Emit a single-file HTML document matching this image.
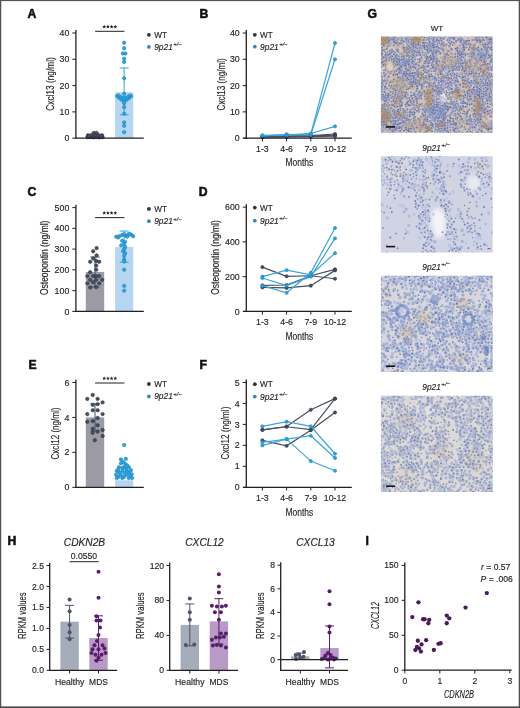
<!DOCTYPE html><html><head><meta charset="utf-8"><style>html,body{margin:0;padding:0;background:#fff;}svg{display:block;will-change:transform;} text{stroke:#231f20;stroke-width:0.15px;}</style></head><body><svg width="520" height="708" viewBox="0 0 520 708" font-family='"Liberation Sans", sans-serif' fill="#231f20">
<rect x="0" y="0" width="520" height="708" fill="#ffffff"/>
<text x="27.6" y="17.5" font-size="12.2" font-weight="bold" fill="#111" style="stroke:#111;stroke-width:0.55px">A</text>
<text x="199.6" y="17.6" font-size="12.2" font-weight="bold" fill="#111" style="stroke:#111;stroke-width:0.55px">B</text>
<text x="367.6" y="17.5" font-size="12.2" font-weight="bold" fill="#111" style="stroke:#111;stroke-width:0.55px">G</text>
<text x="27.6" y="195.9" font-size="12.2" font-weight="bold" fill="#111" style="stroke:#111;stroke-width:0.55px">C</text>
<text x="198.8" y="195.8" font-size="12.2" font-weight="bold" fill="#111" style="stroke:#111;stroke-width:0.55px">D</text>
<text x="28.6" y="368.8" font-size="12.2" font-weight="bold" fill="#111" style="stroke:#111;stroke-width:0.55px">E</text>
<text x="199.6" y="368.8" font-size="12.2" font-weight="bold" fill="#111" style="stroke:#111;stroke-width:0.55px">F</text>
<text x="7.4" y="545.4" font-size="12.2" font-weight="bold" fill="#111" style="stroke:#111;stroke-width:0.55px">H</text>
<text x="365.4" y="545.3" font-size="12.2" font-weight="bold" fill="#111" style="stroke:#111;stroke-width:0.55px">I</text>
<rect x="85.8" y="135.57" width="18.400000000000006" height="2.6299999999999955" fill="#9b9ba6"/>
<rect x="115.1" y="92.17499999999998" width="18.099999999999994" height="46.025000000000006" fill="#b6d5f0"/>
<line x1="124.15" y1="67.979" x2="124.15" y2="114.79299999999999" stroke="#2ca4e0" stroke-width="1.0"/>
<line x1="119.65" y1="67.979" x2="128.65" y2="67.979" stroke="#2ca4e0" stroke-width="1.0"/>
<line x1="119.65" y1="114.79299999999999" x2="128.65" y2="114.79299999999999" stroke="#2ca4e0" stroke-width="1.0"/>
<circle cx="87.50" cy="137.15" r="1.70" fill="#465060" stroke="#2a303c" stroke-width="0.6"/>
<circle cx="90.50" cy="137.15" r="1.70" fill="#465060" stroke="#2a303c" stroke-width="0.6"/>
<circle cx="93.50" cy="137.41" r="1.70" fill="#465060" stroke="#2a303c" stroke-width="0.6"/>
<circle cx="96.50" cy="137.15" r="1.70" fill="#465060" stroke="#2a303c" stroke-width="0.6"/>
<circle cx="99.50" cy="137.41" r="1.70" fill="#465060" stroke="#2a303c" stroke-width="0.6"/>
<circle cx="102.50" cy="137.15" r="1.70" fill="#465060" stroke="#2a303c" stroke-width="0.6"/>
<circle cx="88.00" cy="135.31" r="1.70" fill="#465060" stroke="#2a303c" stroke-width="0.6"/>
<circle cx="91.50" cy="135.04" r="1.70" fill="#465060" stroke="#2a303c" stroke-width="0.6"/>
<circle cx="95.00" cy="135.31" r="1.70" fill="#465060" stroke="#2a303c" stroke-width="0.6"/>
<circle cx="98.50" cy="135.04" r="1.70" fill="#465060" stroke="#2a303c" stroke-width="0.6"/>
<circle cx="102.00" cy="135.31" r="1.70" fill="#465060" stroke="#2a303c" stroke-width="0.6"/>
<circle cx="93.80" cy="132.94" r="1.70" fill="#465060" stroke="#2a303c" stroke-width="0.6"/>
<circle cx="96.50" cy="132.94" r="1.70" fill="#465060" stroke="#2a303c" stroke-width="0.6"/>
<circle cx="89.00" cy="136.10" r="1.70" fill="#465060" stroke="#2a303c" stroke-width="0.6"/>
<circle cx="101.00" cy="136.10" r="1.70" fill="#465060" stroke="#2a303c" stroke-width="0.6"/>
<circle cx="124.15" cy="42.73" r="1.70" fill="#2ca4e0" stroke="#1b86bf" stroke-width="0.6"/>
<circle cx="124.15" cy="48.25" r="1.70" fill="#2ca4e0" stroke="#1b86bf" stroke-width="0.6"/>
<circle cx="122.85" cy="53.51" r="1.70" fill="#2ca4e0" stroke="#1b86bf" stroke-width="0.6"/>
<circle cx="125.45" cy="53.51" r="1.70" fill="#2ca4e0" stroke="#1b86bf" stroke-width="0.6"/>
<circle cx="124.15" cy="58.77" r="1.70" fill="#2ca4e0" stroke="#1b86bf" stroke-width="0.6"/>
<circle cx="124.15" cy="61.93" r="1.70" fill="#2ca4e0" stroke="#1b86bf" stroke-width="0.6"/>
<circle cx="124.15" cy="78.24" r="1.70" fill="#2ca4e0" stroke="#1b86bf" stroke-width="0.6"/>
<circle cx="124.15" cy="93.75" r="1.70" fill="#2ca4e0" stroke="#1b86bf" stroke-width="0.6"/>
<circle cx="117.15" cy="96.12" r="1.70" fill="#2ca4e0" stroke="#1b86bf" stroke-width="0.6"/>
<circle cx="131.15" cy="96.12" r="1.70" fill="#2ca4e0" stroke="#1b86bf" stroke-width="0.6"/>
<circle cx="118.65" cy="95.59" r="1.70" fill="#2ca4e0" stroke="#1b86bf" stroke-width="0.6"/>
<circle cx="129.65" cy="95.59" r="1.70" fill="#2ca4e0" stroke="#1b86bf" stroke-width="0.6"/>
<circle cx="119.45" cy="98.22" r="1.70" fill="#2ca4e0" stroke="#1b86bf" stroke-width="0.6"/>
<circle cx="128.85" cy="98.22" r="1.70" fill="#2ca4e0" stroke="#1b86bf" stroke-width="0.6"/>
<circle cx="120.95" cy="97.17" r="1.70" fill="#2ca4e0" stroke="#1b86bf" stroke-width="0.6"/>
<circle cx="127.35" cy="97.17" r="1.70" fill="#2ca4e0" stroke="#1b86bf" stroke-width="0.6"/>
<circle cx="121.85" cy="99.80" r="1.70" fill="#2ca4e0" stroke="#1b86bf" stroke-width="0.6"/>
<circle cx="126.45" cy="99.80" r="1.70" fill="#2ca4e0" stroke="#1b86bf" stroke-width="0.6"/>
<circle cx="123.15" cy="98.22" r="1.70" fill="#2ca4e0" stroke="#1b86bf" stroke-width="0.6"/>
<circle cx="125.15" cy="98.22" r="1.70" fill="#2ca4e0" stroke="#1b86bf" stroke-width="0.6"/>
<circle cx="124.15" cy="101.12" r="1.70" fill="#2ca4e0" stroke="#1b86bf" stroke-width="0.6"/>
<circle cx="124.15" cy="103.22" r="1.70" fill="#2ca4e0" stroke="#1b86bf" stroke-width="0.6"/>
<circle cx="124.15" cy="107.17" r="1.70" fill="#2ca4e0" stroke="#1b86bf" stroke-width="0.6"/>
<circle cx="124.15" cy="113.74" r="1.70" fill="#2ca4e0" stroke="#1b86bf" stroke-width="0.6"/>
<circle cx="124.15" cy="122.42" r="1.70" fill="#2ca4e0" stroke="#1b86bf" stroke-width="0.6"/>
<circle cx="124.15" cy="125.84" r="1.70" fill="#2ca4e0" stroke="#1b86bf" stroke-width="0.6"/>
<circle cx="124.15" cy="132.15" r="1.70" fill="#2ca4e0" stroke="#1b86bf" stroke-width="0.6"/>
<line x1="75.9" y1="30.1" x2="75.9" y2="138.79999999999998" stroke="#231f20" stroke-width="1.3"/>
<line x1="75.30000000000001" y1="138.2" x2="143.8" y2="138.2" stroke="#231f20" stroke-width="1.3"/>
<line x1="72.30000000000001" y1="138.2" x2="75.9" y2="138.2" stroke="#231f20" stroke-width="1.0"/>
<text x="69.30000000000001" y="141.29999999999998" font-size="8.8" text-anchor="end">0</text>
<line x1="72.30000000000001" y1="111.89999999999999" x2="75.9" y2="111.89999999999999" stroke="#231f20" stroke-width="1.0"/>
<text x="69.30000000000001" y="114.99999999999999" font-size="8.8" text-anchor="end">10</text>
<line x1="72.30000000000001" y1="85.6" x2="75.9" y2="85.6" stroke="#231f20" stroke-width="1.0"/>
<text x="69.30000000000001" y="88.69999999999999" font-size="8.8" text-anchor="end">20</text>
<line x1="72.30000000000001" y1="59.3" x2="75.9" y2="59.3" stroke="#231f20" stroke-width="1.0"/>
<text x="69.30000000000001" y="62.4" font-size="8.8" text-anchor="end">30</text>
<line x1="72.30000000000001" y1="33.0" x2="75.9" y2="33.0" stroke="#231f20" stroke-width="1.0"/>
<text x="69.30000000000001" y="36.1" font-size="8.8" text-anchor="end">40</text>
<text x="54.4" y="84.0" font-size="10.2" text-anchor="middle" transform="rotate(-90 54.4 84.0)" textLength="53.5" lengthAdjust="spacingAndGlyphs">Cxcl13 (ng/ml)</text>
<line x1="95.1" y1="31.3" x2="124.4" y2="31.3" stroke="#231f20" stroke-width="1.0"/>
<polygon points="104.20,24.80 104.76,25.93 106.01,26.11 105.10,26.99 105.32,28.24 104.20,27.65 103.08,28.24 103.30,26.99 102.39,26.11 103.64,25.93" fill="#231f20"/>
<polygon points="107.90,24.80 108.46,25.93 109.71,26.11 108.80,26.99 109.02,28.24 107.90,27.65 106.78,28.24 107.00,26.99 106.09,26.11 107.34,25.93" fill="#231f20"/>
<polygon points="111.60,24.80 112.16,25.93 113.41,26.11 112.50,26.99 112.72,28.24 111.60,27.65 110.48,28.24 110.70,26.99 109.79,26.11 111.04,25.93" fill="#231f20"/>
<polygon points="115.30,24.80 115.86,25.93 117.11,26.11 116.20,26.99 116.42,28.24 115.30,27.65 114.18,28.24 114.40,26.99 113.49,26.11 114.74,25.93" fill="#231f20"/>
<circle cx="148.90" cy="34.80" r="1.9" fill="#2e3445"/>
<text x="154.20000000000002" y="37.699999999999996" font-size="8.2" text-anchor="start">WT</text>
<circle cx="148.90" cy="46.90" r="1.9" fill="#2e8db8"/>
<text x="154.20000000000002" y="49.8" font-size="8.4" font-style="italic" fill="#231f20">9p21<tspan font-size="6.0" dy="-3.6" dx="0.4">+/−</tspan></text>
<polyline points="262.4,136.88 286.6,136.62 310.8,136.10 335.0,135.04" fill="none" stroke="#465060" stroke-width="1.2"/>
<circle cx="262.40" cy="136.88" r="1.60" fill="#465060" stroke="#2a303c" stroke-width="0.6"/>
<circle cx="286.60" cy="136.62" r="1.60" fill="#465060" stroke="#2a303c" stroke-width="0.6"/>
<circle cx="310.80" cy="136.10" r="1.60" fill="#465060" stroke="#2a303c" stroke-width="0.6"/>
<circle cx="335.00" cy="135.04" r="1.60" fill="#465060" stroke="#2a303c" stroke-width="0.6"/>
<polyline points="262.4,136.36 286.6,135.83 310.8,135.57 335.0,133.99" fill="none" stroke="#465060" stroke-width="1.2"/>
<circle cx="262.40" cy="136.36" r="1.60" fill="#465060" stroke="#2a303c" stroke-width="0.6"/>
<circle cx="286.60" cy="135.83" r="1.60" fill="#465060" stroke="#2a303c" stroke-width="0.6"/>
<circle cx="310.80" cy="135.57" r="1.60" fill="#465060" stroke="#2a303c" stroke-width="0.6"/>
<circle cx="335.00" cy="133.99" r="1.60" fill="#465060" stroke="#2a303c" stroke-width="0.6"/>
<polyline points="262.4,137.15 286.6,136.88 310.8,136.62 335.0,136.10" fill="none" stroke="#465060" stroke-width="1.2"/>
<circle cx="262.40" cy="137.15" r="1.60" fill="#465060" stroke="#2a303c" stroke-width="0.6"/>
<circle cx="286.60" cy="136.88" r="1.60" fill="#465060" stroke="#2a303c" stroke-width="0.6"/>
<circle cx="310.80" cy="136.62" r="1.60" fill="#465060" stroke="#2a303c" stroke-width="0.6"/>
<circle cx="335.00" cy="136.10" r="1.60" fill="#465060" stroke="#2a303c" stroke-width="0.6"/>
<polyline points="262.4,135.57 286.6,134.78 310.8,134.25 335.0,42.99" fill="none" stroke="#3aa6dc" stroke-width="1.2"/>
<circle cx="262.40" cy="135.57" r="1.60" fill="#2ca4e0" stroke="#1b86bf" stroke-width="0.6"/>
<circle cx="286.60" cy="134.78" r="1.60" fill="#2ca4e0" stroke="#1b86bf" stroke-width="0.6"/>
<circle cx="310.80" cy="134.25" r="1.60" fill="#2ca4e0" stroke="#1b86bf" stroke-width="0.6"/>
<circle cx="335.00" cy="42.99" r="1.60" fill="#2ca4e0" stroke="#1b86bf" stroke-width="0.6"/>
<polyline points="262.4,136.10 286.6,134.25 310.8,134.78 335.0,59.30" fill="none" stroke="#3aa6dc" stroke-width="1.2"/>
<circle cx="262.40" cy="136.10" r="1.60" fill="#2ca4e0" stroke="#1b86bf" stroke-width="0.6"/>
<circle cx="286.60" cy="134.25" r="1.60" fill="#2ca4e0" stroke="#1b86bf" stroke-width="0.6"/>
<circle cx="310.80" cy="134.78" r="1.60" fill="#2ca4e0" stroke="#1b86bf" stroke-width="0.6"/>
<circle cx="335.00" cy="59.30" r="1.60" fill="#2ca4e0" stroke="#1b86bf" stroke-width="0.6"/>
<polyline points="262.4,135.31 286.6,135.04 310.8,133.47 335.0,126.36" fill="none" stroke="#3aa6dc" stroke-width="1.2"/>
<circle cx="262.40" cy="135.31" r="1.60" fill="#2ca4e0" stroke="#1b86bf" stroke-width="0.6"/>
<circle cx="286.60" cy="135.04" r="1.60" fill="#2ca4e0" stroke="#1b86bf" stroke-width="0.6"/>
<circle cx="310.80" cy="133.47" r="1.60" fill="#2ca4e0" stroke="#1b86bf" stroke-width="0.6"/>
<circle cx="335.00" cy="126.36" r="1.60" fill="#2ca4e0" stroke="#1b86bf" stroke-width="0.6"/>
<line x1="246.3" y1="30.1" x2="246.3" y2="138.79999999999998" stroke="#231f20" stroke-width="1.3"/>
<line x1="243.5" y1="138.2" x2="351.8" y2="138.2" stroke="#231f20" stroke-width="1.3"/>
<line x1="242.70000000000002" y1="138.2" x2="246.3" y2="138.2" stroke="#231f20" stroke-width="1.0"/>
<text x="239.70000000000002" y="141.29999999999998" font-size="8.8" text-anchor="end">0</text>
<line x1="242.70000000000002" y1="111.89999999999999" x2="246.3" y2="111.89999999999999" stroke="#231f20" stroke-width="1.0"/>
<text x="239.70000000000002" y="114.99999999999999" font-size="8.8" text-anchor="end">10</text>
<line x1="242.70000000000002" y1="85.6" x2="246.3" y2="85.6" stroke="#231f20" stroke-width="1.0"/>
<text x="239.70000000000002" y="88.69999999999999" font-size="8.8" text-anchor="end">20</text>
<line x1="242.70000000000002" y1="59.3" x2="246.3" y2="59.3" stroke="#231f20" stroke-width="1.0"/>
<text x="239.70000000000002" y="62.4" font-size="8.8" text-anchor="end">30</text>
<line x1="242.70000000000002" y1="33.0" x2="246.3" y2="33.0" stroke="#231f20" stroke-width="1.0"/>
<text x="239.70000000000002" y="36.1" font-size="8.8" text-anchor="end">40</text>
<line x1="262.4" y1="138.2" x2="262.4" y2="141.39999999999998" stroke="#231f20" stroke-width="1.0"/>
<text x="262.4" y="151.7" font-size="8.8" text-anchor="middle">1-3</text>
<line x1="286.6" y1="138.2" x2="286.6" y2="141.39999999999998" stroke="#231f20" stroke-width="1.0"/>
<text x="286.6" y="151.7" font-size="8.8" text-anchor="middle">4-6</text>
<line x1="310.8" y1="138.2" x2="310.8" y2="141.39999999999998" stroke="#231f20" stroke-width="1.0"/>
<text x="310.8" y="151.7" font-size="8.8" text-anchor="middle">7-9</text>
<line x1="335.0" y1="138.2" x2="335.0" y2="141.39999999999998" stroke="#231f20" stroke-width="1.0"/>
<text x="335.0" y="151.7" font-size="8.8" text-anchor="middle">10-12</text>
<text x="299.3" y="166.39999999999998" font-size="10.4" text-anchor="middle" textLength="27.8" lengthAdjust="spacingAndGlyphs">Months</text>
<text x="224.7" y="84.3" font-size="10.2" text-anchor="middle" transform="rotate(-90 224.7 84.3)" textLength="52.2" lengthAdjust="spacingAndGlyphs">Cxcl13 (ng/ml)</text>
<circle cx="254.80" cy="34.80" r="1.9" fill="#2e3445"/>
<text x="260.1" y="37.699999999999996" font-size="8.2" text-anchor="start">WT</text>
<circle cx="254.80" cy="46.70" r="1.9" fill="#2e8db8"/>
<text x="260.1" y="49.599999999999994" font-size="8.4" font-style="italic" fill="#231f20">9p21<tspan font-size="6.0" dy="-3.6" dx="0.4">+/−</tspan></text>
<rect x="85.8" y="271.95599999999996" width="18.400000000000006" height="39.44400000000002" fill="#9b9ba6"/>
<rect x="115.1" y="247.04399999999998" width="18.099999999999994" height="64.356" fill="#b6d5f0"/>
<line x1="95.0" y1="257.00879999999995" x2="95.0" y2="286.90319999999997" stroke="#465060" stroke-width="1.0"/>
<line x1="90.5" y1="257.00879999999995" x2="99.5" y2="257.00879999999995" stroke="#465060" stroke-width="1.0"/>
<line x1="90.5" y1="286.90319999999997" x2="99.5" y2="286.90319999999997" stroke="#465060" stroke-width="1.0"/>
<line x1="124.15" y1="231.05879999999996" x2="124.15" y2="262.1988" stroke="#2ca4e0" stroke-width="1.0"/>
<line x1="119.65" y1="231.05879999999996" x2="128.65" y2="231.05879999999996" stroke="#2ca4e0" stroke-width="1.0"/>
<line x1="119.65" y1="262.1988" x2="128.65" y2="262.1988" stroke="#2ca4e0" stroke-width="1.0"/>
<circle cx="96.60" cy="248.08" r="1.70" fill="#465060" stroke="#2a303c" stroke-width="0.6"/>
<circle cx="93.20" cy="251.20" r="1.70" fill="#465060" stroke="#2a303c" stroke-width="0.6"/>
<circle cx="96.60" cy="255.35" r="1.70" fill="#465060" stroke="#2a303c" stroke-width="0.6"/>
<circle cx="93.20" cy="258.46" r="1.70" fill="#465060" stroke="#2a303c" stroke-width="0.6"/>
<circle cx="90.20" cy="261.78" r="1.70" fill="#465060" stroke="#2a303c" stroke-width="0.6"/>
<circle cx="96.20" cy="260.95" r="1.70" fill="#465060" stroke="#2a303c" stroke-width="0.6"/>
<circle cx="99.20" cy="261.78" r="1.70" fill="#465060" stroke="#2a303c" stroke-width="0.6"/>
<circle cx="96.20" cy="265.52" r="1.70" fill="#465060" stroke="#2a303c" stroke-width="0.6"/>
<circle cx="96.20" cy="269.67" r="1.70" fill="#465060" stroke="#2a303c" stroke-width="0.6"/>
<circle cx="90.20" cy="272.16" r="1.70" fill="#465060" stroke="#2a303c" stroke-width="0.6"/>
<circle cx="87.40" cy="276.11" r="1.70" fill="#465060" stroke="#2a303c" stroke-width="0.6"/>
<circle cx="93.20" cy="276.11" r="1.70" fill="#465060" stroke="#2a303c" stroke-width="0.6"/>
<circle cx="96.20" cy="276.11" r="1.70" fill="#465060" stroke="#2a303c" stroke-width="0.6"/>
<circle cx="99.20" cy="276.11" r="1.70" fill="#465060" stroke="#2a303c" stroke-width="0.6"/>
<circle cx="90.20" cy="279.84" r="1.70" fill="#465060" stroke="#2a303c" stroke-width="0.6"/>
<circle cx="96.20" cy="279.84" r="1.70" fill="#465060" stroke="#2a303c" stroke-width="0.6"/>
<circle cx="102.20" cy="279.84" r="1.70" fill="#465060" stroke="#2a303c" stroke-width="0.6"/>
<circle cx="87.40" cy="283.37" r="1.70" fill="#465060" stroke="#2a303c" stroke-width="0.6"/>
<circle cx="93.20" cy="282.34" r="1.70" fill="#465060" stroke="#2a303c" stroke-width="0.6"/>
<circle cx="99.20" cy="283.37" r="1.70" fill="#465060" stroke="#2a303c" stroke-width="0.6"/>
<circle cx="90.20" cy="287.53" r="1.70" fill="#465060" stroke="#2a303c" stroke-width="0.6"/>
<circle cx="96.20" cy="287.11" r="1.70" fill="#465060" stroke="#2a303c" stroke-width="0.6"/>
<circle cx="116.15" cy="236.66" r="1.70" fill="#2ca4e0" stroke="#1b86bf" stroke-width="0.6"/>
<circle cx="119.15" cy="236.25" r="1.70" fill="#2ca4e0" stroke="#1b86bf" stroke-width="0.6"/>
<circle cx="122.15" cy="235.00" r="1.70" fill="#2ca4e0" stroke="#1b86bf" stroke-width="0.6"/>
<circle cx="125.15" cy="235.42" r="1.70" fill="#2ca4e0" stroke="#1b86bf" stroke-width="0.6"/>
<circle cx="128.15" cy="235.00" r="1.70" fill="#2ca4e0" stroke="#1b86bf" stroke-width="0.6"/>
<circle cx="131.15" cy="234.59" r="1.70" fill="#2ca4e0" stroke="#1b86bf" stroke-width="0.6"/>
<circle cx="133.15" cy="236.25" r="1.70" fill="#2ca4e0" stroke="#1b86bf" stroke-width="0.6"/>
<circle cx="118.15" cy="237.49" r="1.70" fill="#2ca4e0" stroke="#1b86bf" stroke-width="0.6"/>
<circle cx="127.15" cy="236.66" r="1.70" fill="#2ca4e0" stroke="#1b86bf" stroke-width="0.6"/>
<circle cx="124.15" cy="234.17" r="1.70" fill="#2ca4e0" stroke="#1b86bf" stroke-width="0.6"/>
<circle cx="129.15" cy="233.76" r="1.70" fill="#2ca4e0" stroke="#1b86bf" stroke-width="0.6"/>
<circle cx="122.15" cy="240.82" r="1.70" fill="#2ca4e0" stroke="#1b86bf" stroke-width="0.6"/>
<circle cx="125.15" cy="241.85" r="1.70" fill="#2ca4e0" stroke="#1b86bf" stroke-width="0.6"/>
<circle cx="124.15" cy="243.93" r="1.70" fill="#2ca4e0" stroke="#1b86bf" stroke-width="0.6"/>
<circle cx="121.15" cy="245.38" r="1.70" fill="#2ca4e0" stroke="#1b86bf" stroke-width="0.6"/>
<circle cx="125.15" cy="247.04" r="1.70" fill="#2ca4e0" stroke="#1b86bf" stroke-width="0.6"/>
<circle cx="124.15" cy="249.12" r="1.70" fill="#2ca4e0" stroke="#1b86bf" stroke-width="0.6"/>
<circle cx="123.15" cy="251.20" r="1.70" fill="#2ca4e0" stroke="#1b86bf" stroke-width="0.6"/>
<circle cx="125.15" cy="253.27" r="1.70" fill="#2ca4e0" stroke="#1b86bf" stroke-width="0.6"/>
<circle cx="124.15" cy="255.76" r="1.70" fill="#2ca4e0" stroke="#1b86bf" stroke-width="0.6"/>
<circle cx="124.15" cy="259.50" r="1.70" fill="#2ca4e0" stroke="#1b86bf" stroke-width="0.6"/>
<circle cx="124.15" cy="261.58" r="1.70" fill="#2ca4e0" stroke="#1b86bf" stroke-width="0.6"/>
<circle cx="124.15" cy="269.67" r="1.70" fill="#2ca4e0" stroke="#1b86bf" stroke-width="0.6"/>
<circle cx="124.15" cy="285.87" r="1.70" fill="#2ca4e0" stroke="#1b86bf" stroke-width="0.6"/>
<circle cx="124.15" cy="290.64" r="1.70" fill="#2ca4e0" stroke="#1b86bf" stroke-width="0.6"/>
<line x1="75.9" y1="204.69999999999996" x2="75.9" y2="312.0" stroke="#231f20" stroke-width="1.3"/>
<line x1="75.30000000000001" y1="311.4" x2="143.8" y2="311.4" stroke="#231f20" stroke-width="1.3"/>
<line x1="72.30000000000001" y1="311.4" x2="75.9" y2="311.4" stroke="#231f20" stroke-width="1.0"/>
<text x="69.30000000000001" y="314.5" font-size="8.8" text-anchor="end">0</text>
<line x1="72.30000000000001" y1="290.64" x2="75.9" y2="290.64" stroke="#231f20" stroke-width="1.0"/>
<text x="69.30000000000001" y="293.74" font-size="8.8" text-anchor="end">100</text>
<line x1="72.30000000000001" y1="269.88" x2="75.9" y2="269.88" stroke="#231f20" stroke-width="1.0"/>
<text x="69.30000000000001" y="272.98" font-size="8.8" text-anchor="end">200</text>
<line x1="72.30000000000001" y1="249.11999999999998" x2="75.9" y2="249.11999999999998" stroke="#231f20" stroke-width="1.0"/>
<text x="69.30000000000001" y="252.21999999999997" font-size="8.8" text-anchor="end">300</text>
<line x1="72.30000000000001" y1="228.35999999999996" x2="75.9" y2="228.35999999999996" stroke="#231f20" stroke-width="1.0"/>
<text x="69.30000000000001" y="231.45999999999995" font-size="8.8" text-anchor="end">400</text>
<line x1="72.30000000000001" y1="207.59999999999997" x2="75.9" y2="207.59999999999997" stroke="#231f20" stroke-width="1.0"/>
<text x="69.30000000000001" y="210.69999999999996" font-size="8.8" text-anchor="end">500</text>
<text x="48.1" y="257.8" font-size="10.2" text-anchor="middle" transform="rotate(-90 48.1 257.8)" textLength="74.5" lengthAdjust="spacingAndGlyphs">Osteopontin (ng/ml)</text>
<line x1="95.1" y1="217.6" x2="124.4" y2="217.6" stroke="#231f20" stroke-width="1.0"/>
<polygon points="104.20,211.10 104.76,212.23 106.01,212.41 105.10,213.29 105.32,214.54 104.20,213.95 103.08,214.54 103.30,213.29 102.39,212.41 103.64,212.23" fill="#231f20"/>
<polygon points="107.90,211.10 108.46,212.23 109.71,212.41 108.80,213.29 109.02,214.54 107.90,213.95 106.78,214.54 107.00,213.29 106.09,212.41 107.34,212.23" fill="#231f20"/>
<polygon points="111.60,211.10 112.16,212.23 113.41,212.41 112.50,213.29 112.72,214.54 111.60,213.95 110.48,214.54 110.70,213.29 109.79,212.41 111.04,212.23" fill="#231f20"/>
<polygon points="115.30,211.10 115.86,212.23 117.11,212.41 116.20,213.29 116.42,214.54 115.30,213.95 114.18,214.54 114.40,213.29 113.49,212.41 114.74,212.23" fill="#231f20"/>
<circle cx="148.90" cy="208.90" r="1.9" fill="#2e3445"/>
<text x="154.20000000000002" y="211.8" font-size="8.2" text-anchor="start">WT</text>
<circle cx="148.90" cy="221.20" r="1.9" fill="#2e8db8"/>
<text x="154.20000000000002" y="224.10000000000002" font-size="8.4" font-style="italic" fill="#231f20">9p21<tspan font-size="6.0" dy="-3.6" dx="0.4">+/−</tspan></text>
<polyline points="262.4,267.08 286.6,276.29 310.8,275.77 335.0,278.73" fill="none" stroke="#465060" stroke-width="1.2"/>
<circle cx="262.40" cy="267.08" r="1.60" fill="#465060" stroke="#2a303c" stroke-width="0.6"/>
<circle cx="286.60" cy="276.29" r="1.60" fill="#465060" stroke="#2a303c" stroke-width="0.6"/>
<circle cx="310.80" cy="275.77" r="1.60" fill="#465060" stroke="#2a303c" stroke-width="0.6"/>
<circle cx="335.00" cy="278.73" r="1.60" fill="#465060" stroke="#2a303c" stroke-width="0.6"/>
<polyline points="262.4,285.33 286.6,284.98 310.8,275.77 335.0,269.34" fill="none" stroke="#465060" stroke-width="1.2"/>
<circle cx="262.40" cy="285.33" r="1.60" fill="#465060" stroke="#2a303c" stroke-width="0.6"/>
<circle cx="286.60" cy="284.98" r="1.60" fill="#465060" stroke="#2a303c" stroke-width="0.6"/>
<circle cx="310.80" cy="275.77" r="1.60" fill="#465060" stroke="#2a303c" stroke-width="0.6"/>
<circle cx="335.00" cy="269.34" r="1.60" fill="#465060" stroke="#2a303c" stroke-width="0.6"/>
<polyline points="262.4,287.42 286.6,287.94 310.8,285.68 335.0,270.38" fill="none" stroke="#465060" stroke-width="1.2"/>
<circle cx="262.40" cy="287.42" r="1.60" fill="#465060" stroke="#2a303c" stroke-width="0.6"/>
<circle cx="286.60" cy="287.94" r="1.60" fill="#465060" stroke="#2a303c" stroke-width="0.6"/>
<circle cx="310.80" cy="285.68" r="1.60" fill="#465060" stroke="#2a303c" stroke-width="0.6"/>
<circle cx="335.00" cy="270.38" r="1.60" fill="#465060" stroke="#2a303c" stroke-width="0.6"/>
<polyline points="262.4,276.64 286.6,270.21 310.8,274.90 335.0,253.18" fill="none" stroke="#3aa6dc" stroke-width="1.2"/>
<circle cx="262.40" cy="276.64" r="1.60" fill="#2ca4e0" stroke="#1b86bf" stroke-width="0.6"/>
<circle cx="286.60" cy="270.21" r="1.60" fill="#2ca4e0" stroke="#1b86bf" stroke-width="0.6"/>
<circle cx="310.80" cy="274.90" r="1.60" fill="#2ca4e0" stroke="#1b86bf" stroke-width="0.6"/>
<circle cx="335.00" cy="253.18" r="1.60" fill="#2ca4e0" stroke="#1b86bf" stroke-width="0.6"/>
<polyline points="262.4,278.03 286.6,285.68 310.8,276.64 335.0,238.40" fill="none" stroke="#3aa6dc" stroke-width="1.2"/>
<circle cx="262.40" cy="278.03" r="1.60" fill="#2ca4e0" stroke="#1b86bf" stroke-width="0.6"/>
<circle cx="286.60" cy="285.68" r="1.60" fill="#2ca4e0" stroke="#1b86bf" stroke-width="0.6"/>
<circle cx="310.80" cy="276.64" r="1.60" fill="#2ca4e0" stroke="#1b86bf" stroke-width="0.6"/>
<circle cx="335.00" cy="238.40" r="1.60" fill="#2ca4e0" stroke="#1b86bf" stroke-width="0.6"/>
<polyline points="262.4,285.68 286.6,292.80 310.8,272.82 335.0,227.98" fill="none" stroke="#3aa6dc" stroke-width="1.2"/>
<circle cx="262.40" cy="285.68" r="1.60" fill="#2ca4e0" stroke="#1b86bf" stroke-width="0.6"/>
<circle cx="286.60" cy="292.80" r="1.60" fill="#2ca4e0" stroke="#1b86bf" stroke-width="0.6"/>
<circle cx="310.80" cy="272.82" r="1.60" fill="#2ca4e0" stroke="#1b86bf" stroke-width="0.6"/>
<circle cx="335.00" cy="227.98" r="1.60" fill="#2ca4e0" stroke="#1b86bf" stroke-width="0.6"/>
<line x1="246.3" y1="204.21999999999997" x2="246.3" y2="312.0" stroke="#231f20" stroke-width="1.3"/>
<line x1="243.5" y1="311.4" x2="351.8" y2="311.4" stroke="#231f20" stroke-width="1.3"/>
<line x1="242.70000000000002" y1="311.4" x2="246.3" y2="311.4" stroke="#231f20" stroke-width="1.0"/>
<text x="239.70000000000002" y="314.5" font-size="8.8" text-anchor="end">0</text>
<line x1="242.70000000000002" y1="276.64" x2="246.3" y2="276.64" stroke="#231f20" stroke-width="1.0"/>
<text x="239.70000000000002" y="279.74" font-size="8.8" text-anchor="end">200</text>
<line x1="242.70000000000002" y1="241.87999999999997" x2="246.3" y2="241.87999999999997" stroke="#231f20" stroke-width="1.0"/>
<text x="239.70000000000002" y="244.97999999999996" font-size="8.8" text-anchor="end">400</text>
<line x1="242.70000000000002" y1="207.11999999999998" x2="246.3" y2="207.11999999999998" stroke="#231f20" stroke-width="1.0"/>
<text x="239.70000000000002" y="210.21999999999997" font-size="8.8" text-anchor="end">600</text>
<line x1="262.4" y1="311.4" x2="262.4" y2="314.59999999999997" stroke="#231f20" stroke-width="1.0"/>
<text x="262.4" y="324.9" font-size="8.8" text-anchor="middle">1-3</text>
<line x1="286.6" y1="311.4" x2="286.6" y2="314.59999999999997" stroke="#231f20" stroke-width="1.0"/>
<text x="286.6" y="324.9" font-size="8.8" text-anchor="middle">4-6</text>
<line x1="310.8" y1="311.4" x2="310.8" y2="314.59999999999997" stroke="#231f20" stroke-width="1.0"/>
<text x="310.8" y="324.9" font-size="8.8" text-anchor="middle">7-9</text>
<line x1="335.0" y1="311.4" x2="335.0" y2="314.59999999999997" stroke="#231f20" stroke-width="1.0"/>
<text x="335.0" y="324.9" font-size="8.8" text-anchor="middle">10-12</text>
<text x="299.3" y="339.59999999999997" font-size="10.4" text-anchor="middle" textLength="27.8" lengthAdjust="spacingAndGlyphs">Months</text>
<text x="218.5" y="257.5" font-size="10.2" text-anchor="middle" transform="rotate(-90 218.5 257.5)" textLength="74.5" lengthAdjust="spacingAndGlyphs">Osteopontin (ng/ml)</text>
<circle cx="254.80" cy="207.60" r="1.9" fill="#2e3445"/>
<text x="260.1" y="210.5" font-size="8.2" text-anchor="start">WT</text>
<circle cx="254.80" cy="220.70" r="1.9" fill="#2e8db8"/>
<text x="260.1" y="223.6" font-size="8.4" font-style="italic" fill="#231f20">9p21<tspan font-size="6.0" dy="-3.6" dx="0.4">+/−</tspan></text>
<rect x="85.8" y="417.42" width="18.400000000000006" height="69.88" fill="#9b9ba6"/>
<rect x="115.1" y="480.312" width="18.099999999999994" height="6.9879999999999995" fill="#b6d5f0"/>
<line x1="95.0" y1="403.7934" x2="95.0" y2="431.0466" stroke="#465060" stroke-width="1.0"/>
<line x1="90.5" y1="403.7934" x2="99.5" y2="403.7934" stroke="#465060" stroke-width="1.0"/>
<line x1="90.5" y1="431.0466" x2="99.5" y2="431.0466" stroke="#465060" stroke-width="1.0"/>
<circle cx="92.70" cy="394.88" r="1.70" fill="#465060" stroke="#2a303c" stroke-width="0.6"/>
<circle cx="87.30" cy="398.90" r="1.70" fill="#465060" stroke="#2a303c" stroke-width="0.6"/>
<circle cx="97.60" cy="398.90" r="1.70" fill="#465060" stroke="#2a303c" stroke-width="0.6"/>
<circle cx="102.60" cy="402.40" r="1.70" fill="#465060" stroke="#2a303c" stroke-width="0.6"/>
<circle cx="92.70" cy="404.84" r="1.70" fill="#465060" stroke="#2a303c" stroke-width="0.6"/>
<circle cx="97.60" cy="404.14" r="1.70" fill="#465060" stroke="#2a303c" stroke-width="0.6"/>
<circle cx="92.70" cy="410.26" r="1.70" fill="#465060" stroke="#2a303c" stroke-width="0.6"/>
<circle cx="97.60" cy="410.26" r="1.70" fill="#465060" stroke="#2a303c" stroke-width="0.6"/>
<circle cx="87.30" cy="414.10" r="1.70" fill="#465060" stroke="#2a303c" stroke-width="0.6"/>
<circle cx="102.60" cy="414.10" r="1.70" fill="#465060" stroke="#2a303c" stroke-width="0.6"/>
<circle cx="97.60" cy="417.94" r="1.70" fill="#465060" stroke="#2a303c" stroke-width="0.6"/>
<circle cx="87.30" cy="421.79" r="1.70" fill="#465060" stroke="#2a303c" stroke-width="0.6"/>
<circle cx="92.70" cy="421.09" r="1.70" fill="#465060" stroke="#2a303c" stroke-width="0.6"/>
<circle cx="97.60" cy="425.28" r="1.70" fill="#465060" stroke="#2a303c" stroke-width="0.6"/>
<circle cx="92.70" cy="428.78" r="1.70" fill="#465060" stroke="#2a303c" stroke-width="0.6"/>
<circle cx="102.60" cy="430.00" r="1.70" fill="#465060" stroke="#2a303c" stroke-width="0.6"/>
<circle cx="92.70" cy="432.79" r="1.70" fill="#465060" stroke="#2a303c" stroke-width="0.6"/>
<circle cx="97.60" cy="431.57" r="1.70" fill="#465060" stroke="#2a303c" stroke-width="0.6"/>
<circle cx="102.60" cy="435.94" r="1.70" fill="#465060" stroke="#2a303c" stroke-width="0.6"/>
<circle cx="94.80" cy="440.13" r="1.70" fill="#465060" stroke="#2a303c" stroke-width="0.6"/>
<circle cx="124.15" cy="445.02" r="1.70" fill="#2ca4e0" stroke="#1b86bf" stroke-width="0.6"/>
<circle cx="120.95" cy="459.52" r="1.70" fill="#2ca4e0" stroke="#1b86bf" stroke-width="0.6"/>
<circle cx="125.85" cy="458.82" r="1.70" fill="#2ca4e0" stroke="#1b86bf" stroke-width="0.6"/>
<circle cx="120.95" cy="463.37" r="1.70" fill="#2ca4e0" stroke="#1b86bf" stroke-width="0.6"/>
<circle cx="125.35" cy="464.06" r="1.70" fill="#2ca4e0" stroke="#1b86bf" stroke-width="0.6"/>
<circle cx="118.85" cy="467.21" r="1.70" fill="#2ca4e0" stroke="#1b86bf" stroke-width="0.6"/>
<circle cx="123.85" cy="467.21" r="1.70" fill="#2ca4e0" stroke="#1b86bf" stroke-width="0.6"/>
<circle cx="128.75" cy="467.21" r="1.70" fill="#2ca4e0" stroke="#1b86bf" stroke-width="0.6"/>
<circle cx="116.75" cy="470.88" r="1.70" fill="#2ca4e0" stroke="#1b86bf" stroke-width="0.6"/>
<circle cx="122.35" cy="470.88" r="1.70" fill="#2ca4e0" stroke="#1b86bf" stroke-width="0.6"/>
<circle cx="126.85" cy="470.88" r="1.70" fill="#2ca4e0" stroke="#1b86bf" stroke-width="0.6"/>
<circle cx="130.95" cy="470.18" r="1.70" fill="#2ca4e0" stroke="#1b86bf" stroke-width="0.6"/>
<circle cx="116.05" cy="474.72" r="1.70" fill="#2ca4e0" stroke="#1b86bf" stroke-width="0.6"/>
<circle cx="120.95" cy="474.72" r="1.70" fill="#2ca4e0" stroke="#1b86bf" stroke-width="0.6"/>
<circle cx="126.65" cy="474.72" r="1.70" fill="#2ca4e0" stroke="#1b86bf" stroke-width="0.6"/>
<circle cx="131.65" cy="474.37" r="1.70" fill="#2ca4e0" stroke="#1b86bf" stroke-width="0.6"/>
<circle cx="116.75" cy="478.04" r="1.70" fill="#2ca4e0" stroke="#1b86bf" stroke-width="0.6"/>
<circle cx="122.35" cy="478.04" r="1.70" fill="#2ca4e0" stroke="#1b86bf" stroke-width="0.6"/>
<circle cx="128.75" cy="478.04" r="1.70" fill="#2ca4e0" stroke="#1b86bf" stroke-width="0.6"/>
<circle cx="132.15" cy="478.04" r="1.70" fill="#2ca4e0" stroke="#1b86bf" stroke-width="0.6"/>
<circle cx="119.15" cy="472.45" r="1.70" fill="#2ca4e0" stroke="#1b86bf" stroke-width="0.6"/>
<circle cx="124.65" cy="472.97" r="1.70" fill="#2ca4e0" stroke="#1b86bf" stroke-width="0.6"/>
<circle cx="129.15" cy="472.45" r="1.70" fill="#2ca4e0" stroke="#1b86bf" stroke-width="0.6"/>
<circle cx="118.65" cy="476.82" r="1.70" fill="#2ca4e0" stroke="#1b86bf" stroke-width="0.6"/>
<circle cx="124.15" cy="476.82" r="1.70" fill="#2ca4e0" stroke="#1b86bf" stroke-width="0.6"/>
<circle cx="126.15" cy="468.96" r="1.70" fill="#2ca4e0" stroke="#1b86bf" stroke-width="0.6"/>
<circle cx="122.15" cy="468.08" r="1.70" fill="#2ca4e0" stroke="#1b86bf" stroke-width="0.6"/>
<circle cx="118.15" cy="469.83" r="1.70" fill="#2ca4e0" stroke="#1b86bf" stroke-width="0.6"/>
<circle cx="130.15" cy="475.94" r="1.70" fill="#2ca4e0" stroke="#1b86bf" stroke-width="0.6"/>
<circle cx="123.15" cy="461.97" r="1.70" fill="#2ca4e0" stroke="#1b86bf" stroke-width="0.6"/>
<circle cx="127.15" cy="465.46" r="1.70" fill="#2ca4e0" stroke="#1b86bf" stroke-width="0.6"/>
<line x1="75.9" y1="379.58000000000004" x2="75.9" y2="487.90000000000003" stroke="#231f20" stroke-width="1.3"/>
<line x1="75.30000000000001" y1="487.3" x2="143.8" y2="487.3" stroke="#231f20" stroke-width="1.3"/>
<line x1="72.30000000000001" y1="487.3" x2="75.9" y2="487.3" stroke="#231f20" stroke-width="1.0"/>
<text x="69.30000000000001" y="490.40000000000003" font-size="8.8" text-anchor="end">0</text>
<line x1="72.30000000000001" y1="452.36" x2="75.9" y2="452.36" stroke="#231f20" stroke-width="1.0"/>
<text x="69.30000000000001" y="455.46000000000004" font-size="8.8" text-anchor="end">2</text>
<line x1="72.30000000000001" y1="417.42" x2="75.9" y2="417.42" stroke="#231f20" stroke-width="1.0"/>
<text x="69.30000000000001" y="420.52000000000004" font-size="8.8" text-anchor="end">4</text>
<line x1="72.30000000000001" y1="382.48" x2="75.9" y2="382.48" stroke="#231f20" stroke-width="1.0"/>
<text x="69.30000000000001" y="385.58000000000004" font-size="8.8" text-anchor="end">6</text>
<text x="59.0" y="433.5" font-size="10.2" text-anchor="middle" transform="rotate(-90 59.0 433.5)" textLength="52.0" lengthAdjust="spacingAndGlyphs">Cxcl12 (ng/ml)</text>
<line x1="95.1" y1="383.0" x2="124.4" y2="383.0" stroke="#231f20" stroke-width="1.0"/>
<polygon points="104.20,376.50 104.76,377.63 106.01,377.81 105.10,378.69 105.32,379.94 104.20,379.35 103.08,379.94 103.30,378.69 102.39,377.81 103.64,377.63" fill="#231f20"/>
<polygon points="107.90,376.50 108.46,377.63 109.71,377.81 108.80,378.69 109.02,379.94 107.90,379.35 106.78,379.94 107.00,378.69 106.09,377.81 107.34,377.63" fill="#231f20"/>
<polygon points="111.60,376.50 112.16,377.63 113.41,377.81 112.50,378.69 112.72,379.94 111.60,379.35 110.48,379.94 110.70,378.69 109.79,377.81 111.04,377.63" fill="#231f20"/>
<polygon points="115.30,376.50 115.86,377.63 117.11,377.81 116.20,378.69 116.42,379.94 115.30,379.35 114.18,379.94 114.40,378.69 113.49,377.81 114.74,377.63" fill="#231f20"/>
<circle cx="148.90" cy="384.00" r="1.9" fill="#2e3445"/>
<text x="154.20000000000002" y="386.9" font-size="8.2" text-anchor="start">WT</text>
<circle cx="148.90" cy="396.40" r="1.9" fill="#2e8db8"/>
<text x="154.20000000000002" y="399.29999999999995" font-size="8.4" font-style="italic" fill="#231f20">9p21<tspan font-size="6.0" dy="-3.6" dx="0.4">+/−</tspan></text>
<polyline points="262.4,429.87 286.6,426.52 310.8,409.75 335.0,398.64" fill="none" stroke="#465060" stroke-width="1.2"/>
<circle cx="262.40" cy="429.87" r="1.60" fill="#465060" stroke="#2a303c" stroke-width="0.6"/>
<circle cx="286.60" cy="426.52" r="1.60" fill="#465060" stroke="#2a303c" stroke-width="0.6"/>
<circle cx="310.80" cy="409.75" r="1.60" fill="#465060" stroke="#2a303c" stroke-width="0.6"/>
<circle cx="335.00" cy="398.64" r="1.60" fill="#465060" stroke="#2a303c" stroke-width="0.6"/>
<polyline points="262.4,429.87 286.6,426.73 310.8,429.66 335.0,398.64" fill="none" stroke="#465060" stroke-width="1.2"/>
<circle cx="262.40" cy="429.87" r="1.60" fill="#465060" stroke="#2a303c" stroke-width="0.6"/>
<circle cx="286.60" cy="426.73" r="1.60" fill="#465060" stroke="#2a303c" stroke-width="0.6"/>
<circle cx="310.80" cy="429.66" r="1.60" fill="#465060" stroke="#2a303c" stroke-width="0.6"/>
<circle cx="335.00" cy="398.64" r="1.60" fill="#465060" stroke="#2a303c" stroke-width="0.6"/>
<polyline points="262.4,440.35 286.6,445.80 310.8,430.29 335.0,412.47" fill="none" stroke="#465060" stroke-width="1.2"/>
<circle cx="262.40" cy="440.35" r="1.60" fill="#465060" stroke="#2a303c" stroke-width="0.6"/>
<circle cx="286.60" cy="445.80" r="1.60" fill="#465060" stroke="#2a303c" stroke-width="0.6"/>
<circle cx="310.80" cy="430.29" r="1.60" fill="#465060" stroke="#2a303c" stroke-width="0.6"/>
<circle cx="335.00" cy="412.47" r="1.60" fill="#465060" stroke="#2a303c" stroke-width="0.6"/>
<polyline points="262.4,426.31 286.6,421.70 310.8,426.31 335.0,453.76" fill="none" stroke="#3aa6dc" stroke-width="1.2"/>
<circle cx="262.40" cy="426.31" r="1.60" fill="#2ca4e0" stroke="#1b86bf" stroke-width="0.6"/>
<circle cx="286.60" cy="421.70" r="1.60" fill="#2ca4e0" stroke="#1b86bf" stroke-width="0.6"/>
<circle cx="310.80" cy="426.31" r="1.60" fill="#2ca4e0" stroke="#1b86bf" stroke-width="0.6"/>
<circle cx="335.00" cy="453.76" r="1.60" fill="#2ca4e0" stroke="#1b86bf" stroke-width="0.6"/>
<polyline points="262.4,442.24 286.6,439.09 310.8,435.74 335.0,457.96" fill="none" stroke="#3aa6dc" stroke-width="1.2"/>
<circle cx="262.40" cy="442.24" r="1.60" fill="#2ca4e0" stroke="#1b86bf" stroke-width="0.6"/>
<circle cx="286.60" cy="439.09" r="1.60" fill="#2ca4e0" stroke="#1b86bf" stroke-width="0.6"/>
<circle cx="310.80" cy="435.74" r="1.60" fill="#2ca4e0" stroke="#1b86bf" stroke-width="0.6"/>
<circle cx="335.00" cy="457.96" r="1.60" fill="#2ca4e0" stroke="#1b86bf" stroke-width="0.6"/>
<polyline points="262.4,445.38 286.6,439.09 310.8,461.10 335.0,470.74" fill="none" stroke="#3aa6dc" stroke-width="1.2"/>
<circle cx="262.40" cy="445.38" r="1.60" fill="#2ca4e0" stroke="#1b86bf" stroke-width="0.6"/>
<circle cx="286.60" cy="439.09" r="1.60" fill="#2ca4e0" stroke="#1b86bf" stroke-width="0.6"/>
<circle cx="310.80" cy="461.10" r="1.60" fill="#2ca4e0" stroke="#1b86bf" stroke-width="0.6"/>
<circle cx="335.00" cy="470.74" r="1.60" fill="#2ca4e0" stroke="#1b86bf" stroke-width="0.6"/>
<line x1="246.3" y1="379.6" x2="246.3" y2="487.90000000000003" stroke="#231f20" stroke-width="1.3"/>
<line x1="243.5" y1="487.3" x2="351.8" y2="487.3" stroke="#231f20" stroke-width="1.3"/>
<line x1="242.70000000000002" y1="487.3" x2="246.3" y2="487.3" stroke="#231f20" stroke-width="1.0"/>
<text x="239.70000000000002" y="490.40000000000003" font-size="8.8" text-anchor="end">0</text>
<line x1="242.70000000000002" y1="466.34000000000003" x2="246.3" y2="466.34000000000003" stroke="#231f20" stroke-width="1.0"/>
<text x="239.70000000000002" y="469.44000000000005" font-size="8.8" text-anchor="end">1</text>
<line x1="242.70000000000002" y1="445.38" x2="246.3" y2="445.38" stroke="#231f20" stroke-width="1.0"/>
<text x="239.70000000000002" y="448.48" font-size="8.8" text-anchor="end">2</text>
<line x1="242.70000000000002" y1="424.42" x2="246.3" y2="424.42" stroke="#231f20" stroke-width="1.0"/>
<text x="239.70000000000002" y="427.52000000000004" font-size="8.8" text-anchor="end">3</text>
<line x1="242.70000000000002" y1="403.46000000000004" x2="246.3" y2="403.46000000000004" stroke="#231f20" stroke-width="1.0"/>
<text x="239.70000000000002" y="406.56000000000006" font-size="8.8" text-anchor="end">4</text>
<line x1="242.70000000000002" y1="382.5" x2="246.3" y2="382.5" stroke="#231f20" stroke-width="1.0"/>
<text x="239.70000000000002" y="385.6" font-size="8.8" text-anchor="end">5</text>
<line x1="262.4" y1="487.3" x2="262.4" y2="490.5" stroke="#231f20" stroke-width="1.0"/>
<text x="262.4" y="500.8" font-size="8.8" text-anchor="middle">1-3</text>
<line x1="286.6" y1="487.3" x2="286.6" y2="490.5" stroke="#231f20" stroke-width="1.0"/>
<text x="286.6" y="500.8" font-size="8.8" text-anchor="middle">4-6</text>
<line x1="310.8" y1="487.3" x2="310.8" y2="490.5" stroke="#231f20" stroke-width="1.0"/>
<text x="310.8" y="500.8" font-size="8.8" text-anchor="middle">7-9</text>
<line x1="335.0" y1="487.3" x2="335.0" y2="490.5" stroke="#231f20" stroke-width="1.0"/>
<text x="335.0" y="500.8" font-size="8.8" text-anchor="middle">10-12</text>
<text x="299.3" y="515.5" font-size="10.4" text-anchor="middle" textLength="27.8" lengthAdjust="spacingAndGlyphs">Months</text>
<text x="229.4" y="433.0" font-size="10.2" text-anchor="middle" transform="rotate(-90 229.4 433.0)" textLength="52.8" lengthAdjust="spacingAndGlyphs">Cxcl12 (ng/ml)</text>
<circle cx="254.80" cy="384.20" r="1.9" fill="#2e3445"/>
<text x="260.1" y="387.09999999999997" font-size="8.2" text-anchor="start">WT</text>
<circle cx="254.80" cy="396.60" r="1.9" fill="#2e8db8"/>
<text x="260.1" y="399.49999999999994" font-size="8.4" font-style="italic" fill="#231f20">9p21<tspan font-size="6.0" dy="-3.6" dx="0.4">+/−</tspan></text>
<defs><filter id="blur2" x="-50%" y="-50%" width="200%" height="200%"><feGaussianBlur stdDeviation="2.5"/></filter><filter id="blur1" x="-50%" y="-50%" width="200%" height="200%"><feGaussianBlur stdDeviation="1.2"/></filter><filter id="blur05" x="-50%" y="-50%" width="200%" height="200%"><feGaussianBlur stdDeviation="0.6"/></filter></defs>
<clipPath id="cp1"><rect x="380.9" y="36.5" width="111.8" height="96.2"/></clipPath>
<filter id="bl1" color-interpolation-filters="sRGB"><feGaussianBlur stdDeviation="0.5"/></filter>
<g clip-path="url(#cp1)"><g filter="url(#bl1)">
<rect x="378.9" y="34.5" width="115.8" height="100.2" fill="#d2cacc"/>
<ellipse cx="383.9" cy="39.5" rx="6" ry="5" fill="#b48c62" opacity="0.9" filter="url(#blur2)"/>
<ellipse cx="416.9" cy="39.5" rx="6" ry="4" fill="#b48c62" opacity="0.8" filter="url(#blur2)"/>
<ellipse cx="389.9" cy="66.5" rx="7" ry="8" fill="#f2e8de" opacity="0.8" filter="url(#blur2)"/>
<ellipse cx="400.9" cy="84.5" rx="12" ry="10" fill="#cbb294" opacity="0.55" filter="url(#blur2)"/>
<ellipse cx="450.9" cy="61.5" rx="10" ry="9" fill="#cbb294" opacity="0.55" filter="url(#blur2)"/>
<ellipse cx="475.9" cy="66.5" rx="8" ry="9" fill="#cbb294" opacity="0.45" filter="url(#blur2)"/>
<ellipse cx="442.9" cy="98.5" rx="5" ry="5" fill="#f4efea" opacity="0.8" filter="url(#blur2)"/>
<ellipse cx="384.9" cy="116.5" rx="7" ry="9" fill="#b48c62" opacity="0.6" filter="url(#blur2)"/>
<ellipse cx="428.9" cy="98.5" rx="5" ry="12" fill="#cbb294" opacity="0.6" filter="url(#blur2)"/>
<ellipse cx="477.9" cy="106.5" rx="5" ry="12" fill="#cbb294" opacity="0.6" filter="url(#blur2)"/>
<ellipse cx="410.9" cy="124.5" rx="12" ry="6" fill="#cbb294" opacity="0.5" filter="url(#blur2)"/>
<ellipse cx="458.9" cy="121.5" rx="8" ry="6" fill="#cbb294" opacity="0.45" filter="url(#blur2)"/>
<ellipse cx="488.9" cy="86.5" rx="4" ry="6" fill="#cbb294" opacity="0.6" filter="url(#blur2)"/>
<ellipse cx="420.9" cy="66.5" rx="6" ry="6" fill="#cbb294" opacity="0.45" filter="url(#blur2)"/>
<ellipse cx="395.9" cy="101.5" rx="6" ry="6" fill="#cbb294" opacity="0.5" filter="url(#blur2)"/>
<g opacity="0.55" fill="none" stroke-linecap="round">
<path d="M451.1 41.9h0M449.4 50.8h0M467.8 38.1h0M418.2 99.4h0M471.7 69.4h0M428.0 81.9h0M394.1 42.2h0M396.2 132.8h0M483.3 45.0h0M401.9 87.5h0M459.0 48.7h0M392.3 39.7h0M414.6 95.1h0M384.5 108.7h0M459.6 131.4h0M451.3 101.8h0M427.1 86.4h0M489.4 53.8h0M493.6 102.0h0M490.3 56.8h0M380.0 53.0h0M475.6 127.0h0M476.1 39.7h0M453.7 83.2h0M450.4 47.8h0M476.6 65.2h0M448.0 133.7h0M395.0 78.2h0M483.5 36.6h0M381.1 74.6h0M471.8 76.6h0M488.3 122.0h0M414.5 114.2h0M462.5 86.9h0M385.5 103.2h0M413.1 88.8h0M489.8 68.0h0M488.2 107.1h0M458.0 121.3h0M407.0 102.7h0M474.1 52.1h0M430.0 57.2h0M444.5 133.5h0M459.2 110.9h0M444.8 76.6h0M428.4 130.4h0M463.0 110.5h0M464.3 123.6h0M420.9 47.7h0" stroke="#b89c7c" stroke-width="2.83"/>
<path d="M478.4 81.9h0M437.6 73.4h0M427.2 92.5h0M460.4 108.0h0M471.4 58.9h0M484.8 114.7h0M410.5 87.3h0M461.4 72.8h0M441.8 47.2h0M387.7 105.8h0M464.1 70.8h0M399.3 39.1h0M420.0 125.3h0M423.6 119.1h0M445.5 46.0h0M393.8 84.6h0M476.5 42.6h0M458.2 113.9h0M480.4 126.1h0M492.1 105.2h0M412.9 45.2h0M411.8 97.3h0M408.9 69.3h0M389.4 73.1h0M432.1 107.7h0M435.9 54.0h0M484.6 127.3h0M394.0 81.1h0M394.0 45.5h0M417.0 124.2h0M385.9 58.6h0M448.8 121.9h0M483.7 132.7h0M417.8 103.1h0M471.9 90.1h0" stroke="#b89c7c" stroke-width="3.30"/>
<path d="M457.5 126.7h0M432.3 86.6h0M427.0 127.7h0M408.6 120.1h0M463.4 90.9h0M399.5 70.9h0M411.2 100.8h0M417.6 106.3h0M437.3 59.8h0M427.9 99.3h0M427.1 58.0h0M449.9 98.5h0M385.6 55.5h0M491.3 112.6h0M420.2 128.9h0M419.2 109.0h0M467.1 44.6h0M405.0 78.9h0M434.4 91.2h0M411.3 66.4h0M404.0 109.9h0M380.4 105.1h0M485.5 60.4h0M386.5 125.9h0M486.0 68.5h0M481.4 61.6h0M440.4 132.4h0M413.3 84.4h0M486.4 118.5h0M425.4 95.0h0M435.3 57.0h0M419.4 91.6h0M393.9 130.4h0M493.2 35.9h0M383.4 105.7h0M491.0 127.8h0M447.1 110.4h0M395.9 39.4h0M419.8 122.2h0" stroke="#b89c7c" stroke-width="3.77"/>
<path d="M422.0 94.8h0M452.1 120.7h0M456.3 51.5h0M382.4 41.4h0M480.6 79.8h0M440.2 54.2h0M485.4 57.3h0M464.7 117.7h0M381.4 108.7h0M390.3 45.3h0M463.4 129.8h0M406.6 106.0h0M477.6 123.9h0M380.7 68.4h0M461.6 102.1h0M444.4 53.4h0M415.5 52.8h0M400.9 54.1h0M444.3 129.7h0M481.4 48.8h0M422.1 87.5h0M469.0 49.6h0M430.9 75.5h0M486.1 65.0h0M482.4 55.2h0M464.1 107.6h0M473.8 46.6h0M466.5 121.1h0M463.6 77.0h0M449.6 127.0h0M440.9 76.6h0M488.0 128.2h0M486.8 133.4h0M431.4 82.4h0M438.1 78.0h0M469.4 119.9h0M464.1 83.1h0M438.9 67.7h0M493.6 52.0h0M455.3 38.3h0M381.3 91.0h0M408.6 132.3h0M473.5 72.1h0M458.1 92.3h0M422.6 109.7h0M442.6 69.8h0M407.3 127.3h0M383.4 50.8h0M395.3 51.7h0M460.5 98.7h0M448.9 44.9h0M431.0 111.1h0M470.1 114.5h0M490.5 133.2h0M489.7 115.9h0M454.6 111.1h0M424.3 107.1h0M393.8 95.9h0M400.5 101.2h0M430.8 123.8h0M399.1 46.5h0M470.9 53.0h0M470.1 35.7h0M470.6 46.6h0" stroke="#c0a888" stroke-width="2.83"/>
<path d="M461.7 121.8h0M489.8 78.3h0M405.5 47.4h0M472.1 39.9h0M482.7 103.6h0M456.5 117.6h0M465.1 127.3h0M421.7 74.5h0M465.0 51.3h0M413.6 104.8h0M392.7 122.6h0M471.3 123.0h0M441.2 126.8h0M477.9 78.4h0M389.7 81.2h0M472.6 55.7h0M428.9 43.8h0M413.1 127.2h0M422.3 51.3h0M456.2 95.3h0M431.9 131.2h0M491.4 122.4h0M466.2 62.8h0M492.8 130.9h0M406.8 98.8h0M473.5 105.7h0M423.1 84.2h0M487.8 113.4h0M451.4 75.2h0M460.4 116.7h0M462.0 50.0h0M423.1 122.1h0M388.5 133.0h0M417.5 89.2h0M482.9 121.4h0M464.3 47.6h0M443.3 42.9h0M431.1 99.1h0M382.7 58.9h0M443.4 79.5h0M465.8 41.6h0M395.0 104.0h0M391.4 50.0h0M423.8 127.7h0M464.5 97.3h0M393.7 110.7h0M477.6 48.4h0M480.4 64.9h0M444.9 56.3h0M397.4 81.0h0M488.9 41.3h0" stroke="#c0a888" stroke-width="3.30"/>
<path d="M414.2 38.5h0M461.2 126.0h0M479.9 45.1h0M415.6 129.6h0M453.2 94.0h0M485.0 123.5h0M386.1 48.0h0M469.0 72.8h0M391.6 93.2h0M477.1 59.3h0M462.9 43.9h0M467.8 109.9h0M420.1 118.7h0M416.7 121.0h0M459.5 88.3h0M447.8 57.5h0M403.7 52.3h0M460.0 40.5h0M408.3 61.6h0M486.9 38.9h0M415.7 86.8h0M481.8 129.8h0M396.4 48.0h0M402.9 40.7h0M470.3 132.9h0M446.4 49.9h0M419.9 36.2h0M467.4 124.9h0M403.0 44.7h0M424.4 81.2h0M414.7 108.0h0M486.2 109.5h0M395.4 107.1h0M447.5 75.2h0M422.9 90.6h0M438.7 63.5h0M429.8 90.7h0M470.7 43.1h0M454.2 104.3h0M492.7 116.0h0M419.9 79.7h0M441.1 58.0h0M443.1 89.1h0M398.8 66.6h0M386.4 82.3h0M425.6 124.2h0M400.3 109.5h0M384.6 74.4h0M493.5 42.1h0M402.5 47.8h0M400.9 35.9h0M440.9 72.3h0M480.2 119.9h0M449.8 93.3h0M458.0 73.8h0M403.9 65.7h0M489.1 125.2h0M483.8 41.4h0M430.0 79.5h0M411.1 113.7h0M450.1 78.4h0M385.2 133.0h0M493.6 98.1h0M380.2 35.9h0" stroke="#c0a888" stroke-width="3.77"/>
<path d="M452.6 50.3h0M466.2 93.5h0M448.2 38.6h0M419.9 54.9h0M473.6 36.2h0M393.9 115.4h0M436.1 70.1h0M380.2 56.0h0M386.7 37.7h0M392.9 73.8h0M400.1 43.3h0M419.3 83.1h0M397.3 110.4h0M384.9 77.7h0M456.7 99.0h0M430.1 96.2h0M413.9 123.9h0M477.5 108.0h0M465.3 57.6h0M458.1 77.5h0M489.4 36.1h0M465.8 79.8h0M474.4 63.1h0M422.0 70.4h0M416.4 117.2h0M426.5 78.8h0M432.9 68.2h0M419.5 63.7h0M392.1 77.2h0M468.8 78.1h0M441.5 65.8h0M388.5 63.8h0M468.2 59.9h0M398.2 103.6h0M475.6 56.6h0M426.2 89.5h0" stroke="#cbb8a0" stroke-width="2.83"/>
<path d="M409.4 58.5h0M430.5 127.4h0M477.4 132.8h0M390.0 114.1h0M421.3 66.2h0M380.5 49.6h0M477.4 74.8h0M410.1 109.6h0M454.5 47.6h0M452.0 131.4h0M461.9 95.0h0M448.7 112.9h0M435.4 63.0h0M409.9 103.7h0M391.1 104.6h0M415.3 100.8h0M466.3 102.9h0M480.4 35.5h0M436.8 50.6h0M472.3 49.6h0M462.4 80.3h0M419.8 58.8h0M420.7 101.1h0M379.9 43.3h0M453.9 44.5h0M487.8 98.0h0M399.4 92.2h0M456.5 81.5h0M476.8 36.3h0M397.0 43.4h0M419.2 96.2h0M478.2 129.4h0M467.7 117.3h0" stroke="#cbb8a0" stroke-width="3.30"/>
<path d="M407.0 88.9h0M456.3 41.8h0M413.3 111.0h0M437.4 133.6h0M459.3 45.5h0M416.5 68.3h0M471.7 117.8h0M399.4 113.2h0M388.0 77.2h0M453.4 97.5h0M468.5 106.9h0M471.7 127.0h0M414.6 81.1h0M432.2 54.7h0M433.9 51.7h0M493.2 68.4h0M493.4 125.9h0M466.2 113.0h0M453.1 54.7h0M465.7 132.9h0M444.2 59.6h0M392.2 87.4h0M422.3 39.8h0M382.7 38.1h0M491.0 63.2h0M482.4 68.2h0M380.1 78.7h0M423.6 60.2h0M422.3 104.8h0M388.3 93.7h0M468.3 55.3h0M493.3 108.5h0M476.2 120.8h0M469.4 129.7h0M406.1 91.9h0M459.1 83.4h0M435.7 66.6h0M388.4 41.6h0M410.4 35.5h0M461.2 113.1h0M427.8 133.7h0M412.7 63.7h0M493.1 55.9h0M456.4 89.4h0M448.0 53.7h0M380.0 125.2h0M446.5 98.6h0M480.6 132.6h0" stroke="#cbb8a0" stroke-width="3.77"/>
</g>
<g opacity="0.8" fill="none" stroke-linecap="round">
<path d="M395.4 116.9h0M467.2 112.0h0M442.2 77.4h0M459.7 84.9h0M472.5 93.5h0M445.0 58.4h0M483.3 39.8h0M467.0 123.7h0M381.4 62.9h0M473.9 54.1h0M449.4 83.6h0M491.7 69.9h0M442.8 97.8h0M409.2 123.7h0M409.5 128.0h0M401.6 102.7h0M395.0 103.1h0M408.8 64.2h0M403.5 81.3h0M392.0 51.4h0M430.7 114.7h0M440.8 48.7h0M417.5 97.8h0M477.7 83.9h0M423.9 45.8h0M482.6 99.8h0M412.7 46.2h0M480.8 67.9h0M480.5 98.4h0M467.0 116.4h0M414.2 93.6h0M410.1 112.1h0M485.8 79.9h0M440.7 93.5h0M485.7 82.5h0M429.9 102.1h0M429.2 83.6h0M411.1 76.0h0M423.6 77.7h0M393.3 100.5h0M487.3 68.6h0M484.1 47.1h0M419.8 91.7h0M446.6 65.2h0M423.1 66.8h0M412.8 39.7h0M488.0 58.2h0M396.9 62.3h0M417.2 45.0h0M413.5 81.7h0M443.0 122.3h0M382.2 118.9h0M483.6 94.1h0M476.5 97.6h0M444.6 77.9h0M467.3 41.0h0M449.3 46.3h0M393.3 125.8h0M453.1 124.5h0M428.2 62.7h0M399.5 77.3h0M462.1 118.8h0M384.6 117.8h0M433.2 40.7h0M380.0 59.7h0M470.3 74.3h0M442.8 89.1h0M461.9 54.8h0M441.0 114.4h0M391.8 130.7h0M383.3 65.6h0M408.4 130.2h0" stroke="#7f8dc2" stroke-width="2.60"/>
<path d="M401.0 122.9h0M420.8 78.4h0M470.7 120.6h0M397.9 50.1h0M428.2 65.7h0M426.8 82.4h0M381.6 76.8h0M391.3 121.4h0M413.2 55.1h0M461.5 39.6h0M462.7 52.2h0M407.4 119.6h0M441.9 66.0h0M427.9 60.1h0M487.1 51.0h0M388.1 37.3h0M432.5 89.6h0M393.6 38.2h0M447.1 54.4h0M396.9 58.4h0M436.1 78.8h0M469.9 124.3h0M402.5 59.7h0M414.9 132.5h0M491.9 75.9h0M383.6 61.4h0M486.1 94.4h0M481.2 55.2h0M381.2 86.1h0M418.5 111.4h0M440.5 72.1h0M443.8 119.2h0M456.9 49.1h0M472.3 72.6h0M382.7 133.5h0M492.8 127.7h0M488.4 95.9h0M432.6 52.9h0M478.5 101.9h0M388.2 97.4h0M399.9 43.2h0M392.4 35.5h0M469.8 90.3h0M467.5 91.9h0M411.7 43.9h0M478.9 95.2h0M481.9 107.6h0M400.0 72.9h0M473.4 114.6h0M399.6 60.0h0M433.3 43.7h0M454.9 106.3h0M478.3 114.2h0M407.3 104.2h0M434.1 50.3h0M400.8 87.2h0M458.5 39.4h0M437.1 39.6h0M437.0 106.6h0M446.7 96.0h0M400.0 89.9h0M415.8 35.5h0M382.8 126.6h0M490.7 97.2h0M465.2 53.9h0M404.6 96.3h0M387.9 94.9h0M389.1 113.2h0M484.6 112.2h0M384.9 80.6h0M463.6 47.2h0M429.7 108.3h0M400.8 99.3h0M410.5 81.6h0M401.1 105.4h0M434.8 90.5h0M435.5 85.8h0M386.5 115.5h0M385.1 87.1h0M407.8 74.3h0M405.6 63.8h0M397.9 97.0h0" stroke="#7f8dc2" stroke-width="3.00"/>
<path d="M418.1 74.8h0M458.4 53.8h0M491.5 61.3h0M461.3 59.9h0M490.2 56.2h0M480.5 115.7h0M428.3 129.9h0M460.7 108.8h0M492.3 49.6h0M407.2 61.4h0M398.0 85.3h0M442.8 110.8h0M446.0 106.2h0M483.6 71.0h0M384.9 113.6h0M420.4 96.3h0M394.6 122.2h0M399.5 127.4h0M455.5 123.9h0M439.0 129.1h0M402.6 83.9h0M440.8 81.0h0M480.5 104.9h0M474.6 110.5h0M453.7 66.4h0M447.0 108.5h0M456.1 88.7h0M418.5 83.1h0M486.8 37.0h0M435.9 52.5h0M426.0 109.3h0M455.9 91.5h0M484.8 108.8h0M384.2 109.2h0M455.6 63.1h0M465.0 71.0h0M427.2 50.2h0M387.3 117.7h0M443.8 45.4h0M380.8 52.3h0M413.7 76.2h0M455.4 132.2h0M437.1 88.2h0M449.9 107.8h0M382.4 95.8h0M413.0 61.6h0M438.6 36.1h0M404.1 117.1h0M478.4 120.0h0M424.6 120.2h0M488.3 111.3h0M443.1 133.5h0M431.8 47.2h0M384.7 124.2h0M385.0 97.5h0M478.1 68.3h0M428.4 127.5h0M402.1 79.1h0M421.8 84.6h0M427.5 93.0h0M416.0 73.1h0M432.3 124.5h0M485.0 44.4h0M492.8 53.5h0M449.9 115.5h0M481.0 40.8h0M424.4 124.4h0M403.4 121.5h0M385.1 100.8h0M480.0 109.2h0M394.2 41.7h0M400.8 116.7h0M389.0 39.7h0M478.9 107.0h0M443.1 49.7h0M415.7 83.0h0M440.0 90.2h0M487.3 77.9h0M445.6 117.5h0" stroke="#7f8dc2" stroke-width="3.40"/>
<path d="M489.2 43.4h0M408.7 79.5h0M464.1 83.5h0M420.2 45.5h0M441.0 38.8h0M432.3 65.0h0M433.1 102.6h0M392.5 104.8h0M438.6 114.6h0M466.7 106.5h0M493.6 97.0h0M475.6 117.9h0M421.4 57.3h0M488.7 92.9h0M474.4 123.4h0M485.4 102.2h0M484.8 55.3h0M483.6 125.5h0M447.6 87.0h0M463.5 57.0h0M473.2 89.1h0M383.6 129.6h0M386.1 93.2h0M443.8 107.1h0M460.7 99.8h0M380.3 115.9h0M440.0 96.7h0M436.0 41.8h0M463.3 121.4h0M468.6 94.8h0M397.0 121.6h0M436.6 66.0h0M456.7 119.3h0M444.8 62.6h0M482.9 104.4h0M410.2 105.4h0M442.5 61.6h0M473.3 127.5h0M405.7 122.5h0M447.9 78.4h0M490.4 116.2h0M474.8 75.6h0M396.4 81.2h0M399.0 110.8h0M420.4 67.5h0M407.8 88.7h0M383.5 115.7h0M490.0 127.3h0M469.9 99.9h0M421.6 124.9h0M387.4 106.0h0M452.1 96.9h0M455.7 85.2h0M401.0 40.8h0M426.1 76.7h0M402.1 126.9h0M461.8 132.6h0M409.9 53.3h0M432.8 117.8h0M466.8 83.5h0M433.2 61.3h0M455.9 103.3h0M425.4 105.1h0M463.8 67.5h0M396.3 90.3h0M415.4 50.0h0M401.2 119.4h0M450.5 118.3h0M478.9 39.0h0M481.9 130.7h0M489.3 73.4h0M438.8 118.1h0M438.7 85.3h0M440.9 87.4h0M425.0 115.6h0M417.6 40.1h0M401.8 92.1h0M408.2 36.3h0M441.9 74.3h0M426.8 132.5h0M432.7 67.9h0M472.0 132.9h0M429.7 105.3h0M411.4 78.6h0M434.5 70.5h0M491.1 121.0h0M493.2 64.7h0M405.5 66.3h0M398.5 93.8h0M409.5 59.5h0M479.5 52.9h0M450.5 36.1h0M406.6 86.3h0M393.8 54.2h0M440.0 102.1h0M476.9 62.5h0M391.6 97.1h0M442.4 101.5h0M456.9 36.1h0M453.5 122.0h0M386.0 39.2h0M487.6 39.5h0M429.2 74.1h0M394.1 58.2h0M437.2 131.7h0M468.8 132.7h0M404.9 125.0h0M429.3 36.5h0M476.5 39.4h0M393.4 92.1h0M394.2 60.9h0M394.4 73.4h0M395.3 35.9h0M408.4 83.3h0M487.0 114.4h0M476.9 89.4h0M435.5 113.5h0M409.4 121.0h0M398.9 56.8h0M428.9 48.4h0M464.5 61.9h0M418.8 42.9h0M465.3 113.8h0" stroke="#8d9acb" stroke-width="2.60"/>
<path d="M464.4 76.4h0M415.4 63.6h0M407.2 97.9h0M385.3 70.2h0M434.4 106.2h0M405.7 38.3h0M451.7 88.9h0M397.0 42.5h0M482.3 111.3h0M430.4 51.1h0M381.9 81.1h0M454.6 82.5h0M391.0 38.4h0M403.9 86.0h0M399.1 79.7h0M475.6 78.5h0M430.2 121.4h0M398.7 114.2h0M440.4 111.7h0M427.4 97.3h0M385.1 121.6h0M418.2 93.5h0M421.6 93.3h0M413.8 129.2h0M382.7 56.9h0M460.1 36.3h0M447.8 130.9h0M403.7 40.9h0M451.4 53.5h0M393.4 89.1h0M424.6 133.6h0M380.6 97.9h0M389.6 116.9h0M470.3 60.3h0M462.5 44.1h0M458.6 131.8h0M442.2 130.3h0M415.1 79.2h0M480.6 35.8h0M429.9 41.7h0M388.3 42.6h0M437.3 95.0h0M484.6 62.7h0M438.3 48.3h0M451.1 67.4h0M391.3 114.8h0M429.1 70.9h0M466.3 64.3h0M439.5 132.7h0M483.3 76.7h0M461.9 77.9h0M491.5 99.5h0M439.8 107.7h0M434.6 83.3h0M475.8 115.0h0M474.3 80.5h0M393.6 113.7h0M389.7 128.5h0M438.1 110.8h0M426.6 71.5h0M468.3 78.9h0M481.7 127.1h0M438.8 42.5h0M436.5 126.7h0M452.4 110.7h0M398.5 64.6h0M475.9 72.1h0M440.7 99.5h0M385.8 59.9h0M478.0 104.7h0M486.2 98.6h0M388.4 76.7h0M396.9 75.1h0M436.3 117.7h0M489.1 81.0h0M393.7 67.1h0M444.9 125.6h0M476.4 132.4h0M458.1 114.3h0M473.1 69.5h0M396.3 55.6h0M380.4 100.5h0M381.1 83.7h0M444.7 102.8h0M452.1 92.3h0M403.9 48.8h0M415.0 120.5h0M453.2 108.1h0M380.0 120.9h0M430.4 44.9h0M407.1 55.4h0M389.5 110.4h0M445.2 87.2h0M407.0 69.7h0M449.0 65.5h0M472.0 36.1h0M457.2 60.3h0M404.9 51.2h0M490.4 84.0h0M440.4 121.6h0M458.3 92.3h0M398.5 124.0h0M457.3 75.7h0M487.9 129.4h0M395.5 124.8h0M418.4 72.2h0M449.1 89.4h0M441.1 69.4h0M443.3 81.2h0M461.0 57.5h0M474.7 91.2h0M403.6 72.9h0M401.3 70.8h0M492.9 81.2h0M491.9 125.4h0M472.1 125.2h0M434.7 76.8h0M428.6 77.4h0M454.1 129.4h0M460.3 52.0h0M432.0 107.2h0M403.0 98.3h0" stroke="#8d9acb" stroke-width="3.00"/>
<path d="M428.6 111.0h0M425.2 111.8h0M413.3 115.1h0M380.5 109.9h0M438.9 124.5h0M487.2 84.6h0M398.3 119.2h0M405.9 72.1h0M425.0 62.8h0M456.3 108.6h0M451.5 104.0h0M450.0 122.2h0M396.8 127.3h0M493.1 84.8h0M444.1 114.2h0M413.1 73.4h0M414.4 43.0h0M406.7 49.6h0M489.3 64.1h0M432.2 111.8h0M398.6 69.1h0M393.0 63.6h0M404.0 111.8h0M432.5 37.5h0M422.9 109.7h0M491.0 90.5h0M487.6 89.0h0M425.8 56.9h0M434.4 120.7h0M485.0 91.4h0M405.9 128.3h0M456.6 69.4h0M463.0 106.7h0M492.8 103.3h0M385.5 74.5h0M459.6 62.3h0M438.6 69.6h0M459.5 65.2h0M475.6 93.7h0M482.6 96.7h0M428.4 38.8h0M445.4 35.9h0M412.8 108.8h0M396.1 113.9h0M415.5 123.0h0M469.1 44.1h0M411.4 48.7h0M490.5 40.5h0M419.2 54.0h0M381.3 36.4h0M486.5 65.4h0M418.1 51.0h0M453.6 38.2h0M429.9 93.3h0M442.3 116.5h0M449.3 38.1h0M472.4 82.1h0M413.4 104.5h0M457.2 81.0h0M456.3 127.9h0M463.6 49.8h0M429.3 86.3h0M437.7 104.2h0M441.6 125.0h0M474.2 45.2h0M478.3 92.0h0M476.3 106.9h0M421.3 48.3h0M490.0 47.8h0M435.3 47.1h0M417.2 127.2h0M446.9 73.1h0M438.5 92.2h0M411.2 84.0h0M435.9 61.4h0M474.2 48.4h0M434.6 58.5h0M380.7 89.2h0M411.2 125.2h0M386.7 54.1h0M481.1 118.5h0M426.9 46.9h0M433.5 96.5h0M382.6 122.7h0M401.0 67.0h0M431.7 59.0h0M403.5 56.5h0M428.5 116.5h0M433.5 109.4h0M468.3 120.7h0M391.0 56.3h0M489.5 35.6h0M397.0 129.8h0M467.3 81.1h0M479.5 89.2h0M463.6 102.3h0M386.5 111.3h0M417.9 85.9h0M435.3 68.1h0M477.1 86.8h0M403.4 62.9h0M483.9 73.9h0M423.5 43.2h0M451.5 60.6h0M470.0 83.6h0M487.0 53.5h0M461.9 66.1h0M482.0 81.8h0M414.0 101.6h0M444.1 128.8h0M380.0 78.9h0M433.4 78.9h0M414.7 66.6h0M461.0 42.1h0M406.0 80.0h0M389.1 58.0h0M415.6 95.9h0M412.5 51.6h0M424.9 48.5h0M458.9 67.5h0M404.9 75.5h0M396.4 101.0h0M453.5 35.5h0M389.0 45.3h0M381.5 54.8h0M493.5 55.9h0" stroke="#8d9acb" stroke-width="3.40"/>
<path d="M401.2 63.8h0M457.9 104.8h0M384.9 44.4h0M435.7 123.7h0M450.0 74.7h0M422.3 75.2h0M395.0 132.5h0M381.0 93.0h0M443.5 38.7h0M478.1 117.2h0M460.8 73.8h0M455.6 114.4h0M475.6 100.1h0M469.7 69.6h0M462.1 126.4h0M493.0 46.3h0M385.7 90.0h0M475.3 85.2h0M426.2 43.0h0M392.6 110.4h0M420.0 40.6h0M416.0 68.9h0M461.4 90.9h0M478.5 74.6h0M460.9 102.9h0M446.0 123.3h0M445.1 83.0h0M414.4 118.0h0M464.7 80.0h0M452.9 127.3h0M402.3 75.4h0M421.8 88.9h0M422.7 54.4h0M436.1 36.6h0M493.4 107.0h0M467.7 102.6h0M441.8 35.8h0M383.7 92.2h0M389.5 54.0h0M449.5 70.2h0M452.8 71.3h0M468.2 67.7h0M446.1 99.4h0M470.8 63.5h0M477.5 110.2h0M380.9 66.9h0M447.3 111.0h0M427.6 100.4h0M454.8 53.9h0M486.8 126.6h0M410.2 88.2h0M428.9 125.0h0M467.0 98.4h0M435.9 101.5h0M460.0 124.4h0M475.5 69.2h0M451.8 76.4h0M491.9 87.5h0M386.5 83.0h0M408.0 115.7h0M427.6 107.0h0M404.1 114.5h0M382.7 99.2h0M452.3 86.3h0M426.3 67.7h0M413.1 122.1h0M400.2 82.4h0M393.5 69.8h0M381.2 131.2h0M465.0 95.0h0M387.7 121.0h0M493.5 131.4h0M380.1 39.7h0M385.1 63.3h0M409.9 50.9h0M407.2 93.3h0M428.5 52.7h0M447.2 128.3h0M413.9 125.9h0M415.2 47.4h0M397.3 133.3h0M383.0 50.5h0M450.3 79.2h0" stroke="#a0aad2" stroke-width="2.60"/>
<path d="M395.9 71.0h0M408.0 46.5h0M474.5 121.0h0M404.3 92.2h0M437.7 120.5h0M386.1 65.5h0M383.8 41.5h0M399.3 103.5h0M472.5 103.1h0M413.9 98.5h0M470.6 96.1h0M409.4 66.7h0M442.0 41.4h0M444.5 55.2h0M409.2 39.8h0M427.8 103.6h0M450.0 127.0h0M392.0 59.5h0M442.1 91.5h0M399.6 131.6h0M386.6 57.1h0M392.1 123.8h0M386.8 78.8h0M415.9 55.8h0M398.2 99.4h0M468.0 72.8h0M482.0 90.7h0M401.1 113.8h0M401.0 96.3h0M470.2 102.3h0M451.9 113.3h0M470.9 86.1h0M462.3 62.9h0M465.2 44.2h0M493.7 90.7h0M448.6 62.1h0M425.6 118.0h0M395.3 95.3h0M491.7 94.5h0M487.5 45.2h0M454.2 59.2h0M427.5 120.6h0M465.2 59.5h0M423.9 86.5h0M489.4 123.7h0M409.8 71.9h0M430.8 63.0h0M396.0 65.1h0M435.5 110.8h0M381.3 113.7h0M399.3 38.6h0M464.6 92.2h0M447.6 103.5h0M407.3 52.2h0M393.1 119.1h0M458.3 56.7h0M487.8 106.7h0M455.2 98.3h0M474.7 95.9h0M417.6 47.4h0M442.2 104.9h0M433.8 99.1h0M444.7 67.5h0M465.6 119.3h0M442.3 57.8h0M446.5 80.8h0M418.4 105.4h0M469.0 65.4h0M396.5 111.2h0M383.2 88.7h0M420.8 60.5h0M470.4 127.4h0M430.3 68.7h0M391.1 81.2h0M413.0 111.9h0M489.1 86.3h0M454.1 101.6h0M455.3 43.6h0M435.2 103.8h0M459.7 76.1h0" stroke="#a0aad2" stroke-width="3.00"/>
<path d="M481.0 58.2h0M484.3 85.6h0M481.2 93.6h0M449.8 41.1h0M491.5 66.9h0M434.9 93.3h0M389.6 51.6h0M489.5 100.7h0M455.0 77.4h0M452.2 63.2h0M393.7 129.1h0M421.9 116.2h0M412.0 95.1h0M407.2 108.9h0M403.2 46.5h0M492.4 58.3h0M493.6 109.7h0M485.6 75.7h0M453.8 74.0h0M396.2 92.7h0M390.8 43.1h0M387.7 68.7h0M437.6 45.6h0M437.7 99.1h0M493.6 123.6h0M475.7 129.5h0M395.1 106.6h0M480.5 85.7h0M407.2 113.0h0M478.2 41.4h0M479.1 125.8h0M478.6 55.3h0M479.9 76.6h0M448.3 124.2h0M442.3 85.1h0M462.9 97.7h0M436.3 55.5h0M492.1 42.6h0M408.5 77.0h0M432.5 55.4h0M460.9 48.6h0M409.8 42.4h0M406.5 41.9h0M394.2 98.3h0M460.3 106.4h0M447.0 68.4h0M390.2 71.5h0M450.8 81.7h0M451.5 49.4h0M459.3 96.3h0M480.0 128.8h0M418.0 65.6h0M489.5 76.7h0M385.4 127.2h0M483.5 88.1h0M471.8 67.3h0M456.2 66.1h0M407.3 125.8h0M445.3 132.4h0M464.9 41.5h0M414.0 58.9h0M477.9 123.1h0M396.1 87.2h0M438.5 81.8h0M389.5 107.6h0M424.1 82.2h0M486.3 48.6h0M445.1 69.9h0M433.9 127.2h0M478.9 64.6h0M482.4 133.2h0M453.5 68.8h0M410.7 115.3h0" stroke="#a0aad2" stroke-width="3.40"/>
</g>
<g opacity="0.85" fill="none" stroke-linecap="round">
<path d="M474.0 119.6h0M485.2 109.4h0M390.8 73.4h0M408.0 95.0h0M424.9 98.9h0M452.8 127.8h0M493.0 62.8h0M464.2 92.1h0M455.1 104.2h0M434.1 41.7h0M397.6 95.1h0M436.2 97.0h0M429.2 40.9h0M453.6 39.5h0M438.8 77.6h0M426.5 87.1h0M432.1 120.0h0M434.5 37.7h0M430.0 46.0h0M468.9 119.8h0M479.9 37.4h0M411.0 82.0h0M433.8 71.3h0M476.3 59.9h0M411.4 44.1h0M479.8 85.4h0M426.5 40.0h0M420.5 95.6h0M471.6 73.8h0M465.5 55.5h0M487.3 111.6h0M411.0 37.1h0M485.2 103.9h0M458.2 53.2h0M413.5 118.2h0M394.0 109.7h0M460.9 63.7h0M431.5 65.2h0M459.6 58.5h0M453.8 62.0h0M408.4 41.2h0M469.3 60.4h0M415.6 96.8h0M444.1 130.4h0M422.8 45.7h0M443.7 97.3h0M386.6 59.1h0M416.1 64.2h0M413.2 101.1h0M407.4 109.7h0M441.7 93.8h0M441.5 128.6h0M411.1 79.1h0M476.5 63.6h0M435.8 86.2h0M413.2 50.1h0M414.6 72.7h0M431.3 74.2h0M426.3 133.1h0M393.6 101.2h0M419.4 47.9h0M427.4 49.7h0M472.0 122.0h0M474.0 66.9h0M473.8 78.1h0M458.8 38.8h0M485.2 133.0h0M481.7 93.6h0M457.4 79.9h0M483.9 96.8h0M460.3 113.0h0M481.2 60.5h0M403.4 92.2h0M474.2 55.1h0M427.1 98.7h0M408.9 119.8h0M390.9 122.0h0M393.2 124.3h0M493.0 105.6h0M429.7 51.3h0M473.4 69.8h0M459.9 45.5h0M482.8 57.7h0M442.6 101.8h0M438.5 102.5h0M400.2 88.4h0M407.1 115.6h0M483.7 53.5h0M387.5 115.6h0M416.0 79.7h0M432.8 124.2h0M477.2 108.0h0M390.8 116.0h0M442.4 133.2h0M381.0 72.5h0M383.9 97.3h0M448.4 42.3h0M425.8 114.5h0M481.5 96.5h0M427.5 126.8h0M464.4 71.3h0M459.7 76.4h0M408.7 88.4h0M431.2 122.8h0M491.2 116.5h0M394.9 115.1h0M448.6 35.9h0M470.6 131.3h0M450.8 70.6h0M406.2 132.7h0M390.0 132.4h0M434.9 44.5h0M399.0 72.3h0M409.5 83.9h0M415.8 84.0h0M418.7 65.5h0M392.6 93.5h0M393.3 64.5h0M491.9 55.5h0M412.7 52.1h0M379.9 77.4h0M408.9 79.5h0M416.0 132.3h0M427.5 129.0h0M455.0 113.4h0M491.1 81.7h0M393.8 37.4h0M425.0 42.7h0M452.8 57.3h0M490.3 88.3h0M385.7 67.0h0M446.3 90.7h0M465.1 62.7h0M477.0 89.9h0M465.4 78.0h0M482.2 126.0h0M428.9 38.5h0M401.4 57.0h0M466.7 123.4h0M412.5 61.0h0M474.0 109.4h0M479.9 50.9h0M473.6 116.7h0M456.7 75.6h0M382.5 116.8h0M444.8 119.9h0M410.3 121.4h0M438.8 114.9h0M471.3 71.5h0M386.8 98.0h0M401.7 54.3h0M425.5 81.2h0M432.8 88.5h0M431.0 98.0h0M393.4 120.4h0M451.3 113.1h0M397.4 68.9h0M413.6 127.9h0M396.8 54.4h0M425.1 66.2h0M429.8 42.9h0M413.6 95.2h0M392.1 81.8h0M410.4 109.8h0M422.2 106.1h0M443.7 117.8h0M473.3 49.7h0M488.8 74.7h0M445.0 75.5h0M388.2 130.8h0M483.7 94.5h0M491.8 50.5h0M463.7 99.0h0" stroke="#5d6690" stroke-width="1.52"/>
<path d="M424.7 37.6h0M393.9 88.6h0M403.6 47.6h0M415.0 68.0h0M398.1 114.8h0M465.6 65.6h0M408.2 36.1h0M441.3 40.6h0M399.4 112.8h0M381.6 111.4h0M414.7 112.4h0M426.6 58.6h0M474.5 127.0h0M400.0 106.2h0M395.0 94.7h0M478.4 70.2h0M450.4 130.1h0M389.2 99.9h0M432.3 95.1h0M447.0 92.6h0M482.8 85.6h0M484.0 59.5h0M453.4 121.1h0M469.5 104.7h0M409.6 116.5h0M468.5 129.7h0M390.6 91.6h0M381.1 124.5h0M419.9 84.2h0M434.9 78.1h0M396.8 87.7h0M479.3 88.7h0M484.3 126.8h0M487.6 89.3h0M484.5 112.7h0M446.1 112.7h0M456.3 107.3h0M463.2 106.1h0M483.2 83.3h0M471.0 80.9h0M484.9 64.0h0M409.2 97.8h0M450.3 132.7h0M457.6 117.5h0M493.4 46.6h0M485.8 87.6h0M457.9 81.9h0M463.4 86.5h0M442.2 108.8h0M440.4 38.0h0M386.7 100.2h0M383.1 64.4h0M391.7 59.3h0M444.9 126.0h0M384.5 118.1h0M385.2 86.7h0M389.2 40.5h0M482.9 110.1h0M446.0 94.4h0M481.7 76.1h0M477.6 99.2h0M490.4 104.0h0M405.3 84.0h0M411.1 95.7h0M469.6 47.4h0M484.1 123.6h0M452.6 80.0h0M450.1 120.9h0M405.7 76.1h0M382.4 39.7h0M411.8 84.6h0M423.3 73.9h0M387.8 117.9h0M382.3 62.2h0M413.9 47.8h0M459.0 89.5h0M390.0 82.5h0M392.7 117.6h0M417.0 38.8h0M493.2 67.5h0M395.4 123.8h0M468.7 49.4h0M463.8 47.4h0M469.2 82.7h0M487.8 44.3h0M421.5 98.6h0M433.5 58.9h0M492.2 79.8h0M436.6 117.3h0M412.2 73.2h0M471.5 104.1h0M450.0 82.0h0M472.0 48.1h0M427.7 66.4h0M412.2 123.6h0M438.5 91.1h0M439.6 116.8h0M469.3 90.0h0M421.3 74.9h0M480.6 119.3h0M395.5 120.6h0M416.9 52.4h0M408.0 133.6h0M445.5 114.8h0M431.9 131.0h0M414.9 123.4h0M437.8 121.1h0M418.4 44.4h0M454.3 37.5h0M457.7 56.3h0M409.0 45.9h0M422.9 42.7h0M490.0 83.9h0M416.5 127.4h0M486.4 91.0h0M401.9 105.0h0M439.0 40.4h0M450.8 56.9h0M471.1 98.9h0M393.7 79.6h0M423.4 70.3h0M455.0 128.5h0M388.7 120.2h0M392.4 56.4h0M487.6 82.9h0M441.5 81.6h0M432.2 100.1h0M479.5 98.0h0M454.8 74.1h0M478.2 82.7h0M418.0 76.9h0M382.1 35.6h0M492.6 85.6h0M487.6 63.5h0M433.3 83.7h0M475.1 133.5h0M470.0 66.6h0M451.4 38.1h0M444.1 99.3h0M453.6 42.6h0M462.9 113.5h0M432.8 54.5h0M412.9 133.5h0M455.6 48.6h0M395.4 56.1h0M431.6 50.3h0M457.4 50.9h0M481.6 108.0h0M395.3 90.4h0M492.8 65.5h0M427.5 56.5h0M447.2 40.1h0M445.0 128.3h0M408.8 64.6h0M438.1 75.1h0M389.0 60.4h0M483.6 55.7h0M464.3 42.7h0M412.3 98.3h0M473.0 53.1h0M391.4 85.6h0M412.8 57.6h0M438.3 65.3h0M480.2 42.4h0M408.5 131.2h0M469.5 73.7h0M458.3 92.2h0M429.6 36.2h0M413.0 67.1h0M462.8 103.3h0M480.2 133.6h0M397.5 59.7h0" stroke="#5d6690" stroke-width="1.75"/>
<path d="M398.1 77.6h0M380.7 128.7h0M405.5 127.4h0M462.8 63.2h0M477.2 40.5h0M483.1 65.1h0M399.3 61.8h0M383.7 115.0h0M453.0 70.3h0M469.1 40.5h0M473.9 87.3h0M450.4 43.8h0M450.5 118.3h0M411.1 131.7h0M406.4 74.1h0M474.6 101.1h0M441.5 122.3h0M383.8 45.6h0M433.1 110.1h0M389.9 54.1h0M444.7 103.7h0M433.5 114.0h0M440.0 108.4h0M480.7 69.4h0M480.8 57.0h0M479.5 107.5h0M486.2 37.0h0M431.3 104.0h0M395.0 85.7h0M451.6 89.0h0M453.2 91.9h0M476.4 37.4h0M443.4 38.6h0M430.0 92.9h0M492.8 108.6h0M474.8 113.6h0M396.2 128.3h0M400.2 101.2h0M422.6 36.5h0M409.5 75.5h0M397.9 124.6h0M422.5 113.4h0M436.9 50.4h0M405.7 68.7h0M416.2 99.0h0M396.8 116.9h0M471.7 92.0h0M474.3 90.0h0M440.5 74.1h0M409.0 105.2h0M486.4 125.6h0M462.9 77.3h0M399.2 128.0h0M422.8 125.2h0M455.1 57.1h0M425.6 61.0h0M475.3 65.4h0M429.9 76.8h0M383.6 121.5h0M420.8 35.6h0M412.3 126.2h0M478.0 132.3h0M466.4 41.3h0M386.2 124.8h0M446.4 77.4h0M389.6 128.7h0M429.5 57.6h0M424.3 91.2h0M487.6 103.4h0M412.6 86.5h0M433.7 56.6h0M489.5 39.3h0M433.9 47.5h0M383.8 57.6h0M478.0 50.2h0M467.1 104.1h0M401.1 66.6h0M410.5 67.4h0M453.6 130.5h0M449.1 71.8h0M403.9 130.8h0M456.2 85.5h0M381.1 44.4h0M443.4 68.8h0M411.1 128.8h0M419.4 52.4h0M407.3 77.9h0M388.5 95.7h0M417.2 88.4h0M397.3 74.1h0M381.5 86.8h0M461.4 53.5h0M413.6 43.3h0M470.0 96.3h0M405.0 35.8h0M447.8 106.7h0M441.7 43.9h0M397.3 64.2h0M456.1 40.9h0M380.6 108.7h0M462.8 80.3h0M448.0 109.8h0M467.1 113.4h0M397.0 85.1h0M421.7 86.0h0M459.0 95.6h0M380.1 36.1h0M472.6 133.1h0M397.4 106.4h0M399.9 123.5h0M424.3 47.1h0M483.4 72.2h0M465.1 102.9h0M433.0 66.9h0M465.4 95.1h0M477.4 95.1h0M410.0 73.5h0M491.4 59.4h0M492.9 77.0h0M443.4 124.4h0M431.1 59.3h0M491.7 39.0h0M419.8 59.5h0M432.1 76.2h0M440.4 53.2h0M448.2 132.3h0M452.2 66.8h0M393.5 61.7h0M393.3 75.3h0M420.2 104.5h0M439.0 98.9h0M487.2 100.6h0M408.1 49.0h0M381.2 122.0h0M397.8 111.6h0M475.0 96.7h0M396.1 43.3h0M408.2 70.3h0M413.7 77.8h0M456.0 123.2h0M460.0 55.1h0M437.7 124.6h0M493.3 111.4h0M413.3 82.3h0M491.4 47.4h0M438.9 51.6h0M476.1 82.0h0M433.1 45.5h0M431.5 127.9h0M447.8 120.3h0M380.0 113.0h0M479.5 103.8h0M462.8 68.2h0M429.6 84.2h0M479.8 91.8h0M427.3 119.5h0M479.4 96.0h0M399.5 68.3h0M380.0 85.2h0M423.5 115.4h0" stroke="#5d6690" stroke-width="1.98"/>
<path d="M428.9 97.0h0M489.3 80.7h0M397.3 41.0h0M443.1 74.5h0M435.9 70.9h0M465.8 75.9h0M396.1 103.1h0M385.5 69.5h0M440.1 101.2h0M442.7 70.7h0M443.0 76.6h0M409.9 61.4h0M414.9 57.0h0M406.2 120.3h0M394.9 63.3h0M486.0 61.4h0M386.2 56.9h0M390.0 63.7h0M393.8 98.6h0M412.7 75.6h0M453.9 108.3h0M489.8 49.4h0M489.4 107.3h0M443.3 64.8h0M424.7 49.2h0M467.3 81.6h0M390.7 118.2h0M455.5 54.3h0M395.3 74.7h0M419.5 92.8h0M447.4 87.7h0M425.9 75.6h0M418.5 131.1h0M405.8 106.5h0M481.7 104.7h0M486.0 51.0h0M466.5 121.0h0M445.1 60.9h0M441.0 113.2h0M434.4 90.3h0M381.0 55.8h0M417.1 48.4h0M477.8 122.4h0M431.0 39.0h0M396.7 98.0h0M491.7 113.1h0M441.0 103.3h0M463.5 57.4h0M483.1 74.5h0M445.2 108.4h0M403.3 112.2h0M485.4 70.5h0M483.7 88.7h0M459.2 110.9h0M469.7 93.5h0M389.1 90.2h0M481.1 124.0h0M451.7 75.6h0M426.7 94.0h0M421.9 127.0h0M417.2 107.4h0M402.9 125.2h0M462.0 74.8h0M481.6 113.8h0M437.7 130.6h0M399.3 118.5h0M410.2 71.1h0M472.1 94.8h0M454.3 76.1h0M399.2 43.4h0M402.0 70.0h0M435.2 73.6h0M493.0 95.1h0M440.4 131.6h0M382.5 131.0h0M482.3 121.9h0M436.9 88.1h0M477.3 101.4h0M435.9 115.2h0M448.6 55.6h0M473.9 73.6h0M399.1 103.9h0M381.3 98.1h0M414.4 93.0h0M391.2 98.2h0M425.8 109.8h0M444.0 59.0h0M406.8 72.1h0M381.7 89.7h0M388.6 36.3h0M394.2 42.6h0M391.3 65.5h0M467.7 111.4h0M455.3 110.9h0M427.2 42.8h0M419.3 98.5h0M402.6 65.1h0M431.7 36.3h0M417.8 94.7h0M446.1 100.8h0M483.5 46.5h0M402.0 120.0h0M390.5 125.2h0M392.1 49.5h0M472.4 100.6h0M436.5 80.3h0M386.0 109.7h0M443.4 80.6h0M444.0 110.1h0M447.4 125.8h0M438.8 80.2h0M383.4 94.6h0M492.9 36.1h0M420.0 124.9h0M423.3 65.2h0M460.6 106.9h0M485.6 80.0h0M387.2 80.5h0M411.6 39.7h0M491.5 101.7h0M419.9 122.2h0M393.9 45.2h0M438.9 104.6h0M468.5 43.7h0M459.9 127.9h0M441.7 96.6h0M395.8 92.5h0M486.3 53.4h0M457.3 35.8h0M441.1 87.7h0M487.0 42.1h0M481.0 87.3h0M413.7 41.0h0M443.1 52.0h0M471.0 85.5h0M436.3 52.7h0M466.9 70.3h0M420.6 45.5h0M431.7 71.5h0M418.4 42.3h0M488.3 127.9h0M428.1 113.2h0M411.3 41.8h0M394.3 71.7h0M393.2 86.7h0M432.4 116.1h0M463.3 54.3h0M437.8 85.6h0M472.0 66.0h0M472.3 127.4h0M484.1 39.9h0M464.1 73.8h0M452.7 73.1h0M437.3 44.1h0M388.0 42.6h0M441.7 91.7h0M415.4 44.7h0M452.1 93.5h0M394.8 96.7h0M442.5 66.9h0M397.5 89.9h0M398.8 98.8h0M398.4 133.4h0M431.8 57.2h0M464.4 127.0h0M493.2 128.3h0M424.8 93.3h0M451.7 61.9h0M444.7 63.1h0M394.2 126.4h0M380.0 119.8h0" stroke="#6b7398" stroke-width="1.52"/>
<path d="M473.8 75.7h0M392.0 127.3h0M424.1 68.1h0M433.0 61.0h0M396.0 58.1h0M380.5 66.6h0M419.1 106.3h0M491.7 69.3h0M403.4 87.3h0M465.7 87.3h0M405.5 63.6h0M466.9 61.5h0M484.8 116.8h0M385.4 54.9h0M397.8 45.0h0M424.1 55.0h0M398.4 120.6h0M466.5 47.4h0M439.7 123.3h0M404.0 110.0h0M457.2 90.5h0M424.9 72.2h0M485.8 55.9h0M406.5 89.2h0M421.9 88.2h0M418.7 109.0h0M489.1 113.8h0M485.8 47.1h0M401.6 93.8h0M404.7 118.5h0M449.1 94.8h0M461.6 56.4h0M384.2 50.2h0M433.3 86.5h0M400.0 70.3h0M384.8 101.0h0M406.5 124.3h0M446.5 44.4h0M401.8 129.1h0M491.6 123.5h0M434.4 104.4h0M411.2 92.3h0M417.1 70.9h0M434.8 107.7h0M456.7 100.9h0M481.2 89.7h0M402.7 76.2h0M389.9 50.3h0M427.0 72.8h0M461.6 38.1h0M485.7 44.3h0M449.9 92.7h0M408.7 52.1h0M445.1 56.6h0M397.5 82.6h0M437.4 93.1h0M412.2 63.0h0M394.0 54.1h0M483.4 91.5h0M463.3 101.2h0M438.7 47.7h0M409.8 114.5h0M479.3 93.9h0M390.6 87.9h0M396.1 37.1h0M493.0 42.9h0M448.1 58.4h0M437.5 110.1h0M462.8 132.9h0M436.9 99.0h0M451.5 48.9h0M428.6 70.5h0M427.6 89.5h0M430.7 125.0h0M456.8 67.2h0M399.1 91.7h0M385.2 64.7h0M483.3 79.1h0M441.1 78.8h0M436.8 104.7h0M395.3 60.5h0M386.8 38.8h0M477.8 118.3h0M418.2 118.6h0M466.2 43.9h0M380.5 132.7h0M474.4 98.7h0M439.4 61.2h0M490.4 37.5h0M440.3 71.6h0M383.3 43.6h0M429.2 63.1h0M465.4 129.0h0M402.5 95.6h0M455.5 115.7h0M456.4 77.8h0M385.4 52.1h0M422.4 52.3h0M453.5 101.8h0M451.2 78.4h0M451.1 99.6h0M436.8 40.7h0M425.4 69.6h0M461.5 126.4h0M416.8 85.9h0M445.4 105.7h0M420.4 55.2h0M421.9 76.8h0M411.6 59.2h0M403.3 41.5h0M452.5 45.0h0M389.2 76.3h0M424.9 96.3h0M481.0 71.8h0M446.9 53.4h0M470.1 62.3h0M415.7 46.7h0M475.0 80.3h0M423.3 122.5h0M430.3 55.7h0M441.7 35.9h0M450.7 73.7h0M426.1 125.2h0M453.5 124.1h0M398.2 109.3h0M448.2 80.0h0M460.3 84.6h0M392.0 39.5h0M479.2 129.5h0M405.7 112.0h0M386.7 61.2h0M467.7 93.8h0M382.6 107.6h0M380.2 64.6h0M424.8 45.2h0M481.0 65.6h0M454.9 90.4h0M436.3 90.9h0M451.2 101.8h0M482.5 133.2h0M399.5 59.1h0M405.2 104.3h0M480.6 79.2h0M430.0 105.6h0M435.0 119.9h0M479.6 67.6h0M452.5 103.8h0M465.6 106.7h0M408.1 59.8h0M434.2 100.1h0M432.0 43.4h0M391.5 52.5h0M472.6 40.1h0M407.1 53.3h0M413.6 45.7h0M419.5 61.9h0M395.5 65.7h0M432.2 112.4h0M395.2 118.3h0M395.7 100.5h0M485.1 49.0h0M487.5 85.4h0M453.9 78.3h0M491.4 92.8h0M380.0 62.6h0M440.1 126.0h0M416.1 105.3h0M400.6 35.8h0M428.5 44.6h0M467.5 96.3h0M457.3 110.0h0" stroke="#6b7398" stroke-width="1.75"/>
<path d="M392.9 131.5h0M419.6 39.4h0M413.9 120.4h0M387.6 113.0h0M435.6 129.6h0M481.8 49.3h0M437.1 106.9h0M450.5 60.3h0M443.6 113.3h0M409.2 57.3h0M491.3 44.4h0M451.0 124.5h0M406.6 40.0h0M427.9 52.6h0M491.5 74.0h0M461.0 95.5h0M486.2 128.5h0M391.5 108.3h0M425.1 112.1h0M460.8 116.6h0M410.3 47.7h0M381.9 118.7h0M447.7 83.1h0M450.6 106.9h0M400.2 130.7h0M400.7 115.2h0M445.0 122.5h0M416.7 55.2h0M461.9 70.0h0M416.7 110.8h0M405.5 94.4h0M476.0 124.7h0M477.9 54.6h0M466.9 131.8h0M420.5 131.7h0M436.6 101.7h0M426.9 45.9h0M446.4 130.5h0M469.1 109.8h0M466.0 68.3h0M477.2 103.4h0M437.0 61.4h0M482.7 37.6h0M414.9 51.5h0M438.2 126.8h0M447.4 128.0h0M493.0 58.2h0M438.8 82.9h0M485.2 84.5h0M462.9 83.3h0M425.7 127.7h0M384.6 133.5h0M389.1 85.5h0M471.8 56.5h0M417.0 101.2h0M382.1 50.3h0M406.7 55.7h0M392.3 104.9h0M410.7 102.2h0M459.4 51.2h0M476.8 91.9h0M405.4 65.7h0M488.6 69.8h0M447.9 75.1h0M386.2 127.7h0M417.8 80.5h0M465.0 80.7h0M438.0 36.0h0M453.2 118.8h0M416.3 91.1h0M464.6 36.1h0M407.0 102.8h0M436.7 46.4h0M464.2 111.4h0M403.5 122.5h0M394.1 106.0h0M489.8 96.8h0M475.9 73.4h0M449.0 77.9h0M442.2 126.2h0M405.6 96.6h0M489.2 42.5h0M488.7 55.2h0M382.2 47.7h0M408.7 129.1h0M400.5 78.6h0M428.2 104.4h0M403.6 56.2h0M452.3 64.5h0M386.8 49.1h0M427.3 121.5h0M404.2 71.8h0M457.4 47.6h0M443.3 105.8h0M406.1 92.4h0M380.8 94.3h0M381.1 59.5h0M384.4 103.9h0M414.9 36.2h0M414.6 38.6h0M476.9 87.0h0M394.3 112.3h0M380.0 82.7h0M445.0 66.7h0M439.0 94.4h0M448.0 98.4h0M391.6 71.3h0M441.2 98.6h0M460.6 41.3h0M413.5 114.2h0M405.0 61.3h0M470.1 115.7h0M488.1 47.1h0M479.2 73.8h0M384.6 92.1h0M402.8 80.7h0M491.2 132.4h0M387.3 88.6h0M465.5 84.2h0M436.4 63.8h0M466.4 73.7h0M410.0 99.9h0M430.0 129.7h0M454.0 133.6h0M481.4 131.3h0M445.9 84.2h0M461.6 109.2h0M434.5 117.8h0M478.3 36.2h0M388.0 55.3h0M382.2 53.6h0M408.3 101.2h0M448.4 85.5h0M440.4 111.3h0M385.5 95.3h0M433.5 39.8h0M474.4 63.5h0M478.2 47.6h0M482.7 101.9h0M387.9 71.7h0M409.8 111.9h0M406.5 129.9h0M380.1 91.5h0M459.1 70.1h0M484.0 61.9h0M428.6 75.2h0M479.9 122.3h0M442.8 120.1h0M455.3 80.6h0M479.7 40.4h0M421.8 67.4h0M425.9 130.9h0M424.1 132.7h0M394.6 129.8h0M467.7 86.3h0M403.9 74.0h0M434.0 35.8h0M423.8 39.9h0M464.3 49.4h0M404.3 59.1h0M388.6 93.7h0M438.4 118.5h0M493.1 99.2h0M463.3 45.2h0M468.1 100.3h0M463.3 95.9h0" stroke="#6b7398" stroke-width="1.98"/>
<path d="M399.8 53.2h0M474.8 94.5h0M488.7 78.8h0M471.3 83.0h0M402.9 62.2h0M469.2 71.0h0M428.0 110.6h0M402.6 35.7h0M458.7 131.3h0M431.1 82.7h0M405.3 51.4h0M492.8 87.8h0M427.1 79.5h0M442.6 83.6h0M401.5 132.7h0M417.6 62.7h0M460.8 103.1h0M431.2 68.6h0M389.6 67.0h0M464.9 97.2h0M450.1 126.9h0M453.4 115.1h0M457.4 113.3h0M472.8 130.2h0M424.4 107.1h0M478.1 105.6h0M457.4 58.5h0M405.3 38.2h0M425.2 116.7h0M405.0 80.1h0M388.0 106.2h0M413.5 70.4h0M481.4 81.3h0M455.9 69.9h0M447.5 116.0h0M493.2 48.9h0M414.8 107.5h0M440.5 45.5h0M406.3 58.4h0M419.8 50.4h0M391.5 61.4h0M430.1 112.7h0M438.2 112.9h0M453.2 111.8h0M467.5 78.9h0M471.0 64.3h0M400.7 110.6h0M398.8 56.0h0M384.7 89.1h0M486.6 98.4h0M469.6 68.7h0M427.7 107.1h0M479.0 76.2h0M421.6 72.5h0M411.3 119.4h0M456.9 73.2h0M477.4 67.8h0M426.2 103.6h0M465.4 114.7h0M408.6 126.0h0M399.9 85.6h0M415.8 75.5h0M427.0 62.9h0M493.3 117.5h0M468.9 123.4h0M382.4 79.5h0M445.1 81.6h0M461.1 60.7h0M390.6 95.2h0M455.9 60.8h0M464.6 59.8h0M423.1 109.5h0M386.2 129.9h0M458.9 108.3h0M441.3 118.3h0M396.0 110.5h0M399.7 64.2h0M430.1 110.4h0M467.4 90.9h0M401.9 73.3h0M406.5 42.7h0M384.6 61.0h0M385.0 111.9h0M467.0 98.3h0M402.5 108.6h0M474.3 37.0h0M387.5 51.9h0M475.7 116.8h0M413.6 64.8h0M383.5 70.4h0M429.8 86.4h0M429.6 121.1h0M457.2 98.2h0M423.9 76.9h0M453.6 105.8h0M395.6 52.6h0M420.7 129.6h0M483.2 50.8h0M482.7 116.5h0M382.4 91.6h0M460.5 99.8h0M488.1 51.3h0M444.3 86.0h0M467.4 63.7h0M409.6 39.2h0M469.5 56.4h0M392.1 129.3h0M473.9 47.4h0M409.0 43.2h0M481.5 52.4h0M471.8 110.7h0M439.6 43.4h0M436.4 38.6h0M428.1 47.7h0M388.2 125.3h0M472.2 97.0h0M379.9 74.4h0M485.6 82.3h0M416.2 77.6h0M404.6 49.5h0M405.0 116.1h0" stroke="#78809e" stroke-width="1.52"/>
<path d="M489.9 100.4h0M422.1 103.7h0M411.4 69.4h0M386.0 43.0h0M397.6 80.5h0M442.8 89.5h0M403.4 114.7h0M443.1 61.8h0M491.0 67.1h0M430.6 117.8h0M458.1 105.9h0M488.5 67.2h0M445.0 54.3h0M412.0 103.8h0M420.9 117.0h0M486.6 75.2h0M411.7 54.4h0M459.7 36.2h0M401.6 40.2h0M474.2 105.7h0M455.5 118.5h0M432.0 91.8h0M432.8 126.2h0M413.6 80.0h0M479.3 110.5h0M401.0 127.0h0M489.5 57.3h0M402.4 102.6h0M392.6 111.2h0M402.8 117.5h0M415.3 59.5h0M440.3 120.6h0M380.9 114.8h0M399.8 96.3h0M410.0 50.4h0M383.6 124.5h0M430.0 48.9h0M401.4 91.0h0M489.4 86.2h0M421.6 57.8h0M457.5 128.7h0M433.8 64.8h0M390.1 57.5h0M392.8 96.6h0M448.9 68.6h0M417.7 59.3h0M426.6 36.7h0M472.2 89.1h0M407.0 80.4h0M381.0 38.2h0M425.3 118.9h0M490.7 90.6h0M477.5 79.9h0M443.6 42.7h0M473.5 92.8h0M408.8 55.2h0M401.9 59.3h0M460.2 119.8h0M423.8 79.1h0M475.2 121.4h0M418.2 36.1h0M432.3 63.1h0M449.5 40.0h0M407.8 38.2h0M459.4 123.0h0M429.7 114.8h0M391.3 101.7h0M434.6 131.8h0M447.5 122.6h0M401.9 98.0h0M441.0 105.5h0M414.2 53.6h0M449.7 87.5h0M408.6 123.4h0M481.8 54.4h0M471.1 54.1h0M394.3 133.3h0M424.5 63.2h0M476.1 110.1h0M429.9 79.9h0M388.2 108.6h0M485.8 95.6h0M397.9 38.8h0M425.1 52.8h0M407.5 44.5h0M469.8 127.9h0M480.4 83.4h0M386.5 104.5h0M459.4 115.0h0M427.3 117.1h0M485.3 57.8h0M419.7 81.2h0M413.4 55.6h0M380.3 80.7h0M402.9 89.3h0M420.1 78.1h0M431.6 85.4h0M439.5 128.8h0M487.7 76.9h0M447.2 60.5h0M396.9 50.0h0M469.2 98.3h0M383.0 99.4h0M491.2 41.7h0M387.6 46.5h0M435.9 68.7h0M488.7 98.8h0" stroke="#78809e" stroke-width="1.75"/>
<path d="M480.4 116.4h0M433.2 102.0h0M450.9 85.5h0M467.8 66.8h0M428.9 101.6h0M386.4 121.5h0M455.7 64.2h0M450.3 63.9h0M490.2 61.4h0M491.0 128.8h0M490.2 76.3h0M422.4 93.4h0M449.7 97.2h0M383.7 81.0h0M469.6 87.6h0M383.8 72.8h0M406.6 47.5h0M487.4 106.4h0M434.8 81.6h0M412.0 112.5h0M458.1 63.2h0M418.5 69.0h0M385.2 40.8h0M478.4 61.6h0M440.0 92.6h0M487.3 72.6h0M429.6 61.0h0M480.2 101.3h0M467.8 54.1h0M474.8 39.7h0M393.7 51.4h0M488.2 130.8h0M387.5 64.0h0M449.3 103.8h0M486.3 93.5h0M400.0 81.2h0M445.6 36.4h0M433.0 106.2h0M433.2 52.4h0M384.5 106.0h0M470.7 44.7h0M417.9 74.7h0M462.0 118.9h0M388.0 102.7h0M424.3 83.2h0M386.2 83.8h0M438.9 87.8h0M492.5 83.2h0M475.6 84.3h0M490.7 110.3h0M398.1 51.8h0M472.0 108.3h0M435.5 110.2h0M426.5 54.4h0M431.2 108.7h0M451.9 83.5h0M383.4 84.6h0M473.7 83.4h0M455.4 125.2h0M462.0 66.0h0M448.2 66.7h0M463.6 40.2h0M474.8 57.9h0M436.0 123.2h0M482.7 99.0h0M443.4 115.7h0M479.5 113.9h0M476.8 76.7h0M444.4 92.3h0M451.7 42.1h0M457.6 103.6h0M454.1 68.4h0M468.1 75.7h0M436.8 58.8h0M419.7 120.1h0M402.0 38.0h0M471.4 119.6h0M407.9 62.5h0M475.8 49.0h0M417.0 103.5h0M396.5 70.7h0M477.3 112.0h0M435.1 112.5h0M459.4 67.3h0M489.8 94.3h0M394.0 59.0h0M415.1 116.9h0M487.1 49.0h0M384.5 76.2h0M425.8 77.9h0M419.4 73.2h0M401.5 43.4h0M477.6 114.5h0M435.8 125.6h0M456.9 133.6h0M411.1 56.3h0M483.8 105.7h0M394.4 40.1h0M380.2 116.9h0M457.8 87.6h0M389.7 105.1h0M489.3 132.8h0M458.0 60.5h0M397.2 61.7h0M396.7 113.4h0M439.5 96.8h0M447.2 102.8h0M470.0 118.0h0M415.6 81.8h0M448.2 51.1h0M441.2 85.3h0M400.4 108.4h0M455.1 66.1h0M405.5 122.4h0M493.6 90.7h0M410.1 86.8h0M405.1 86.0h0M479.8 58.9h0M382.5 105.3h0M382.3 82.7h0M415.1 109.6h0M406.8 118.1h0M402.7 78.2h0M476.7 120.0h0M482.4 44.6h0" stroke="#78809e" stroke-width="1.98"/>
</g>
<ellipse cx="383.9" cy="39.5" rx="5" ry="4.5" fill="#b48c62" opacity="0.75" filter="url(#blur1)"/>
<ellipse cx="416.9" cy="39.5" rx="5" ry="3.5" fill="#b48c62" opacity="0.65" filter="url(#blur1)"/>
<ellipse cx="389.9" cy="66.5" rx="6.5" ry="7.5" fill="#b48c62" opacity="0.35" filter="url(#blur1)"/>
<ellipse cx="389.9" cy="66.5" rx="3.5" ry="4.5" fill="#f0e6dc" opacity="0.6" filter="url(#blur1)"/>
<ellipse cx="428.9" cy="98.5" rx="2.6" ry="11" fill="#b48c62" opacity="0.7" transform="rotate(5 428.9 98.5)" filter="url(#blur1)"/>
<ellipse cx="477.9" cy="106.5" rx="2.6" ry="10" fill="#b48c62" opacity="0.7" transform="rotate(-5 477.9 106.5)" filter="url(#blur1)"/>
<ellipse cx="457.9" cy="94.5" rx="3.5" ry="4.5" fill="#a88050" opacity="0.55" filter="url(#blur1)"/>
<ellipse cx="384.9" cy="116.5" rx="5" ry="7" fill="#b48c62" opacity="0.6" filter="url(#blur1)"/>
<ellipse cx="425.9" cy="128.5" rx="7" ry="4" fill="#b48c62" opacity="0.35" filter="url(#blur1)"/>
<ellipse cx="484.9" cy="71.5" rx="4" ry="6" fill="#b48c62" opacity="0.35" filter="url(#blur1)"/>
<ellipse cx="442.9" cy="98.5" rx="4" ry="4" fill="#f4efea" opacity="0.55" filter="url(#blur1)"/>
<ellipse cx="450.9" cy="61.5" rx="6" ry="6" fill="#cbb294" opacity="0.4" filter="url(#blur1)"/>
<ellipse cx="400.9" cy="84.5" rx="8" ry="7" fill="#cbb294" opacity="0.4" filter="url(#blur1)"/>
<ellipse cx="410.9" cy="124.5" rx="8" ry="4" fill="#cbb294" opacity="0.4" filter="url(#blur1)"/>
<ellipse cx="475.9" cy="66.5" rx="5" ry="6" fill="#cbb294" opacity="0.4" filter="url(#blur1)"/>
<ellipse cx="398.9" cy="98.5" rx="2.5" ry="8" fill="#b48c62" opacity="0.4" transform="rotate(30 398.9 98.5)" filter="url(#blur1)"/>
<ellipse cx="420.9" cy="76.5" rx="2.5" ry="7" fill="#b48c62" opacity="0.35" transform="rotate(-20 420.9 76.5)" filter="url(#blur1)"/>
<ellipse cx="438.9" cy="66.5" rx="2.5" ry="6" fill="#b48c62" opacity="0.35" transform="rotate(60 438.9 66.5)" filter="url(#blur1)"/>
<ellipse cx="465.9" cy="86.5" rx="2.5" ry="7" fill="#b48c62" opacity="0.4" transform="rotate(-35 465.9 86.5)" filter="url(#blur1)"/>
<ellipse cx="400.9" cy="114.5" rx="2.5" ry="7" fill="#b48c62" opacity="0.4" transform="rotate(70 400.9 114.5)" filter="url(#blur1)"/>
<ellipse cx="440.9" cy="124.5" rx="2.5" ry="6" fill="#b48c62" opacity="0.35" transform="rotate(80 440.9 124.5)" filter="url(#blur1)"/>
<ellipse cx="465.9" cy="66.5" rx="2.5" ry="7" fill="#b48c62" opacity="0.35" transform="rotate(20 465.9 66.5)" filter="url(#blur1)"/>
<ellipse cx="484.9" cy="124.5" rx="2.5" ry="6" fill="#b48c62" opacity="0.4" transform="rotate(-60 484.9 124.5)" filter="url(#blur1)"/>
<ellipse cx="405.9" cy="51.5" rx="2.5" ry="6" fill="#b48c62" opacity="0.35" transform="rotate(50 405.9 51.5)" filter="url(#blur1)"/>
<ellipse cx="472.9" cy="48.5" rx="2.5" ry="6" fill="#b48c62" opacity="0.35" transform="rotate(15 472.9 48.5)" filter="url(#blur1)"/>
<ellipse cx="437.9" cy="111.5" rx="9" ry="7" fill="#7088cc" opacity="0.35" filter="url(#blur1)"/>
<ellipse cx="477.9" cy="54.5" rx="9" ry="7" fill="#7088cc" opacity="0.3" filter="url(#blur1)"/>
<ellipse cx="405.9" cy="63.5" rx="8" ry="6" fill="#7088cc" opacity="0.25" filter="url(#blur1)"/>
</g></g>
<rect x="386.09999999999997" y="126.1" width="9.0" height="1.6" fill="#111"/>
<rect x="487.5" y="128.5" width="3.0" height="0.9" fill="#555"/>
<clipPath id="cp2"><rect x="380.9" y="156.2" width="111.8" height="96.2"/></clipPath>
<filter id="bl2" color-interpolation-filters="sRGB"><feGaussianBlur stdDeviation="0.5"/></filter>
<g clip-path="url(#cp2)"><g filter="url(#bl2)">
<rect x="378.9" y="154.2" width="115.8" height="100.2" fill="#cfd3e3"/>
<ellipse cx="438.9" cy="224.2" rx="7" ry="14" fill="#f4f4f6" opacity="1.0" filter="url(#blur2)"/>
<ellipse cx="436.9" cy="216.2" rx="5" ry="8" fill="#f4f4f6" opacity="0.9" filter="url(#blur2)"/>
<ellipse cx="473.9" cy="183.2" rx="7" ry="8" fill="#eeeeef" opacity="0.9" filter="url(#blur2)"/>
<ellipse cx="395.9" cy="171.2" rx="10" ry="10" fill="#e2dcdc" opacity="0.7" filter="url(#blur2)"/>
<ellipse cx="480.9" cy="166.2" rx="8" ry="6" fill="#dcd4cc" opacity="0.7" filter="url(#blur2)"/>
<ellipse cx="424.9" cy="186.2" rx="4" ry="9" fill="#ddd2c8" opacity="0.6" filter="url(#blur2)"/>
<ellipse cx="410.9" cy="164.2" rx="6" ry="5" fill="#e6e2e4" opacity="0.6" filter="url(#blur2)"/>
<ellipse cx="388.9" cy="191.2" rx="6" ry="5" fill="#e8e4e6" opacity="0.6" filter="url(#blur2)"/>
<ellipse cx="468.9" cy="206.2" rx="6" ry="5" fill="#d8d4dc" opacity="0.5" filter="url(#blur2)"/>
<ellipse cx="450.9" cy="186.2" rx="5" ry="6" fill="#dcd6d4" opacity="0.5" filter="url(#blur2)"/>
<g opacity="0.6" fill="none" stroke-linecap="round">
<path d="M458.5 250.1h0M421.3 224.4h0M472.4 218.3h0M427.2 186.5h0M461.2 185.3h0M481.9 178.7h0M471.4 225.2h0M386.7 163.8h0M395.2 175.1h0M431.4 240.8h0M439.5 181.6h0M463.8 234.8h0M408.9 157.8h0M446.1 214.0h0M419.9 229.0h0M476.7 233.6h0M469.3 158.4h0M404.8 179.9h0M430.9 155.9h0M399.4 167.7h0M472.7 253.2h0M476.4 202.1h0" stroke="#8c9dd2" stroke-width="2.60"/>
<path d="M432.6 235.4h0M460.5 217.3h0M476.8 174.5h0M453.4 248.7h0M476.8 206.0h0M486.4 160.5h0M400.8 173.9h0M427.6 204.7h0M492.5 232.6h0M391.7 178.6h0M492.6 188.5h0M432.6 175.8h0M396.1 166.4h0M424.5 244.8h0M429.5 233.7h0M403.9 211.9h0M470.6 193.7h0M425.2 214.3h0M424.2 189.5h0M444.3 200.3h0M443.3 181.5h0M460.8 213.4h0M392.8 155.6h0M404.2 196.2h0M478.8 177.1h0" stroke="#8c9dd2" stroke-width="3.00"/>
<path d="M396.5 161.6h0M390.3 188.7h0M441.9 185.9h0M426.1 178.5h0M473.0 196.4h0M449.1 201.8h0M440.2 172.0h0M434.8 241.8h0M443.9 190.3h0M438.7 160.4h0M461.1 247.2h0M487.9 166.1h0M435.1 169.9h0M462.1 230.3h0M419.7 167.8h0M406.1 209.1h0M421.9 221.1h0M447.5 224.2h0M447.8 232.2h0M416.2 168.8h0M484.4 244.5h0M489.3 177.8h0M403.1 189.3h0M420.8 161.9h0M443.5 193.7h0M462.3 241.4h0M422.1 187.0h0M479.5 235.4h0M440.8 189.0h0M418.2 160.0h0" stroke="#8c9dd2" stroke-width="3.40"/>
<path d="M450.8 228.0h0M482.4 166.3h0M467.0 170.9h0M415.8 202.5h0M386.2 245.2h0M451.6 232.6h0M390.0 181.9h0M421.0 232.4h0M419.5 218.4h0M383.0 170.9h0M410.4 170.4h0M384.0 180.0h0M423.8 193.7h0M388.1 160.9h0M479.9 168.4h0M456.4 247.6h0M422.8 216.6h0M394.7 190.3h0M447.7 165.4h0M419.9 179.6h0M400.9 193.4h0M412.2 162.8h0M474.4 241.5h0M489.9 173.6h0M447.6 218.7h0M391.4 174.2h0M413.6 166.7h0M421.9 202.1h0M484.5 187.2h0M445.2 204.3h0M450.4 239.4h0M436.2 155.3h0M469.9 231.0h0M475.2 159.4h0M425.7 199.5h0M419.4 205.0h0M482.9 161.8h0M428.4 244.9h0M387.1 206.4h0M456.2 235.7h0M404.1 238.2h0M431.9 159.4h0M447.4 208.8h0M392.3 161.6h0M384.8 183.1h0M387.6 179.4h0M409.2 161.8h0M380.1 172.8h0M394.5 158.7h0M437.4 165.4h0M482.3 158.5h0M446.6 192.5h0M427.6 229.9h0M460.1 253.2h0" stroke="#9dacda" stroke-width="2.60"/>
<path d="M433.3 179.4h0M419.1 190.0h0M475.3 168.0h0M434.4 183.8h0M432.9 192.5h0M398.3 183.4h0M490.0 181.1h0M441.1 163.4h0M427.8 237.5h0M440.8 202.2h0M419.6 195.7h0M410.1 187.6h0M488.8 213.2h0M401.5 186.3h0M468.2 162.2h0M387.8 184.6h0M423.4 228.5h0M478.2 164.7h0M459.6 173.2h0M479.6 187.8h0M449.7 194.1h0M426.4 219.2h0M423.1 176.0h0M436.7 179.1h0" stroke="#9dacda" stroke-width="3.00"/>
<path d="M403.7 176.4h0M418.4 185.6h0M388.8 169.8h0M422.8 252.3h0M455.5 229.8h0M428.6 211.7h0M432.9 165.0h0M433.6 248.0h0M426.6 159.6h0M414.7 160.2h0M477.7 248.4h0M458.3 209.5h0M423.4 183.7h0M413.6 188.3h0M428.3 216.2h0M462.3 180.8h0M409.0 216.0h0M435.9 200.0h0M407.2 232.4h0M441.5 177.6h0M408.8 225.4h0M443.8 173.7h0M442.1 206.1h0M468.8 173.7h0M381.9 204.7h0M387.4 218.0h0M426.6 225.7h0M468.6 217.6h0M399.1 163.6h0M434.7 251.8h0M468.1 226.6h0M423.3 180.1h0M486.8 174.5h0M425.1 210.7h0M415.1 185.1h0" stroke="#9dacda" stroke-width="3.40"/>
<path d="M470.6 168.8h0M447.5 236.3h0M463.0 172.1h0M405.7 183.8h0M490.6 192.5h0M431.7 245.2h0M461.0 168.4h0M405.3 166.6h0M422.4 164.9h0M457.6 240.0h0M414.7 181.5h0M387.2 175.5h0M473.9 245.1h0M466.0 242.8h0M398.3 187.8h0M475.1 228.3h0M436.4 196.6h0M429.8 162.6h0M457.7 215.6h0M430.5 252.6h0M435.1 158.4h0M415.9 196.1h0M447.0 198.0h0M380.4 216.6h0M405.6 229.4h0" stroke="#afbce2" stroke-width="2.60"/>
<path d="M436.7 188.4h0M419.7 238.0h0M430.1 219.0h0M401.9 158.7h0M422.7 197.6h0M464.5 166.8h0M465.4 178.9h0M391.7 165.3h0M424.6 231.6h0M427.9 250.7h0M451.5 223.0h0M433.4 214.2h0M436.0 175.8h0M417.1 208.6h0M480.3 238.8h0M417.8 226.5h0M455.5 252.3h0M416.9 164.4h0M453.8 238.4h0M477.4 242.6h0M450.8 209.3h0M445.2 184.2h0M432.6 172.6h0M424.6 223.0h0M407.8 178.0h0" stroke="#afbce2" stroke-width="3.00"/>
<path d="M381.4 176.5h0M481.6 184.5h0M414.2 214.4h0M449.4 245.4h0M431.8 196.6h0M390.9 158.5h0M397.5 170.8h0M400.3 205.1h0M425.7 207.4h0M403.7 205.9h0M424.3 172.7h0M453.1 192.0h0M422.1 207.3h0M479.6 198.3h0M451.5 218.1h0M475.5 191.1h0M477.0 237.9h0M485.6 157.2h0M454.5 244.4h0M409.1 165.1h0M466.8 231.9h0M424.0 236.1h0M393.5 169.4h0M407.8 174.7h0M487.7 186.1h0M459.0 165.7h0M419.8 199.1h0M434.9 161.7h0M411.7 184.9h0M402.9 155.3h0M384.8 159.7h0" stroke="#afbce2" stroke-width="3.40"/>
</g>
<g opacity="0.75" fill="none" stroke-linecap="round">
<path d="M464.5 205.6h0M455.8 232.6h0M451.9 204.6h0M472.9 196.0h0M474.8 225.7h0M456.1 250.9h0M449.2 211.1h0M483.3 169.0h0M428.3 177.4h0M467.8 169.8h0M400.4 170.1h0M404.3 159.1h0M390.2 179.6h0" stroke="#4e5a8c" stroke-width="1.52"/>
<path d="M449.9 234.0h0M392.7 161.7h0M444.1 187.2h0M479.4 176.4h0M429.2 221.2h0M390.4 208.0h0M394.8 198.4h0M419.5 164.9h0M440.0 156.3h0" stroke="#4e5a8c" stroke-width="1.75"/>
<path d="M453.9 221.8h0M445.8 191.2h0M438.6 179.7h0M445.8 211.1h0M439.9 172.4h0M445.1 208.6h0M422.8 212.1h0M431.5 247.0h0M436.8 168.4h0M463.2 164.2h0M386.9 253.0h0" stroke="#4e5a8c" stroke-width="1.98"/>
<path d="M463.8 221.8h0M447.4 215.1h0M492.5 207.6h0M412.7 167.5h0M441.7 191.3h0M436.7 159.5h0M427.6 230.8h0M482.8 195.5h0M422.7 252.4h0M420.2 218.1h0M391.2 166.7h0M387.5 195.0h0M433.5 178.5h0M421.0 159.7h0M448.0 239.2h0M465.0 184.0h0M392.9 174.7h0M434.0 248.6h0M476.8 244.1h0M416.4 226.5h0M398.8 185.1h0M415.8 167.7h0M400.1 160.7h0M454.7 248.5h0M443.2 183.9h0M485.2 177.2h0M437.5 155.7h0M416.2 178.6h0M454.7 239.3h0M384.1 168.0h0M437.6 165.8h0M430.5 183.6h0M426.1 246.6h0M478.2 187.9h0" stroke="#5b6698" stroke-width="1.52"/>
<path d="M385.6 159.7h0M455.5 244.0h0M421.2 197.7h0M405.7 174.5h0M461.2 179.8h0M483.4 174.4h0M390.4 159.7h0M410.3 174.8h0M460.5 184.1h0M447.3 227.7h0M477.1 193.7h0M430.6 239.5h0M398.7 163.2h0M386.8 167.6h0M413.4 161.2h0M444.0 177.2h0M467.8 223.2h0M485.1 164.5h0M485.9 193.6h0M417.1 160.7h0M422.7 162.2h0M429.5 206.3h0M449.3 250.8h0M462.4 218.9h0M380.3 233.2h0M443.8 206.0h0M442.5 232.2h0M463.9 187.8h0M426.2 242.5h0M384.0 212.6h0M424.8 227.6h0M405.5 233.7h0M491.2 198.7h0" stroke="#5b6698" stroke-width="1.75"/>
<path d="M402.1 163.2h0M458.9 159.4h0M423.9 245.0h0M452.3 250.2h0M390.3 237.5h0M430.6 231.3h0M459.8 249.2h0M400.3 176.2h0M480.0 164.2h0M416.0 195.7h0M388.6 192.3h0M483.9 207.0h0M406.1 169.4h0M418.4 205.7h0M483.5 183.7h0M478.7 233.8h0M446.3 204.8h0M415.2 201.1h0M481.7 214.6h0M488.8 184.5h0M454.0 229.0h0M456.0 155.2h0M396.9 190.2h0M427.9 210.3h0M423.1 248.3h0M446.0 234.7h0M464.8 224.5h0M461.1 171.9h0M408.4 187.2h0M391.8 212.2h0M464.0 155.5h0M441.2 205.5h0M397.1 155.4h0M422.2 165.2h0M418.8 216.0h0M470.9 228.8h0M434.1 174.8h0" stroke="#5b6698" stroke-width="1.98"/>
<path d="M432.6 161.2h0M435.9 199.9h0M394.3 184.7h0M429.0 243.2h0M381.3 180.5h0M423.2 168.1h0M381.0 168.3h0M469.8 189.5h0M437.5 175.5h0M482.0 160.7h0M425.3 172.7h0M381.1 211.3h0M455.6 218.3h0M472.7 237.7h0M485.5 223.9h0M480.1 227.9h0M417.5 199.1h0M391.5 155.9h0M445.3 216.8h0M427.4 188.1h0M450.8 248.0h0M417.5 170.0h0M391.0 182.3h0M441.6 178.6h0M395.8 162.1h0M421.6 232.9h0M486.9 253.1h0M453.0 166.6h0M418.9 157.9h0M484.8 244.2h0M416.9 193.0h0M380.2 203.9h0M439.7 193.3h0M391.4 172.5h0" stroke="#6a76a8" stroke-width="1.52"/>
<path d="M390.1 189.3h0M423.5 214.7h0M425.9 250.0h0M423.4 204.9h0M411.4 179.0h0M425.3 217.6h0M397.3 180.2h0M403.9 172.5h0M435.4 162.3h0M478.3 166.9h0M419.3 228.2h0M461.4 186.7h0M426.2 182.6h0M448.1 206.7h0M427.6 252.2h0M400.4 166.8h0M451.8 224.7h0M447.0 170.9h0M474.9 163.3h0M480.6 246.1h0M380.2 207.0h0M382.9 165.5h0M474.0 223.0h0M449.8 176.0h0M425.3 170.1h0M423.7 176.2h0M449.0 220.8h0M432.0 233.6h0M402.3 191.1h0M409.4 182.7h0M431.0 250.8h0M435.5 181.8h0M440.2 165.7h0M397.8 170.8h0M470.0 202.4h0M422.8 171.3h0" stroke="#6a76a8" stroke-width="1.75"/>
<path d="M408.9 197.0h0M458.6 253.3h0M429.7 155.5h0M453.7 163.8h0M416.5 175.3h0M467.1 189.0h0M415.4 207.1h0M467.3 211.5h0M449.2 202.7h0M471.1 167.0h0M440.8 200.1h0M397.6 248.3h0M481.0 172.9h0M380.3 175.7h0M390.9 185.3h0M468.4 248.0h0M402.8 178.6h0M433.3 252.8h0M468.2 194.7h0M391.8 169.8h0M479.5 220.0h0M468.8 208.4h0M395.9 233.5h0M397.0 167.0h0M467.5 228.3h0M450.1 227.0h0M489.6 176.5h0M380.1 226.9h0M413.4 165.0h0M428.5 237.3h0M396.7 176.3h0M478.2 171.8h0M419.4 223.7h0M424.9 237.2h0M453.7 242.1h0M467.2 214.9h0M457.3 248.1h0M462.7 166.9h0M429.4 199.4h0M415.9 204.2h0M412.4 183.7h0M426.0 155.7h0M389.1 157.4h0M415.9 172.1h0M482.1 166.5h0M493.6 224.1h0M425.9 185.6h0M477.8 247.0h0M437.5 197.5h0M422.9 200.6h0M464.6 190.6h0M468.0 166.2h0" stroke="#6a76a8" stroke-width="1.98"/>
<path d="M439.9 168.3h0M491.8 178.5h0M394.6 170.7h0M438.5 183.5h0M412.3 170.2h0M452.8 234.4h0M436.3 172.5h0M487.0 245.7h0M460.6 211.8h0M386.8 188.5h0M454.0 236.7h0M481.2 157.7h0M422.8 184.4h0M471.2 216.5h0M384.6 173.8h0M395.8 173.1h0M429.5 218.6h0M465.4 165.9h0M464.2 180.1h0M417.4 209.1h0M447.5 225.1h0M403.4 188.8h0M425.6 212.3h0M470.4 192.9h0M383.1 184.9h0M449.9 216.1h0" stroke="#7884b4" stroke-width="1.52"/>
<path d="M475.1 218.0h0M452.1 231.8h0M420.6 202.2h0M464.8 170.0h0M460.4 214.5h0M481.4 181.4h0M394.6 181.7h0M427.2 239.5h0M445.8 155.7h0M468.8 231.7h0M413.5 173.5h0M389.1 168.9h0M413.4 176.6h0M456.9 236.9h0M394.0 195.3h0M403.3 175.6h0M422.6 220.2h0M400.1 155.2h0M440.3 181.6h0M467.9 192.0h0" stroke="#7884b4" stroke-width="1.75"/>
<path d="M420.9 213.9h0M380.2 170.9h0M469.6 225.9h0M423.6 187.7h0M431.2 236.8h0M466.4 174.1h0M481.3 248.9h0M410.4 164.0h0M407.4 180.9h0M465.2 177.5h0M425.1 232.4h0M443.3 194.3h0M472.1 232.6h0M435.0 166.6h0M416.7 163.3h0M383.2 228.0h0M451.3 218.8h0M474.9 231.1h0M402.8 181.4h0M414.9 190.5h0M387.1 176.9h0M424.0 190.9h0M401.7 158.3h0M431.5 157.5h0M480.2 189.6h0M486.9 182.5h0M477.6 162.6h0M405.9 156.7h0" stroke="#7884b4" stroke-width="1.98"/>
</g>
</g></g>
<rect x="386.09999999999997" y="245.79999999999998" width="9.0" height="1.6" fill="#111"/>
<rect x="487.5" y="248.2" width="3.0" height="0.9" fill="#555"/>
<clipPath id="cp3"><rect x="380.9" y="275.8" width="111.8" height="96.2"/></clipPath>
<filter id="bl3" color-interpolation-filters="sRGB"><feGaussianBlur stdDeviation="0.6"/></filter>
<g clip-path="url(#cp3)"><g filter="url(#bl3)">
<rect x="378.9" y="273.8" width="115.8" height="100.2" fill="#d8d7dd"/>
<ellipse cx="423.9" cy="317.8" rx="9" ry="8" fill="#dfcdb5" opacity="0.85" filter="url(#blur2)"/>
<ellipse cx="406.9" cy="331.8" rx="8" ry="9" fill="#dfcdb5" opacity="0.8" filter="url(#blur2)"/>
<ellipse cx="462.9" cy="303.8" rx="8" ry="7" fill="#dfcdb5" opacity="0.7" filter="url(#blur2)"/>
<ellipse cx="458.9" cy="357.8" rx="9" ry="7" fill="#dfcdb5" opacity="0.7" filter="url(#blur2)"/>
<ellipse cx="384.9" cy="292.8" rx="6" ry="6" fill="#dfcdb5" opacity="0.6" filter="url(#blur2)"/>
<ellipse cx="434.9" cy="279.8" rx="8" ry="5" fill="#eeeef0" opacity="0.8" filter="url(#blur2)"/>
<ellipse cx="480.9" cy="335.8" rx="7" ry="6" fill="#dfcdb5" opacity="0.5" filter="url(#blur2)"/>
<g opacity="0.8" fill="none" stroke-linecap="round">
<path d="M428.2 356.0h0M382.8 360.7h0M476.5 372.3h0M472.2 371.5h0M462.4 291.5h0M429.3 360.4h0M443.8 349.4h0M402.2 306.1h0M386.1 287.5h0M462.9 295.0h0M386.8 301.2h0M439.6 332.0h0M414.9 276.9h0M455.8 365.7h0M401.0 366.7h0M488.9 335.4h0M390.9 323.8h0M465.0 358.0h0M425.0 372.3h0M490.6 332.1h0M424.9 328.8h0M402.4 287.2h0M401.9 371.2h0M450.9 321.4h0M402.6 334.5h0M460.9 300.9h0M464.6 367.6h0M380.0 294.6h0M482.0 278.1h0M487.4 351.9h0M400.5 343.6h0M449.6 344.3h0M439.1 317.4h0M469.5 358.2h0M420.6 333.2h0M481.7 342.5h0M482.8 291.0h0M424.5 291.6h0M447.0 279.1h0M464.5 312.0h0M413.8 312.4h0M401.0 360.4h0M492.7 342.4h0M447.0 290.7h0M493.0 336.0h0M486.2 354.8h0M454.2 285.3h0M491.5 362.4h0M479.6 280.7h0M428.4 316.2h0M477.9 349.4h0M412.1 353.8h0M435.8 319.3h0M397.5 370.9h0M380.7 326.5h0M442.3 363.9h0M391.6 274.9h0M383.4 354.1h0M404.5 357.1h0M438.5 314.1h0M493.7 369.3h0M452.3 287.8h0M442.8 283.9h0M484.0 325.8h0M477.5 338.4h0" stroke="#8a9ecf" stroke-width="3.13"/>
<path d="M386.7 295.0h0M420.7 361.6h0M380.4 315.9h0M456.9 280.1h0M488.6 310.6h0M465.3 321.7h0M427.8 364.9h0M380.3 353.3h0M434.3 367.3h0M393.7 318.2h0M455.0 288.8h0M480.4 369.8h0M388.1 366.9h0M415.1 309.8h0M380.5 300.7h0M463.7 299.6h0M406.2 363.0h0M418.8 283.7h0M481.8 321.3h0M485.9 307.1h0M422.1 324.3h0M428.3 339.5h0M396.0 334.1h0M422.7 299.7h0M385.6 304.3h0M462.9 283.1h0M421.7 290.9h0M459.9 284.9h0M396.7 331.1h0M381.1 279.5h0M409.6 328.5h0M450.4 303.5h0M402.0 347.1h0M396.1 320.0h0M485.7 321.3h0M429.7 275.2h0M440.3 340.3h0M446.1 322.6h0M435.2 288.5h0M466.9 360.6h0M431.3 279.9h0M443.1 333.3h0M483.9 347.8h0M387.1 316.7h0M468.7 348.9h0M460.9 289.0h0M419.0 330.0h0M391.2 326.8h0M396.9 348.3h0M399.9 363.5h0M447.5 286.0h0M419.0 322.9h0" stroke="#8a9ecf" stroke-width="3.60"/>
<path d="M451.3 367.9h0M459.0 333.2h0M386.6 350.2h0M389.1 318.9h0M391.4 310.5h0M432.9 322.3h0M440.0 289.2h0M394.8 364.2h0M443.6 367.4h0M401.5 321.4h0M426.0 308.9h0M412.0 298.6h0M384.9 356.8h0M395.0 310.2h0M443.5 336.4h0M491.2 366.7h0M431.0 301.2h0M483.0 372.7h0M405.7 278.1h0M490.3 305.4h0M383.8 329.1h0M485.8 311.4h0M447.7 335.7h0M454.1 294.8h0M470.4 328.6h0M437.1 365.1h0M418.1 348.4h0M415.5 336.5h0M466.7 284.8h0M469.5 290.1h0M443.3 360.3h0M483.4 281.1h0M491.3 276.4h0M416.4 344.6h0M443.2 323.1h0M456.9 326.4h0M451.6 334.0h0M407.5 313.1h0M403.8 364.6h0M484.5 338.1h0M458.2 290.9h0M380.6 331.7h0M464.1 324.8h0M442.6 314.7h0M388.5 336.1h0M457.7 329.5h0M486.9 347.7h0M409.2 319.4h0M419.7 327.0h0M460.5 355.2h0M450.5 281.2h0M468.0 345.9h0M485.2 361.9h0M454.1 359.9h0M405.2 339.4h0M389.8 302.9h0M431.5 367.9h0M417.3 275.3h0M391.2 320.9h0M457.7 368.0h0M404.3 328.4h0" stroke="#8a9ecf" stroke-width="4.07"/>
<path d="M440.9 310.7h0M473.4 302.7h0M473.1 359.6h0M488.4 342.6h0M418.6 280.0h0M418.9 300.8h0M478.1 343.2h0M425.6 367.8h0M491.5 339.3h0M408.6 303.6h0M420.2 319.8h0M438.6 308.1h0M473.1 317.2h0M436.2 356.8h0M458.2 371.3h0M490.6 328.5h0M465.3 339.4h0M456.8 303.4h0M403.9 331.9h0M493.6 332.7h0M420.9 316.8h0M487.0 328.7h0M401.8 283.7h0M465.2 315.3h0M425.4 318.6h0M424.1 296.8h0M488.8 368.5h0M417.0 371.1h0M466.8 351.4h0M466.0 290.4h0M391.8 372.3h0M385.4 362.1h0M405.6 285.1h0M429.7 346.0h0M392.0 366.0h0M459.2 347.2h0M476.8 335.5h0M490.9 346.4h0M435.6 370.5h0M441.5 345.2h0M403.8 342.0h0M435.8 323.7h0M452.4 337.3h0M484.8 334.6h0M380.4 341.9h0M429.5 371.2h0M397.7 303.3h0M380.3 304.7h0M431.1 312.7h0M411.9 283.6h0M471.0 278.3h0M401.3 327.5h0M484.9 295.6h0M393.6 322.7h0M458.9 306.7h0M406.6 336.6h0M439.7 323.6h0M492.4 293.4h0M383.1 324.4h0M442.2 305.6h0M404.1 275.0h0M469.9 352.2h0M473.9 335.6h0M435.9 282.8h0M411.8 275.3h0M461.9 363.9h0M493.2 314.7h0M432.2 361.4h0M473.0 275.0h0M454.9 344.5h0M454.3 368.7h0M491.6 349.2h0M450.9 277.3h0M380.8 345.4h0M446.8 310.0h0M456.6 350.5h0M455.9 335.7h0M461.8 306.5h0M443.1 326.0h0M460.5 326.6h0M441.9 357.6h0M470.7 336.2h0M491.4 359.5h0M413.7 289.3h0M445.9 353.0h0" stroke="#98acd6" stroke-width="3.13"/>
<path d="M387.8 283.7h0M445.6 313.8h0M415.6 332.3h0M407.7 331.2h0M479.5 305.6h0M445.9 319.6h0M386.8 343.7h0M400.0 297.6h0M446.9 300.6h0M421.3 286.9h0M441.7 277.5h0M473.0 347.5h0M405.0 297.1h0M389.5 339.7h0M394.4 289.6h0M394.8 276.2h0M417.0 325.7h0M404.9 368.3h0M492.5 356.5h0M439.9 298.2h0M408.4 276.3h0M387.9 347.6h0M402.8 324.4h0M391.8 356.9h0M438.7 320.4h0M422.4 368.7h0M479.2 276.9h0M383.6 344.5h0M396.6 313.4h0M415.9 301.9h0M449.0 307.0h0M468.9 282.6h0M475.6 364.6h0M454.2 277.0h0M464.8 306.9h0M424.1 278.1h0M486.9 325.8h0M427.8 343.4h0M442.3 287.1h0M400.5 278.4h0M447.3 366.9h0M426.8 284.8h0M472.9 282.6h0M480.6 326.0h0M493.4 311.5h0M489.8 372.2h0M447.2 349.2h0M421.4 372.1h0M471.7 308.3h0M444.9 288.4h0M412.3 371.8h0M449.0 312.1h0M415.1 360.8h0M482.3 332.5h0M459.0 313.5h0M460.4 340.6h0M473.8 306.2h0M443.1 292.7h0M441.8 328.7h0M453.4 328.7h0M460.7 367.6h0M426.3 334.8h0M463.4 287.5h0M404.3 308.2h0M392.5 348.1h0M434.9 307.9h0M449.9 330.1h0M434.9 335.3h0M422.6 274.8h0M433.2 315.2h0M417.7 313.6h0M466.6 342.9h0M477.3 315.4h0M423.3 344.7h0M457.6 300.5h0M411.1 360.7h0M431.4 351.2h0M483.7 298.9h0M476.3 275.2h0M472.4 321.7h0M385.2 365.9h0M480.0 372.8h0M434.3 349.2h0M436.6 332.0h0" stroke="#98acd6" stroke-width="3.60"/>
<path d="M439.7 360.7h0M491.4 286.4h0M466.9 331.1h0M382.5 320.1h0M424.4 360.4h0M438.6 335.4h0M379.9 289.7h0M398.9 350.6h0M417.7 353.4h0M439.8 366.5h0M430.0 292.8h0M462.4 329.4h0M467.8 324.7h0M459.5 360.9h0M425.2 322.6h0M398.3 317.2h0M444.8 343.6h0M380.0 312.3h0M481.4 336.4h0M435.6 275.1h0M436.1 312.4h0M467.2 335.4h0M427.0 326.3h0M448.3 275.8h0M405.1 349.5h0M487.2 277.2h0M380.6 363.3h0M470.7 300.8h0M450.0 317.2h0M446.9 294.9h0M453.4 318.4h0M478.0 283.7h0M435.8 353.0h0M459.5 323.7h0M459.2 352.1h0M454.5 299.4h0M472.1 331.3h0M478.5 322.6h0M434.2 302.9h0M409.2 294.6h0M393.6 345.0h0M468.3 308.0h0M488.1 303.0h0M397.5 307.9h0M464.0 347.8h0M475.7 332.4h0M461.3 309.5h0M425.8 281.2h0M479.2 286.9h0M388.1 275.9h0M446.0 371.8h0M433.8 345.7h0M456.2 347.5h0M380.6 371.9h0M383.4 313.4h0M406.3 294.2h0M393.6 341.9h0M467.7 278.9h0M398.5 336.9h0M429.8 286.2h0M393.4 281.5h0M477.5 310.9h0M412.9 303.2h0M475.1 340.5h0M482.6 275.2h0M452.5 308.4h0M431.4 365.0h0M486.8 365.4h0M412.2 331.6h0M469.6 333.3h0M465.9 281.4h0M397.9 366.2h0M472.7 366.4h0M396.2 283.3h0M412.2 334.5h0M423.7 333.3h0" stroke="#98acd6" stroke-width="4.07"/>
<path d="M416.8 289.6h0M491.0 279.4h0M482.3 351.4h0M474.2 290.7h0M483.7 318.3h0M469.1 362.9h0M466.3 303.3h0M446.5 326.8h0M395.8 326.2h0M433.0 286.4h0M481.6 294.4h0M380.3 323.1h0M411.2 279.5h0M411.7 309.3h0M385.5 321.3h0M401.9 310.6h0M383.9 280.9h0M409.5 351.2h0M425.9 357.9h0M485.6 358.7h0M406.5 288.5h0M457.0 276.0h0M416.1 363.5h0M420.0 341.1h0M446.1 283.4h0M493.3 308.5h0M440.2 354.9h0M438.2 285.7h0M413.7 281.3h0M392.5 353.4h0M413.5 295.5h0M419.1 367.5h0M488.3 362.3h0M411.1 357.8h0M459.5 281.9h0M382.3 297.5h0M390.1 295.7h0M461.4 372.0h0M383.9 332.8h0M483.5 328.9h0M445.3 329.8h0M428.1 305.1h0M456.1 323.5h0M459.5 320.4h0M470.5 292.9h0M451.6 347.3h0M488.1 338.3h0M428.9 352.8h0M493.4 327.2h0M439.8 348.0h0M471.5 312.8h0M394.5 302.1h0M456.8 297.4h0M432.6 371.4h0M398.1 310.8h0M398.4 328.2h0M399.6 313.6h0" stroke="#a9b8dc" stroke-width="3.13"/>
<path d="M452.6 311.4h0M421.9 330.4h0M420.4 277.6h0M488.8 318.7h0M454.2 353.3h0M487.1 300.3h0M397.5 345.1h0M463.4 354.6h0M444.5 276.0h0M485.3 344.8h0M396.0 279.9h0M422.3 365.1h0M445.7 306.8h0M414.9 368.4h0M432.4 290.8h0M434.8 280.0h0M430.7 317.8h0M384.1 292.7h0M383.7 289.5h0M392.6 278.2h0M452.1 355.8h0M489.6 324.3h0M451.6 299.4h0M404.8 353.5h0M432.9 295.1h0M391.9 306.6h0M450.0 358.3h0M481.0 316.1h0M416.4 339.9h0M398.3 294.3h0M411.0 323.9h0M399.1 281.3h0M389.0 292.4h0M443.1 339.4h0M492.5 297.2h0M410.0 364.0h0M431.4 283.4h0M420.1 311.6h0M390.4 345.3h0M431.6 354.3h0M424.5 348.2h0M405.7 360.0h0M407.3 366.2h0M454.9 332.4h0M450.6 296.0h0M450.3 285.1h0M476.6 346.3h0M471.0 285.9h0M427.3 278.1h0M453.4 324.4h0M479.9 340.1h0M437.0 350.3h0M414.2 328.3h0M415.5 287.0h0M474.8 328.1h0M411.7 291.8h0M414.2 322.7h0M446.6 333.0h0M423.4 311.0h0M415.2 283.9h0M442.8 371.9h0M400.6 303.5h0M436.3 337.9h0M426.4 275.2h0M399.5 325.2h0M404.7 281.3h0M439.7 294.4h0M438.9 281.8h0" stroke="#a9b8dc" stroke-width="3.60"/>
<path d="M454.0 281.9h0M415.0 354.9h0M442.2 281.0h0M457.3 316.8h0M382.5 368.2h0M440.0 370.9h0M405.7 325.6h0M450.9 363.2h0M475.5 321.9h0M490.5 313.7h0M431.4 327.2h0M443.0 318.1h0M469.6 370.2h0M390.1 280.4h0M431.5 308.1h0M486.3 285.2h0M418.9 356.5h0M460.3 337.3h0M390.1 314.0h0M464.1 370.6h0M473.2 324.8h0M453.4 304.6h0M427.7 300.1h0M386.7 313.4h0M464.8 277.9h0M399.2 275.1h0M471.9 339.0h0M478.5 318.9h0M427.7 332.0h0M438.0 278.8h0M479.2 329.3h0M380.6 357.7h0M476.4 354.5h0M416.2 316.4h0M419.6 306.9h0M491.9 352.9h0M468.5 313.0h0M455.6 357.3h0M408.4 355.0h0M451.5 292.6h0M421.9 356.4h0M473.2 344.1h0M432.6 276.1h0M480.4 346.6h0M486.9 315.3h0M448.6 355.7h0M431.6 341.8h0M483.0 312.4h0M402.2 350.0h0M423.8 283.9h0M404.1 319.2h0M406.3 344.0h0M463.1 335.3h0M467.5 327.7h0M468.5 338.4h0M437.1 346.5h0M463.4 332.3h0M486.9 332.4h0M384.2 347.9h0M493.3 372.5h0M467.4 355.9h0M421.3 282.2h0" stroke="#a9b8dc" stroke-width="4.07"/>
</g>
<g opacity="0.78" fill="none" stroke-linecap="round">
<path d="M468.5 348.7h0M436.0 289.5h0M437.9 294.4h0M437.5 349.0h0M388.5 308.2h0M393.2 291.1h0M453.1 327.3h0M406.7 372.9h0M463.1 329.9h0M386.2 313.2h0M388.5 283.1h0M410.8 372.7h0M491.5 324.1h0M397.4 348.2h0M472.8 288.4h0M405.7 315.5h0M383.0 370.3h0M421.4 302.5h0M423.8 368.4h0M417.5 343.3h0" stroke="#5a6694" stroke-width="1.57"/>
<path d="M466.3 311.7h0M437.1 304.5h0M417.5 303.1h0M485.9 341.9h0M405.5 360.9h0M409.2 276.7h0M460.2 312.3h0M437.9 352.9h0M445.3 297.0h0M388.3 305.3h0M439.2 277.4h0M446.0 356.3h0M482.8 338.4h0M416.0 365.9h0M481.9 343.1h0M456.5 322.7h0M410.5 344.5h0" stroke="#5a6694" stroke-width="1.84"/>
<path d="M419.0 365.1h0M435.7 312.9h0M414.0 317.7h0M401.7 363.4h0M487.3 350.3h0M457.0 303.8h0M488.4 289.9h0M380.9 284.5h0M429.3 286.6h0M426.5 307.2h0M443.4 292.4h0M395.5 330.3h0M421.1 344.1h0M475.4 339.7h0M423.2 280.8h0M439.5 318.9h0M388.6 289.7h0M468.4 309.3h0M484.4 275.4h0M474.3 319.7h0M450.2 283.8h0M451.1 295.6h0M423.0 324.2h0M421.1 278.5h0" stroke="#5a6694" stroke-width="2.11"/>
<path d="M493.5 329.5h0M462.4 368.1h0M427.4 327.7h0M422.8 362.1h0M486.0 336.3h0M399.8 313.0h0M405.4 342.2h0M401.3 343.7h0M449.9 364.0h0M432.9 309.3h0M416.0 331.2h0M408.5 339.4h0M451.2 299.6h0M386.8 366.9h0M403.3 371.3h0M448.3 326.3h0M409.5 364.2h0M461.7 279.7h0M491.4 276.3h0M452.5 313.7h0M485.8 313.5h0M425.9 335.5h0M479.6 316.8h0M402.8 312.2h0M400.8 330.5h0M410.6 289.0h0M455.5 330.0h0M493.0 366.7h0M393.4 310.7h0M380.1 339.8h0M403.1 351.5h0M424.8 309.8h0M448.6 372.9h0M396.7 357.0h0M453.1 286.6h0M429.8 337.0h0M435.3 284.9h0M485.8 347.8h0M456.8 285.1h0M489.8 304.2h0M388.2 300.8h0M397.0 275.2h0M463.8 320.5h0M488.9 342.2h0M458.8 334.9h0M474.8 343.4h0M417.6 324.5h0M438.1 333.1h0M463.5 312.9h0M454.9 296.6h0M454.7 300.5h0M486.2 363.9h0M463.3 353.9h0M428.8 320.9h0M404.0 333.6h0M392.8 368.4h0M491.7 364.1h0M475.2 313.0h0M481.7 369.4h0M467.5 314.6h0M429.6 280.3h0M447.3 368.1h0M455.9 275.5h0M392.9 326.8h0M471.7 354.8h0M433.1 314.4h0M475.9 278.7h0M423.8 359.0h0" stroke="#66729e" stroke-width="1.57"/>
<path d="M462.3 332.8h0M471.5 351.9h0M473.5 329.0h0M430.1 304.9h0M469.4 277.9h0M445.2 325.3h0M452.8 317.7h0M432.7 333.4h0M457.1 337.9h0M411.4 332.5h0M444.1 334.1h0M480.9 364.1h0M412.7 350.5h0M398.5 295.2h0M400.1 354.2h0M466.2 340.3h0M461.0 275.0h0M463.7 305.7h0M411.8 347.6h0M397.7 290.4h0M402.7 278.9h0M389.9 295.0h0M470.6 294.3h0M440.6 341.5h0M469.1 303.3h0M380.9 289.1h0M477.7 320.1h0M407.2 336.8h0M406.4 353.6h0M401.0 283.9h0M407.4 322.8h0M432.3 349.8h0M489.1 307.5h0M385.9 294.1h0M386.6 348.2h0M425.3 331.4h0M491.8 343.1h0M429.9 332.9h0M418.6 295.1h0M429.5 354.5h0M420.8 358.8h0M413.1 293.0h0M394.2 346.6h0M491.7 348.0h0M400.1 309.4h0M458.6 340.9h0M403.7 354.7h0M457.2 306.9h0M386.3 323.1h0M382.7 297.4h0M476.7 327.4h0M395.0 340.1h0M436.8 362.1h0M455.0 354.4h0M455.7 334.0h0M485.3 326.6h0M483.0 322.8h0M435.3 322.1h0M412.4 353.5h0M424.9 292.8h0M398.0 369.7h0M438.0 343.2h0M459.3 370.6h0" stroke="#66729e" stroke-width="1.84"/>
<path d="M479.4 279.6h0M473.0 337.6h0M486.2 302.2h0M480.5 372.7h0M429.5 318.1h0M479.3 367.4h0M418.1 346.2h0M467.8 363.5h0M480.4 352.1h0M474.9 316.4h0M432.4 346.6h0M463.8 326.9h0M397.7 320.2h0M394.6 371.4h0M462.6 342.3h0M393.9 282.4h0M472.9 368.9h0M471.1 314.8h0M398.0 366.5h0M440.0 361.7h0M448.0 281.8h0M462.6 286.3h0M448.4 316.6h0M458.1 281.5h0M492.7 311.9h0M492.8 295.5h0M468.4 371.7h0M443.8 367.3h0M385.5 277.3h0M477.9 370.9h0M412.0 357.3h0M463.8 310.0h0M485.8 306.2h0M447.8 289.5h0M431.9 321.9h0M398.3 362.8h0M431.0 341.0h0M380.2 281.5h0M408.7 316.5h0M469.1 338.5h0M408.4 359.5h0M471.5 325.5h0M446.7 341.2h0M379.9 316.6h0M468.5 300.2h0M452.9 342.2h0M380.4 313.0h0M476.3 347.7h0M445.4 352.4h0M380.5 353.4h0M409.5 355.2h0M450.4 311.4h0M423.8 277.4h0M464.8 369.8h0M398.2 336.6h0M471.7 317.9h0M451.5 289.3h0M409.7 280.5h0M451.3 324.5h0M435.2 345.5h0M481.0 275.5h0" stroke="#66729e" stroke-width="2.11"/>
<path d="M441.6 295.1h0M479.1 339.4h0M492.6 334.7h0M425.8 295.9h0M463.3 291.8h0M380.6 331.0h0M427.2 282.1h0M466.2 355.5h0M390.5 279.8h0M413.9 322.8h0M487.6 355.0h0M464.7 337.0h0M408.4 342.3h0M436.0 329.7h0M454.4 292.0h0M462.5 316.5h0M440.3 328.7h0M433.5 278.2h0M459.8 287.8h0M417.8 279.8h0M405.4 297.4h0M398.7 278.8h0M470.3 361.2h0M469.1 334.8h0M451.6 275.5h0M488.9 331.8h0M380.3 299.1h0M415.6 361.2h0M404.3 293.1h0M456.4 310.7h0M435.9 301.8h0M389.7 348.3h0M426.6 348.3h0M383.9 300.4h0M381.2 302.3h0M453.3 372.5h0M488.9 300.8h0M411.6 319.9h0M442.9 345.1h0M465.9 290.3h0M399.4 372.7h0M422.9 353.5h0M471.1 331.8h0M487.4 370.0h0M466.8 351.5h0M392.0 285.0h0M474.5 372.7h0M406.0 280.4h0M411.8 337.0h0M430.8 329.1h0M476.9 352.0h0M482.3 302.2h0M416.7 320.5h0M428.9 350.6h0M480.4 304.4h0M445.6 315.6h0M462.7 339.2h0M404.3 345.1h0M493.3 372.9h0M424.7 283.9h0M427.6 315.3h0M481.9 361.1h0M414.7 280.1h0" stroke="#7480aa" stroke-width="1.57"/>
<path d="M475.2 322.8h0M439.4 325.8h0M439.3 357.3h0M392.9 337.4h0M392.5 275.1h0M476.9 290.4h0M410.5 369.0h0M469.0 289.7h0M409.3 334.6h0M442.7 323.8h0M456.6 317.5h0M403.9 338.4h0M453.4 322.3h0M418.6 284.0h0M396.2 284.6h0M412.6 282.0h0M488.2 339.0h0M490.6 293.4h0M391.8 306.3h0M414.1 368.5h0M396.4 308.7h0M387.8 359.5h0M443.2 340.1h0M448.3 350.7h0M439.8 290.3h0M474.5 274.9h0M383.3 275.0h0M383.3 312.2h0M390.1 319.1h0M460.3 306.9h0M415.1 326.3h0M446.6 331.0h0M461.4 283.1h0M483.4 331.2h0M402.0 368.3h0M456.7 346.2h0M484.3 288.3h0M390.7 324.3h0M491.8 338.3h0M446.3 311.8h0M479.1 300.8h0M447.0 320.4h0M462.5 371.7h0M469.6 341.8h0M450.3 330.8h0M470.5 311.9h0M450.4 279.0h0M403.9 328.8h0M422.0 285.5h0M416.2 275.7h0M448.2 298.1h0M434.1 305.7h0M404.5 365.3h0M449.8 358.1h0M463.5 350.0h0M483.5 334.5h0M415.6 296.2h0M406.3 326.7h0M443.9 328.4h0M455.9 287.9h0M465.9 334.0h0M409.3 299.5h0M412.3 329.4h0M401.0 275.6h0M387.8 286.4h0M488.9 372.9h0" stroke="#7480aa" stroke-width="1.84"/>
<path d="M423.9 313.1h0M441.8 316.9h0M460.2 364.3h0M440.9 367.5h0M460.1 301.7h0M409.6 283.6h0M459.5 331.3h0M460.2 354.8h0M468.9 329.6h0M408.8 347.5h0M404.0 302.0h0M453.9 283.8h0M479.9 324.7h0M423.7 321.0h0M438.2 322.8h0M423.2 333.6h0M454.1 277.8h0M427.3 276.8h0M381.5 305.2h0M388.3 331.6h0M452.5 360.8h0M480.3 345.5h0M420.2 291.7h0M397.6 328.1h0M474.5 309.9h0M485.0 360.6h0M446.5 347.1h0M465.5 359.9h0M469.3 282.1h0M487.6 279.2h0M422.2 327.4h0M473.4 348.5h0M474.9 285.8h0M461.2 299.0h0M379.9 319.7h0M493.6 306.3h0M380.6 278.1h0M418.1 299.0h0M414.6 311.5h0M389.2 364.0h0M435.5 369.9h0M482.1 327.7h0M402.6 360.3h0M396.9 314.4h0M451.9 333.9h0M489.8 321.7h0M383.3 291.0h0M439.2 338.8h0M435.5 275.2h0M394.3 279.2h0M418.6 373.0h0M478.7 342.7h0M481.7 281.5h0M392.2 329.7h0M420.2 351.6h0M404.5 318.4h0M441.7 287.2h0M388.0 351.1h0M489.6 311.3h0M399.1 350.6h0M467.5 284.4h0" stroke="#7480aa" stroke-width="2.11"/>
<path d="M453.6 336.7h0M491.9 308.8h0M484.1 353.1h0M480.7 332.3h0M480.7 288.5h0M420.7 355.7h0M458.5 290.6h0M425.6 356.6h0M439.3 346.7h0M457.7 277.8h0M480.7 335.5h0M473.0 363.0h0M440.6 306.5h0M392.5 362.9h0M409.0 350.6h0M466.2 317.5h0M399.8 333.4h0M492.4 317.3h0M492.2 360.2h0M435.0 342.1h0M428.5 357.4h0M491.6 281.9h0M395.6 325.5h0M458.7 320.7h0M444.5 289.7h0M430.3 344.2h0M432.6 317.7h0M484.5 366.5h0M478.6 361.1h0M407.5 369.0h0M415.6 285.3h0M475.0 360.4h0M488.8 345.2h0M438.5 287.1h0M447.2 360.1h0M447.3 306.5h0M466.4 276.4h0M477.8 356.9h0M381.1 357.5h0M388.7 311.1h0M466.7 305.0h0M480.8 284.6h0M438.5 281.1h0M393.1 322.6h0M390.8 345.2h0M423.8 350.5h0M438.7 309.6h0M472.2 282.4h0M438.2 315.7h0M382.1 349.1h0M489.7 334.9h0M485.9 332.6h0M485.9 329.5h0M463.1 323.5h0" stroke="#8490b6" stroke-width="1.57"/>
<path d="M423.6 365.3h0M441.1 332.5h0M467.9 326.6h0M462.2 358.3h0M436.0 325.7h0M492.3 300.3h0M436.0 307.9h0M416.4 353.6h0M444.3 285.3h0M457.5 372.8h0M410.2 312.9h0M454.1 304.5h0M457.6 326.1h0M380.9 293.9h0M439.8 312.7h0M387.0 316.2h0M404.1 321.9h0M490.8 351.1h0M385.6 288.8h0M395.3 343.4h0M431.2 372.8h0M445.5 336.7h0M436.1 338.8h0M392.2 313.8h0M424.1 316.9h0M412.5 308.8h0M388.0 275.2h0M406.4 356.6h0M414.3 335.3h0M421.6 337.4h0M381.5 337.1h0M483.4 345.9h0M432.4 283.3h0M485.4 320.1h0M487.1 358.6h0M383.9 346.2h0M430.6 275.0h0M475.1 294.5h0M481.9 349.0h0M487.9 275.4h0M420.5 330.8h0M459.3 315.8h0M435.2 281.4h0M438.3 366.1h0M386.4 280.7h0M452.0 281.5h0M429.5 347.5h0" stroke="#8490b6" stroke-width="1.84"/>
<path d="M417.5 317.7h0M406.1 330.8h0M402.7 325.7h0M443.5 362.0h0M479.3 307.3h0M384.0 316.0h0M410.1 327.4h0M443.5 279.9h0M436.1 318.9h0M395.1 317.6h0M477.9 275.2h0M427.4 291.2h0M384.2 319.8h0M449.4 354.5h0M493.0 354.8h0M441.0 282.7h0M473.1 357.9h0M411.1 286.1h0M475.3 281.6h0M421.6 275.1h0M472.5 278.1h0M419.6 320.6h0M421.1 347.7h0M395.5 351.7h0M431.4 364.2h0M451.0 320.6h0M419.0 311.6h0M400.3 305.3h0M412.8 314.9h0M418.8 328.4h0M426.5 324.6h0M420.2 316.0h0M465.8 343.8h0M417.0 357.2h0M433.7 327.4h0M460.4 337.4h0M471.9 291.7h0M442.7 350.5h0M442.3 337.2h0M474.5 334.9h0M443.1 319.7h0M456.3 370.0h0M486.7 282.2h0M409.4 330.3h0M493.6 345.7h0M447.9 323.2h0M493.6 278.1h0M449.7 286.9h0M419.3 361.5h0M453.8 363.4h0M435.1 351.5h0M415.9 315.1h0M412.5 275.5h0" stroke="#8490b6" stroke-width="2.11"/>
</g>
<ellipse cx="423.9" cy="317.8" rx="6" ry="5" fill="#d8c4a8" opacity="0.35" filter="url(#blur1)"/>
<ellipse cx="406.9" cy="331.8" rx="5" ry="6" fill="#d8c4a8" opacity="0.35" filter="url(#blur1)"/>
<ellipse cx="462.9" cy="303.8" rx="5" ry="4" fill="#d8c4a8" opacity="0.3" filter="url(#blur1)"/>
</g></g>
<rect x="386.09999999999997" y="365.4" width="9.0" height="1.6" fill="#111"/>
<rect x="487.5" y="367.8" width="3.0" height="0.9" fill="#555"/>
<circle cx="402.4" cy="311.3" r="5.8" fill="none" stroke="#6680c4" stroke-width="3.0" opacity="0.55" filter="url(#blur05)"/>
<circle cx="402.4" cy="311.3" r="3.4" fill="#cfd6e4" opacity="0.55" filter="url(#blur05)"/>
<circle cx="468.29999999999995" cy="319.1" r="5.0" fill="none" stroke="#6680c4" stroke-width="3.0" opacity="0.55" filter="url(#blur05)"/>
<circle cx="468.29999999999995" cy="319.1" r="2.6" fill="#cfd6e4" opacity="0.55" filter="url(#blur05)"/>
<ellipse cx="434.9" cy="299.8" rx="4.5" ry="5" fill="#6680c4" opacity="0.48" filter="url(#blur05)"/>
<ellipse cx="486.5" cy="350.4" rx="2.6" ry="4.8" fill="#6680c4" opacity="0.64" filter="url(#blur05)"/>
<ellipse cx="483.29999999999995" cy="338.5" rx="3" ry="3" fill="#6680c4" opacity="0.48" filter="url(#blur05)"/>
<ellipse cx="408.9" cy="341.8" rx="4" ry="4" fill="#6680c4" opacity="0.36" filter="url(#blur05)"/>
<ellipse cx="405.7" cy="353.6" rx="3" ry="3" fill="#6680c4" opacity="0.36" filter="url(#blur05)"/>
<clipPath id="cp4"><rect x="380.9" y="395.8" width="111.8" height="96.2"/></clipPath>
<filter id="bl4" color-interpolation-filters="sRGB"><feGaussianBlur stdDeviation="0.65"/></filter>
<g clip-path="url(#cp4)"><g filter="url(#bl4)">
<rect x="378.9" y="393.8" width="115.8" height="100.2" fill="#dcdad9"/>
<ellipse cx="405.9" cy="420.8" rx="10" ry="10" fill="#dfcdb8" opacity="0.7" filter="url(#blur2)"/>
<ellipse cx="440.9" cy="450.8" rx="10" ry="10" fill="#dfcdb8" opacity="0.7" filter="url(#blur2)"/>
<ellipse cx="475.9" cy="460.8" rx="10" ry="12" fill="#dfcdb8" opacity="0.6" filter="url(#blur2)"/>
<ellipse cx="405.9" cy="475.8" rx="10" ry="8" fill="#dfcdb8" opacity="0.6" filter="url(#blur2)"/>
<ellipse cx="425.9" cy="410.8" rx="10" ry="6" fill="#eae8e8" opacity="0.6" filter="url(#blur2)"/>
<g opacity="0.72" fill="none" stroke-linecap="round">
<path d="M380.6 444.2h0M391.5 423.4h0M493.5 406.7h0M460.2 488.2h0M446.4 439.1h0M460.6 419.2h0M480.1 443.4h0M434.8 487.7h0M392.5 406.6h0M429.9 487.5h0M463.4 415.5h0M461.5 422.8h0M395.2 462.6h0M489.6 445.9h0M460.7 430.0h0M453.6 473.2h0M483.4 489.1h0M410.6 418.9h0M444.5 458.2h0M445.8 486.7h0M382.9 415.0h0M480.7 466.3h0M423.1 418.8h0M449.8 481.4h0M485.9 473.8h0M478.1 439.4h0M463.2 460.0h0M486.4 440.4h0M404.7 422.7h0M442.9 436.8h0M414.3 445.8h0M472.9 451.7h0M415.4 454.8h0M392.7 436.6h0M402.7 447.9h0M430.7 410.0h0M432.6 492.1h0M388.0 476.2h0M489.1 437.2h0M401.7 436.7h0M412.7 463.2h0M416.5 436.3h0M422.6 477.9h0M482.6 492.0h0M444.8 414.9h0M415.7 398.5h0M389.1 444.7h0M482.6 445.5h0M381.6 398.9h0M389.4 489.7h0M469.5 406.3h0M435.1 405.0h0M474.6 432.2h0M380.2 468.9h0M383.0 429.5h0M473.5 464.9h0M390.1 431.3h0" stroke="#93a2ca" stroke-width="3.03"/>
<path d="M395.7 479.9h0M402.6 481.8h0M447.8 406.7h0M381.9 403.1h0M410.4 492.5h0M385.9 454.0h0M392.0 429.0h0M406.8 420.0h0M466.6 481.6h0M400.5 478.1h0M432.8 406.9h0M431.3 401.2h0M433.9 468.6h0M417.0 463.4h0M452.8 476.3h0M434.8 461.3h0M433.6 452.6h0M432.0 398.3h0M459.9 480.7h0M442.0 397.3h0M448.8 424.7h0M479.9 481.9h0M470.1 460.3h0M391.5 403.5h0M470.8 413.0h0M394.3 400.2h0M461.9 485.1h0M479.2 415.7h0M469.0 436.2h0M467.6 447.1h0M488.1 469.9h0M470.1 475.2h0M469.0 450.9h0M465.9 463.2h0M381.2 456.8h0M456.4 417.6h0M388.1 397.9h0M396.8 409.8h0M427.8 480.5h0M471.6 419.8h0M411.1 412.5h0M482.2 453.9h0M430.0 471.5h0M423.2 447.7h0M389.3 438.5h0M460.0 433.0h0M463.0 480.4h0M474.7 445.2h0M440.9 431.8h0M468.2 419.9h0M420.9 411.9h0M415.3 469.2h0M487.0 413.5h0M401.1 406.2h0M472.5 486.8h0M453.5 418.2h0M450.2 477.7h0M397.9 461.2h0M460.7 436.0h0M435.5 482.2h0M449.6 404.3h0M384.1 488.0h0" stroke="#93a2ca" stroke-width="3.50"/>
<path d="M462.4 410.2h0M480.0 400.2h0M449.2 488.9h0M391.6 471.8h0M386.6 421.8h0M411.4 440.1h0M399.3 448.2h0M433.5 479.9h0M456.0 404.3h0M489.2 433.8h0M468.4 465.9h0M438.1 438.2h0M478.5 423.0h0M436.0 447.6h0M426.3 465.0h0M405.0 438.8h0M461.2 462.6h0M385.8 466.3h0M412.8 436.5h0M485.9 461.8h0M432.8 414.3h0M420.1 492.1h0M456.8 421.4h0M487.1 409.1h0M473.5 477.9h0M386.0 443.7h0M398.3 418.1h0M476.1 442.6h0M413.9 414.8h0M389.2 426.1h0M398.8 435.5h0M437.3 463.2h0M490.9 419.7h0M410.6 466.2h0M412.8 424.7h0M414.5 410.8h0M384.1 484.7h0M394.0 443.5h0M402.4 467.5h0M457.1 491.9h0M393.1 396.8h0M476.5 448.2h0M465.1 400.9h0M450.1 398.5h0M461.7 476.0h0M428.4 399.6h0M459.1 412.6h0M413.1 471.6h0M437.2 433.3h0M431.9 422.4h0M474.1 436.1h0M462.3 427.5h0M476.5 396.6h0M468.7 457.3h0M422.6 474.0h0M480.8 436.9h0M393.8 469.5h0M395.8 394.8h0M392.6 426.1h0M436.0 408.0h0M474.8 429.0h0M490.3 485.3h0" stroke="#93a2ca" stroke-width="3.97"/>
<path d="M482.1 402.7h0M384.6 432.0h0M437.5 485.5h0M423.6 468.1h0M470.9 427.1h0M430.4 426.7h0M390.0 456.6h0M382.8 471.5h0M471.8 443.6h0M492.1 454.4h0M403.6 433.0h0M443.8 408.3h0M459.1 401.2h0M466.9 432.4h0M461.3 470.6h0M417.9 471.7h0M382.1 449.1h0M438.4 404.5h0M420.8 421.3h0M403.8 399.4h0M391.7 481.3h0M380.8 406.5h0M390.0 434.8h0M489.7 463.4h0M449.2 474.2h0M490.7 467.9h0M395.2 427.8h0M387.0 472.9h0M406.8 409.7h0M403.2 404.0h0M493.4 438.3h0M430.9 441.0h0M428.3 467.9h0M387.6 486.8h0M386.2 434.6h0M461.8 399.8h0M477.4 402.1h0M451.8 453.4h0M451.2 486.3h0M458.9 415.9h0M433.4 438.5h0M386.5 469.6h0M421.8 405.1h0M389.5 416.5h0M483.3 438.4h0M480.9 432.2h0M442.4 471.2h0M436.9 491.7h0M439.7 457.1h0M391.4 442.1h0M399.2 482.0h0M389.9 395.3h0M421.7 397.6h0M403.8 461.7h0M414.7 427.0h0M379.9 396.2h0M423.7 424.3h0M431.6 435.9h0M471.6 467.2h0M400.4 428.3h0M433.8 484.6h0M485.4 430.5h0M490.1 482.2h0M488.9 474.5h0M387.8 402.3h0M402.1 492.3h0M410.2 450.2h0M463.9 432.0h0M443.2 492.7h0M426.0 439.4h0M384.0 446.7h0M415.1 443.0h0M463.6 466.7h0M428.3 437.3h0M470.5 395.8h0M466.1 414.4h0M451.6 407.0h0M492.7 461.8h0M408.7 488.0h0M474.1 469.1h0M451.0 467.0h0M441.1 478.0h0M401.1 398.1h0M450.3 457.0h0M402.4 488.5h0M380.1 415.8h0M392.0 414.7h0M493.5 487.8h0M399.8 442.1h0M467.7 394.8h0M420.8 444.9h0M464.0 473.0h0M407.3 416.8h0" stroke="#9fadd2" stroke-width="3.03"/>
<path d="M443.0 455.4h0M456.6 466.1h0M410.3 415.4h0M427.7 433.9h0M452.6 404.0h0M445.9 411.7h0M468.1 403.3h0M385.6 490.6h0M420.2 408.6h0M462.9 456.2h0M387.3 429.6h0M406.2 471.4h0M401.8 416.5h0M408.5 478.4h0M416.7 476.7h0M398.5 404.2h0M478.4 461.3h0M465.0 428.9h0M485.6 397.4h0M471.9 433.9h0M399.6 408.9h0M446.0 477.8h0M431.3 474.8h0M434.7 423.3h0M442.0 474.8h0M418.3 396.6h0M445.1 421.7h0M476.9 469.9h0M420.5 449.3h0M418.4 414.4h0M488.8 425.0h0M469.6 471.4h0M380.1 424.8h0M484.0 477.0h0M390.3 484.0h0M477.3 434.7h0M451.7 470.2h0M422.4 415.2h0M493.6 457.7h0M436.0 430.6h0M481.2 473.8h0M398.9 438.7h0M453.5 492.5h0M493.2 425.7h0M394.2 418.8h0M453.8 468.1h0M447.5 458.6h0M444.5 489.4h0M446.0 404.2h0M438.5 465.8h0M426.3 442.5h0M492.7 401.8h0M394.9 439.6h0M384.4 426.4h0M406.8 460.4h0M444.1 442.7h0M415.4 489.0h0M439.5 408.3h0M482.3 424.3h0M421.3 463.7h0M428.5 395.1h0M408.2 463.2h0M418.3 467.2h0M411.5 469.1h0M439.7 435.2h0M482.2 397.6h0M418.4 439.0h0M410.4 457.8h0M383.2 459.4h0M398.0 397.1h0M486.5 417.0h0M400.3 431.3h0M444.1 468.3h0M475.5 409.8h0M447.3 492.8h0M457.3 478.6h0M417.9 446.3h0M396.6 454.0h0M493.2 428.6h0M451.7 463.3h0M488.2 421.3h0M433.8 471.6h0M469.6 478.6h0M457.2 431.5h0M430.2 447.2h0M443.9 446.1h0M391.6 450.7h0M397.5 400.3h0M470.8 463.6h0M489.4 492.2h0M387.1 483.0h0M454.1 486.5h0M423.1 407.9h0" stroke="#9fadd2" stroke-width="3.50"/>
<path d="M427.9 403.4h0M382.6 436.5h0M455.9 411.6h0M431.3 463.9h0M391.2 399.6h0M431.9 449.7h0M440.8 487.2h0M406.2 475.6h0M492.1 476.6h0M486.7 490.7h0M470.9 400.5h0M490.0 404.1h0M473.7 492.5h0M400.7 454.9h0M406.3 427.3h0M404.5 414.7h0M489.6 449.4h0M468.6 439.4h0M415.5 439.7h0M473.3 461.6h0M490.7 488.8h0M457.4 470.7h0M388.3 441.7h0M422.3 470.7h0M466.4 474.8h0M471.9 430.0h0M384.5 463.0h0M400.1 451.7h0M419.6 401.9h0M418.0 456.0h0M385.0 399.5h0M393.7 432.3h0M420.2 433.0h0M474.1 440.5h0M390.2 493.0h0M467.9 443.8h0M460.2 458.4h0M410.8 447.1h0M485.8 436.1h0M493.3 451.1h0M418.2 429.5h0M444.9 430.9h0M407.2 450.5h0M491.6 431.7h0M482.7 418.2h0M405.0 492.4h0M392.4 454.0h0M420.3 441.9h0M465.1 450.3h0M406.3 482.5h0M473.5 396.0h0M454.9 400.5h0M443.5 449.5h0M484.4 482.7h0M464.1 424.3h0M403.1 450.8h0M466.4 455.0h0M492.5 491.5h0M406.5 446.9h0M412.1 485.4h0M389.0 461.2h0M440.6 491.4h0M464.9 492.1h0M478.3 445.8h0M415.6 395.5h0M425.4 483.2h0M451.9 411.6h0M406.3 434.5h0M391.6 477.5h0M465.6 441.1h0M493.3 484.2h0M392.1 462.9h0M408.0 468.2h0M381.7 464.9h0M448.5 395.9h0M476.5 482.3h0M459.6 455.2h0M421.0 460.4h0M425.2 405.2h0M396.1 488.3h0M482.7 408.8h0M403.8 453.9h0M478.7 454.6h0M395.9 436.8h0M427.5 453.8h0M437.7 445.0h0" stroke="#9fadd2" stroke-width="3.97"/>
<path d="M432.6 431.5h0M389.4 447.8h0M429.2 415.8h0M468.7 416.6h0M383.2 492.3h0M461.9 404.9h0M433.1 446.1h0M479.7 485.1h0M416.1 419.1h0M448.7 443.1h0M425.3 415.3h0M454.9 408.3h0M416.4 432.6h0M488.0 428.9h0M383.2 467.6h0M443.4 464.1h0M388.5 464.1h0M467.0 411.5h0M405.3 464.3h0M436.8 453.7h0M400.5 401.9h0M476.1 487.5h0M490.2 416.2h0M483.6 433.8h0M382.9 396.2h0M393.7 466.5h0M436.1 411.0h0M401.4 423.3h0M415.9 482.1h0M418.9 425.4h0M474.5 417.3h0M423.2 438.3h0M465.9 397.1h0M443.0 417.8h0M422.4 490.0h0M468.7 398.3h0M452.6 479.6h0M458.9 408.2h0M457.3 396.4h0M409.5 421.7h0M380.7 420.5h0M414.8 422.0h0M493.1 413.9h0M386.0 395.1h0M444.6 424.7h0M419.4 436.2h0M435.9 436.1h0M483.5 421.3h0M404.2 457.8h0M467.9 426.5h0M445.9 461.5h0M434.4 464.6h0M417.6 485.6h0M411.8 428.0h0M388.6 405.2h0M481.5 478.8h0M487.0 400.3h0M492.4 447.8h0M400.8 411.9h0M399.2 468.4h0M392.9 485.5h0M407.3 424.0h0M468.1 408.8h0M417.8 421.4h0" stroke="#b0bbd8" stroke-width="3.03"/>
<path d="M403.0 395.6h0M463.8 436.5h0M440.1 411.8h0M481.1 448.3h0M439.5 447.5h0M414.1 466.0h0M449.1 412.6h0M380.9 488.5h0M482.5 486.2h0M425.7 426.7h0M381.1 485.2h0M490.2 413.1h0M441.3 460.6h0M394.7 424.0h0M489.7 398.9h0M446.8 447.1h0M380.7 480.5h0M434.2 420.4h0M464.8 446.1h0M476.7 464.8h0M474.4 413.0h0M462.3 452.8h0M411.8 479.7h0M440.7 444.0h0M381.9 454.0h0M479.3 488.3h0M465.2 470.2h0M383.6 481.6h0M438.3 451.1h0M394.9 451.5h0M464.2 419.0h0M467.2 422.9h0M451.6 415.1h0M404.5 407.8h0M444.6 473.3h0M398.4 423.7h0M487.2 485.7h0M389.1 467.4h0M386.1 438.4h0M486.7 458.0h0M435.8 475.4h0M384.8 456.8h0M440.4 414.7h0M489.3 478.3h0M408.6 442.4h0M475.2 399.8h0M409.8 425.9h0M459.5 451.2h0M440.3 441.0h0M451.8 444.5h0M440.6 453.3h0M424.0 395.0h0M409.5 453.4h0M468.0 429.7h0M486.6 479.5h0M380.3 473.2h0M489.7 440.4h0M430.7 482.1h0M389.0 453.2h0M490.5 407.5h0M414.8 407.9h0M407.7 413.5h0M411.5 444.0h0M457.1 449.4h0M431.2 467.6h0M443.1 439.9h0M483.4 471.8h0M443.8 433.7h0M475.8 451.5h0" stroke="#b0bbd8" stroke-width="3.50"/>
<path d="M460.0 439.2h0M447.1 470.8h0M483.0 405.8h0M406.8 454.8h0M424.1 411.8h0M448.8 416.5h0M441.6 427.7h0M440.6 401.8h0M384.7 409.4h0M478.7 450.8h0M469.8 485.4h0M397.2 432.0h0M482.0 429.0h0M438.6 482.5h0M383.3 423.5h0M459.1 426.1h0M436.2 414.1h0M492.1 435.5h0M397.8 412.5h0M405.6 430.5h0M476.4 405.0h0M478.5 419.0h0M448.1 467.3h0M471.0 409.3h0M413.8 458.8h0M411.2 398.2h0M483.0 456.8h0M427.6 457.6h0M478.1 412.3h0M475.0 457.8h0M411.6 489.8h0M490.3 459.5h0M458.0 474.6h0M424.4 434.8h0M392.4 411.8h0M412.9 453.2h0M414.3 430.0h0M485.7 424.6h0M473.1 448.2h0M488.0 395.2h0M489.7 456.2h0M419.8 418.1h0M459.7 465.9h0M456.4 462.2h0M470.8 489.7h0M479.8 457.4h0M403.1 420.2h0M436.7 470.4h0M403.0 485.4h0M471.8 403.5h0M384.2 451.5h0M492.9 409.8h0M491.4 423.1h0M383.4 474.3h0M387.3 458.6h0M402.6 426.0h0M456.4 424.9h0M450.1 491.9h0M493.6 470.1h0M437.5 441.9h0M391.1 474.7h0M433.2 476.9h0M380.4 491.4h0" stroke="#b0bbd8" stroke-width="3.97"/>
</g>
<g opacity="0.72" fill="none" stroke-linecap="round">
<path d="M434.8 485.0h0M438.0 482.5h0M416.2 470.4h0M474.1 460.7h0M476.7 467.7h0M475.4 437.8h0M490.2 405.1h0M438.0 468.3h0M437.8 472.5h0M428.1 443.2h0M481.7 399.1h0M419.0 456.7h0M415.9 487.3h0M479.5 439.2h0M457.0 428.7h0M389.5 491.3h0M485.0 411.6h0M463.5 418.7h0M449.1 403.7h0M385.7 403.7h0M390.9 432.3h0M471.0 425.6h0M483.9 487.7h0M390.2 428.9h0M409.5 435.8h0M406.9 461.7h0M484.7 428.8h0M440.2 401.5h0M415.6 466.5h0M479.8 468.0h0M380.7 394.9h0M425.7 438.5h0M421.5 453.5h0" stroke="#5a6694" stroke-width="1.53"/>
<path d="M381.4 452.6h0M481.9 416.2h0M397.1 441.1h0M427.4 404.8h0M470.7 489.7h0M490.5 457.4h0M380.3 436.3h0M488.2 409.6h0M429.4 421.2h0M438.9 414.6h0M428.8 439.7h0M473.7 418.4h0M400.6 439.7h0M403.0 421.7h0M423.0 403.7h0M488.9 485.3h0M399.6 404.8h0M435.4 434.2h0M483.7 425.5h0M420.3 468.3h0M380.4 491.8h0M406.5 465.4h0" stroke="#5a6694" stroke-width="1.80"/>
<path d="M442.2 412.9h0M483.2 448.3h0M385.7 492.9h0M435.3 445.6h0M382.9 416.3h0M492.4 448.9h0M478.1 409.7h0M411.0 487.2h0M475.3 395.7h0M436.5 475.2h0M445.5 451.3h0M406.9 394.8h0M477.6 481.0h0M483.9 396.3h0M408.5 453.5h0M465.6 451.2h0M459.8 448.3h0M383.7 486.4h0M414.3 440.6h0" stroke="#5a6694" stroke-width="2.07"/>
<path d="M383.7 490.1h0M422.5 415.4h0M389.0 473.1h0M420.7 477.8h0M484.7 440.5h0M390.4 478.4h0M398.2 475.9h0M413.4 427.1h0M461.5 457.5h0M417.8 404.0h0M470.0 434.1h0M393.6 430.9h0M452.5 402.9h0M418.1 490.6h0M387.6 452.3h0M452.6 406.7h0M395.1 437.2h0M470.7 440.5h0M446.7 445.6h0M434.6 406.1h0M481.4 455.3h0M462.7 409.3h0M400.9 446.4h0M404.6 468.4h0M467.6 439.6h0M456.8 441.4h0M398.2 462.0h0M472.0 436.9h0M486.7 431.9h0M477.8 443.7h0M454.0 473.7h0M397.0 400.2h0M386.8 416.3h0M395.4 457.2h0M471.1 410.6h0M389.3 463.4h0M414.5 434.0h0M414.7 429.9h0M473.9 479.9h0M480.8 492.6h0M430.0 493.0h0M460.3 430.9h0M408.3 482.1h0M410.1 403.1h0M492.9 480.5h0M392.0 408.3h0M456.2 432.1h0M452.0 490.2h0M468.6 453.6h0M380.8 473.3h0M404.7 446.3h0M385.1 466.5h0M448.1 492.8h0M412.9 399.2h0M493.7 403.6h0M464.9 422.1h0M471.6 485.7h0M431.1 458.2h0M429.8 446.3h0M470.9 398.0h0M463.5 491.8h0M489.4 462.6h0M450.1 443.6h0M439.2 434.9h0M388.8 401.7h0M478.4 490.5h0" stroke="#66729e" stroke-width="1.53"/>
<path d="M394.2 396.5h0M418.0 416.4h0M380.4 488.1h0M412.3 418.2h0M458.5 398.3h0M407.5 411.6h0M411.2 441.6h0M487.0 478.3h0M448.9 422.2h0M488.7 401.4h0M387.7 436.3h0M400.7 492.2h0M448.9 455.3h0M455.8 483.4h0M399.5 433.1h0M429.2 471.0h0M445.8 434.2h0M446.4 460.7h0M398.6 412.3h0M392.6 476.4h0M419.1 434.9h0M406.4 436.8h0M482.1 452.1h0M387.4 455.8h0M489.3 420.9h0M414.3 479.0h0M427.3 462.7h0M468.2 467.2h0M411.4 462.1h0M399.3 397.4h0M478.8 461.5h0M436.0 411.3h0M467.6 397.6h0M386.3 428.1h0M392.2 414.5h0M403.3 441.8h0M437.9 423.2h0M481.7 445.6h0M444.6 438.5h0M438.1 395.9h0M407.5 424.9h0M459.3 459.6h0M418.5 465.5h0M454.2 464.5h0M447.9 408.5h0M380.2 398.4h0M440.8 454.4h0M411.0 458.7h0M400.7 481.1h0M415.2 437.0h0M474.0 441.1h0M469.6 483.3h0M430.8 409.1h0M415.0 455.7h0M428.4 466.8h0M481.4 431.1h0M408.3 486.0h0M428.1 401.5h0M493.4 464.2h0M386.8 487.8h0M397.2 445.9h0M443.7 441.4h0M486.7 457.1h0M412.5 484.5h0M424.1 490.7h0M432.7 431.0h0M433.3 482.3h0M486.8 394.9h0M390.6 436.8h0" stroke="#66729e" stroke-width="1.80"/>
<path d="M434.4 449.7h0M444.9 409.3h0M431.7 466.4h0M483.5 434.3h0M410.8 455.5h0M395.8 433.2h0M453.1 429.9h0M462.7 479.4h0M393.7 441.3h0M406.9 456.7h0M471.6 415.9h0M393.6 462.0h0M476.1 422.1h0M442.7 487.3h0M425.6 417.6h0M446.0 474.0h0M420.3 447.4h0M430.4 485.0h0M460.1 417.3h0M404.4 426.3h0M466.0 444.9h0M476.7 431.5h0M418.4 474.9h0M475.1 428.5h0M410.1 432.0h0M417.1 428.1h0M490.8 452.1h0M438.9 456.8h0M427.7 397.9h0M488.0 441.7h0M466.4 464.1h0M396.7 429.8h0M491.3 425.0h0M400.9 464.8h0M417.4 441.6h0M482.0 412.7h0M412.0 467.4h0M473.0 463.7h0M441.0 478.9h0M452.6 482.2h0M476.7 477.9h0M441.0 463.4h0M401.1 414.9h0M492.9 471.4h0M485.5 398.9h0M492.9 438.3h0M462.3 404.7h0M394.2 466.7h0M385.3 463.3h0M420.9 491.9h0M383.8 425.9h0M478.8 416.5h0M478.2 455.3h0M438.1 443.2h0M380.4 424.9h0M403.9 449.7h0M409.5 464.5h0M489.7 431.6h0M464.4 441.8h0M455.9 406.6h0M403.3 438.1h0M418.1 438.0h0M436.5 427.7h0M452.3 398.1h0M484.3 472.3h0M484.6 444.3h0" stroke="#66729e" stroke-width="2.07"/>
<path d="M430.7 488.1h0M448.2 426.2h0M441.5 416.8h0M467.4 447.8h0M481.5 441.4h0M414.5 491.1h0M425.9 451.3h0M445.9 467.1h0M433.2 475.8h0M480.5 488.2h0M442.8 431.8h0M402.4 401.0h0M394.2 422.9h0M387.9 432.0h0M469.1 428.6h0M440.6 398.2h0M439.5 426.9h0M489.3 482.1h0M476.3 484.5h0M401.7 407.3h0M408.0 419.6h0M430.6 414.7h0M456.1 467.2h0M483.0 468.6h0M429.6 480.4h0M463.4 467.3h0M394.4 427.2h0M391.1 403.8h0M392.2 454.8h0M430.6 435.2h0M455.1 399.9h0M447.2 411.9h0M493.2 411.4h0M420.0 401.7h0M482.8 437.6h0M441.0 422.4h0M480.4 402.7h0M395.6 453.0h0M477.8 448.9h0M383.7 448.3h0M461.6 473.1h0M453.3 477.3h0M440.1 445.8h0M392.7 487.6h0M455.0 460.2h0M493.6 429.4h0M446.0 456.3h0M384.1 455.7h0M462.5 396.1h0M414.8 423.6h0M393.8 472.8h0M443.1 446.3h0M433.5 461.5h0M380.3 421.2h0M486.2 483.4h0M384.3 451.4h0M381.2 440.3h0M440.4 485.2h0M456.4 477.6h0M391.4 425.5h0M488.3 459.8h0M468.3 460.3h0M456.3 413.6h0M435.1 416.8h0M492.9 432.9h0M404.8 487.5h0M417.0 420.0h0M446.5 464.0h0M448.9 434.6h0M470.5 419.0h0M478.6 399.6h0M450.9 409.4h0M443.8 453.9h0M386.4 413.2h0M485.7 450.6h0M485.2 414.8h0" stroke="#7480aa" stroke-width="1.53"/>
<path d="M436.0 431.1h0M421.0 396.1h0M460.0 478.0h0M411.3 481.1h0M410.2 408.0h0M463.3 475.7h0M476.6 452.0h0M405.6 484.5h0M424.6 395.5h0M467.1 457.5h0M406.3 414.8h0M395.1 491.1h0M415.8 458.9h0M411.8 421.5h0M430.5 453.2h0M383.3 399.2h0M475.6 489.5h0M391.1 444.3h0M390.0 484.3h0M400.4 486.7h0M481.6 427.7h0M417.8 480.4h0M429.4 449.6h0M491.5 442.4h0M387.7 460.8h0M450.0 475.6h0M453.8 440.3h0M461.2 454.5h0M380.2 481.6h0M460.6 422.4h0M464.0 414.7h0M492.6 460.8h0M382.0 467.1h0M414.1 406.4h0M465.4 454.7h0M485.7 423.1h0M470.6 422.2h0M399.7 454.5h0M473.3 451.6h0M393.1 434.8h0M453.9 395.0h0M479.1 396.5h0M492.4 488.1h0M490.7 427.9h0M457.1 473.7h0M461.2 451.2h0M486.1 407.3h0M493.3 454.6h0M437.0 402.0h0M432.1 472.5h0M469.8 464.2h0M475.4 434.4h0M440.5 437.8h0M461.5 444.7h0M469.6 450.7h0M388.5 466.3h0M476.4 464.1h0M398.1 437.4h0M478.8 405.8h0M380.3 448.8h0M380.9 461.0h0M399.8 421.1h0M474.0 403.4h0M492.6 445.4h0M453.0 467.4h0M488.5 493.0h0M481.7 485.4h0M456.9 395.1h0M459.7 467.5h0M473.1 491.6h0M398.8 489.5h0M469.2 394.8h0M413.1 470.6h0M486.8 474.5h0M493.7 475.5h0M471.4 454.9h0" stroke="#7480aa" stroke-width="1.80"/>
<path d="M385.6 476.1h0M425.6 434.6h0M434.2 453.5h0M424.8 442.2h0M431.4 418.1h0M487.7 416.6h0M448.3 431.5h0M452.2 470.5h0M405.8 479.2h0M397.0 408.2h0M427.2 489.9h0M437.3 437.3h0M417.1 444.8h0M461.8 470.1h0M487.5 427.4h0M492.2 491.8h0M394.7 403.6h0M401.1 450.8h0M422.3 438.6h0M453.6 410.9h0M412.0 437.8h0M444.1 420.1h0M411.4 414.9h0M464.4 484.4h0M427.0 457.4h0M481.6 479.4h0M431.9 440.2h0M437.7 405.9h0M449.7 466.4h0M384.8 433.8h0M417.9 453.1h0M380.6 464.1h0M468.1 442.7h0M452.2 446.2h0M416.5 463.2h0M464.4 432.8h0M478.8 435.4h0M405.1 409.5h0M425.6 479.0h0M488.7 397.8h0M415.2 414.7h0M492.8 416.1h0M458.7 490.3h0M455.5 402.9h0M474.6 455.3h0M409.8 477.6h0M480.1 464.8h0M473.6 468.4h0M443.2 484.2h0M471.0 431.1h0M408.5 467.9h0M491.0 477.2h0M444.9 414.4h0M492.6 400.0h0M381.5 402.4h0M493.6 407.8h0M383.0 422.9h0M464.0 402.2h0M407.4 448.1h0M410.6 424.9h0M413.6 464.2h0M407.6 433.5h0M397.1 395.4h0M483.4 421.2h0" stroke="#7480aa" stroke-width="2.07"/>
<path d="M392.1 458.3h0M466.5 418.0h0M437.9 452.7h0M415.5 395.7h0M387.1 424.1h0M447.7 488.8h0M424.5 466.9h0M485.8 491.3h0M460.8 400.7h0M456.3 470.8h0M449.2 437.8h0M397.8 418.6h0M464.0 448.6h0M468.8 414.8h0M420.7 420.4h0M435.2 469.9h0M453.1 454.8h0M408.4 489.0h0M405.0 452.8h0M470.9 401.1h0M493.1 483.6h0M404.6 405.5h0M466.1 429.9h0M393.0 481.0h0M398.9 458.9h0M447.4 440.3h0M420.2 406.0h0M412.1 445.5h0M493.6 468.3h0M464.8 471.2h0M493.1 419.6h0M465.3 394.8h0M484.7 480.6h0M462.7 436.7h0M481.4 409.4h0" stroke="#8490b6" stroke-width="1.53"/>
<path d="M481.0 423.4h0M396.6 415.6h0M434.4 490.1h0M431.2 428.0h0M446.5 484.0h0M396.9 472.2h0M403.3 462.7h0M389.3 406.9h0M474.5 413.4h0M396.1 483.7h0M441.0 409.3h0M385.8 480.9h0M483.1 461.2h0M466.4 410.7h0M419.7 430.9h0M486.4 465.1h0M399.6 426.7h0M489.7 473.8h0M384.4 410.5h0M438.4 489.2h0M406.9 474.7h0M488.0 488.2h0M388.7 439.1h0M466.1 425.6h0M440.6 441.2h0M390.4 420.2h0M457.3 425.5h0M424.0 429.3h0M467.2 486.8h0M458.0 464.6h0M385.6 440.2h0M382.6 470.5h0M402.2 410.8h0M381.8 412.6h0M382.8 429.6h0M448.6 416.0h0M400.4 443.0h0M457.9 454.2h0M445.9 429.6h0M384.6 443.8h0M435.8 480.4h0M384.5 459.9h0M402.4 435.1h0M455.5 420.4h0M390.6 417.1h0M444.2 427.0h0M384.3 473.1h0M473.2 482.9h0M395.5 477.3h0" stroke="#8490b6" stroke-width="1.80"/>
<path d="M455.8 417.3h0M388.0 442.5h0M458.4 404.5h0M462.6 427.3h0M420.5 426.0h0M424.5 420.6h0M437.4 461.5h0M416.0 484.0h0M421.5 462.2h0M385.3 420.9h0M410.5 491.4h0M442.4 470.8h0M432.0 403.6h0M436.2 464.5h0M386.4 484.7h0M449.4 482.5h0M402.4 476.7h0M413.8 448.4h0M388.8 469.9h0M442.8 435.5h0M441.4 466.5h0M444.3 491.1h0M460.3 434.1h0M397.0 480.2h0M412.5 409.9h0M460.9 462.3h0M424.9 485.7h0M448.7 451.9h0M452.0 458.0h0M480.3 482.7h0M402.8 457.7h0M402.5 484.2h0M433.4 412.9h0M393.6 469.7h0M451.7 417.7h0M409.3 428.9h0M419.2 483.8h0M421.2 442.2h0M407.6 406.2h0M460.2 407.4h0M485.3 418.9h0M383.0 479.7h0M464.0 460.6h0M426.5 472.5h0M401.6 395.4h0M451.7 452.0h0M474.4 448.5h0M477.2 419.2h0" stroke="#8490b6" stroke-width="2.07"/>
</g>
</g></g>
<rect x="386.09999999999997" y="485.4" width="9.0" height="1.6" fill="#111"/>
<rect x="487.5" y="487.8" width="3.0" height="0.9" fill="#555"/>
<text x="437.0" y="30.8" font-size="8.0" text-anchor="middle">WT</text>
<text x="422.3" y="150.6" font-size="8.3" font-style="italic">9p21<tspan font-size="6.2" dy="-3.6" dx="0.6">+/−</tspan></text>
<text x="422.3" y="269.6" font-size="8.3" font-style="italic">9p21<tspan font-size="6.2" dy="-3.6" dx="0.6">+/−</tspan></text>
<text x="422.3" y="389.6" font-size="8.3" font-style="italic">9p21<tspan font-size="6.2" dy="-3.6" dx="0.6">+/−</tspan></text>
<rect x="60.39999999999999" y="621.6959999999999" width="18.4" height="48.60400000000004" fill="#a5acba"/>
<rect x="89.3" y="638.0369999999999" width="18.4" height="32.263000000000034" fill="#b89ac6"/>
<line x1="69.6" y1="605.355" x2="69.6" y2="638.0369999999999" stroke="#4d5567" stroke-width="1.0"/>
<line x1="65.1" y1="605.355" x2="74.1" y2="605.355" stroke="#4d5567" stroke-width="1.0"/>
<line x1="65.1" y1="638.0369999999999" x2="74.1" y2="638.0369999999999" stroke="#4d5567" stroke-width="1.0"/>
<line x1="98.5" y1="615.8299999999999" x2="98.5" y2="660.2439999999999" stroke="#5a1c6c" stroke-width="1.0"/>
<line x1="94.0" y1="615.8299999999999" x2="103.0" y2="615.8299999999999" stroke="#5a1c6c" stroke-width="1.0"/>
<line x1="94.0" y1="660.2439999999999" x2="103.0" y2="660.2439999999999" stroke="#5a1c6c" stroke-width="1.0"/>
<circle cx="69.60" cy="599.49" r="2.0" fill="#4d5567"/>
<circle cx="69.60" cy="611.22" r="2.0" fill="#4d5567"/>
<circle cx="69.60" cy="625.05" r="2.0" fill="#4d5567"/>
<circle cx="69.60" cy="632.17" r="2.0" fill="#4d5567"/>
<circle cx="69.60" cy="639.29" r="2.0" fill="#4d5567"/>
<circle cx="98.50" cy="571.83" r="2.0" fill="#5a1c6c"/>
<circle cx="98.50" cy="597.81" r="2.0" fill="#5a1c6c"/>
<circle cx="96.50" cy="616.25" r="2.0" fill="#5a1c6c"/>
<circle cx="100.50" cy="620.44" r="2.0" fill="#5a1c6c"/>
<circle cx="96.50" cy="620.44" r="2.0" fill="#5a1c6c"/>
<circle cx="100.00" cy="627.56" r="2.0" fill="#5a1c6c"/>
<circle cx="98.50" cy="635.10" r="2.0" fill="#5a1c6c"/>
<circle cx="97.00" cy="640.97" r="2.0" fill="#5a1c6c"/>
<circle cx="94.50" cy="645.16" r="2.0" fill="#5a1c6c"/>
<circle cx="102.50" cy="645.16" r="2.0" fill="#5a1c6c"/>
<circle cx="92.50" cy="649.35" r="2.0" fill="#5a1c6c"/>
<circle cx="98.50" cy="649.35" r="2.0" fill="#5a1c6c"/>
<circle cx="104.50" cy="648.51" r="2.0" fill="#5a1c6c"/>
<circle cx="91.50" cy="653.12" r="2.0" fill="#5a1c6c"/>
<circle cx="105.50" cy="653.12" r="2.0" fill="#5a1c6c"/>
<circle cx="95.50" cy="654.80" r="2.0" fill="#5a1c6c"/>
<circle cx="101.50" cy="654.80" r="2.0" fill="#5a1c6c"/>
<circle cx="98.50" cy="657.73" r="2.0" fill="#5a1c6c"/>
<circle cx="96.50" cy="660.66" r="2.0" fill="#5a1c6c"/>
<line x1="49.7" y1="562.65" x2="49.7" y2="670.9" stroke="#231f20" stroke-width="1.3"/>
<line x1="49.1" y1="670.3" x2="117.2" y2="670.3" stroke="#231f20" stroke-width="1.3"/>
<line x1="46.5" y1="670.3" x2="49.7" y2="670.3" stroke="#231f20" stroke-width="1.0"/>
<text x="44.0" y="673.3" font-size="8.6" text-anchor="end">0.0</text>
<line x1="46.5" y1="649.3499999999999" x2="49.7" y2="649.3499999999999" stroke="#231f20" stroke-width="1.0"/>
<text x="44.0" y="652.3499999999999" font-size="8.6" text-anchor="end">0.5</text>
<line x1="46.5" y1="628.4" x2="49.7" y2="628.4" stroke="#231f20" stroke-width="1.0"/>
<text x="44.0" y="631.4" font-size="8.6" text-anchor="end">1.0</text>
<line x1="46.5" y1="607.4499999999999" x2="49.7" y2="607.4499999999999" stroke="#231f20" stroke-width="1.0"/>
<text x="44.0" y="610.4499999999999" font-size="8.6" text-anchor="end">1.5</text>
<line x1="46.5" y1="586.5" x2="49.7" y2="586.5" stroke="#231f20" stroke-width="1.0"/>
<text x="44.0" y="589.5" font-size="8.6" text-anchor="end">2.0</text>
<line x1="46.5" y1="565.55" x2="49.7" y2="565.55" stroke="#231f20" stroke-width="1.0"/>
<text x="44.0" y="568.55" font-size="8.6" text-anchor="end">2.5</text>
<line x1="69.6" y1="670.3" x2="69.6" y2="673.5" stroke="#231f20" stroke-width="1.0"/>
<line x1="98.5" y1="670.3" x2="98.5" y2="673.5" stroke="#231f20" stroke-width="1.0"/>
<text x="69.6" y="684.6" font-size="8.6" text-anchor="middle" textLength="29.4" lengthAdjust="spacingAndGlyphs">Healthy</text>
<text x="98.5" y="684.6" font-size="8.6" text-anchor="middle" textLength="18.8" lengthAdjust="spacingAndGlyphs">MDS</text>
<text x="84.5" y="545.8" font-size="10.2" text-anchor="middle" font-style="italic">CDKN2B</text>
<text x="25.900000000000002" y="615.7" font-size="10.0" text-anchor="middle" transform="rotate(-90 25.900000000000002 615.7)" textLength="46.5" lengthAdjust="spacingAndGlyphs">RPKM values</text>
<line x1="69.7" y1="561.7" x2="98.7" y2="561.7" stroke="#231f20" stroke-width="1.0"/>
<text x="84.0" y="558.6" font-size="8.6" text-anchor="middle">0.0550</text>
<rect x="180.60000000000002" y="624.8883999999999" width="18.4" height="45.41160000000002" fill="#a5acba"/>
<rect x="209.70000000000002" y="621.3951999999999" width="18.4" height="48.90480000000002" fill="#b89ac6"/>
<line x1="189.8" y1="603.9291999999999" x2="189.8" y2="645.8475999999999" stroke="#4d5567" stroke-width="1.0"/>
<line x1="185.3" y1="603.9291999999999" x2="194.3" y2="603.9291999999999" stroke="#4d5567" stroke-width="1.0"/>
<line x1="185.3" y1="645.8475999999999" x2="194.3" y2="645.8475999999999" stroke="#4d5567" stroke-width="1.0"/>
<line x1="218.9" y1="598.6894" x2="218.9" y2="644.101" stroke="#5a1c6c" stroke-width="1.0"/>
<line x1="214.4" y1="598.6894" x2="223.4" y2="598.6894" stroke="#5a1c6c" stroke-width="1.0"/>
<line x1="214.4" y1="644.101" x2="223.4" y2="644.101" stroke="#5a1c6c" stroke-width="1.0"/>
<circle cx="189.80" cy="598.43" r="2.0" fill="#4d5567"/>
<circle cx="189.80" cy="612.23" r="2.0" fill="#4d5567"/>
<circle cx="189.80" cy="619.65" r="2.0" fill="#4d5567"/>
<circle cx="185.80" cy="644.97" r="2.0" fill="#4d5567"/>
<circle cx="194.30" cy="644.54" r="2.0" fill="#4d5567"/>
<circle cx="218.90" cy="574.24" r="2.0" fill="#5a1c6c"/>
<circle cx="218.90" cy="586.46" r="2.0" fill="#5a1c6c"/>
<circle cx="218.90" cy="592.58" r="2.0" fill="#5a1c6c"/>
<circle cx="211.90" cy="605.68" r="2.0" fill="#5a1c6c"/>
<circle cx="216.90" cy="606.55" r="2.0" fill="#5a1c6c"/>
<circle cx="221.90" cy="606.55" r="2.0" fill="#5a1c6c"/>
<circle cx="225.90" cy="605.68" r="2.0" fill="#5a1c6c"/>
<circle cx="214.90" cy="612.23" r="2.0" fill="#5a1c6c"/>
<circle cx="220.90" cy="612.23" r="2.0" fill="#5a1c6c"/>
<circle cx="218.90" cy="619.65" r="2.0" fill="#5a1c6c"/>
<circle cx="225.90" cy="633.62" r="2.0" fill="#5a1c6c"/>
<circle cx="220.90" cy="633.62" r="2.0" fill="#5a1c6c"/>
<circle cx="215.90" cy="637.38" r="2.0" fill="#5a1c6c"/>
<circle cx="219.90" cy="637.38" r="2.0" fill="#5a1c6c"/>
<circle cx="223.90" cy="636.68" r="2.0" fill="#5a1c6c"/>
<circle cx="211.90" cy="639.73" r="2.0" fill="#5a1c6c"/>
<circle cx="212.90" cy="645.41" r="2.0" fill="#5a1c6c"/>
<circle cx="216.90" cy="644.97" r="2.0" fill="#5a1c6c"/>
<circle cx="220.90" cy="645.41" r="2.0" fill="#5a1c6c"/>
<circle cx="225.90" cy="647.59" r="2.0" fill="#5a1c6c"/>
<line x1="169.7" y1="562.6039999999999" x2="169.7" y2="670.9" stroke="#231f20" stroke-width="1.3"/>
<line x1="169.1" y1="670.3" x2="238.0" y2="670.3" stroke="#231f20" stroke-width="1.3"/>
<line x1="166.5" y1="670.3" x2="169.7" y2="670.3" stroke="#231f20" stroke-width="1.0"/>
<text x="164.0" y="673.3" font-size="8.6" text-anchor="end">0</text>
<line x1="166.5" y1="635.3679999999999" x2="169.7" y2="635.3679999999999" stroke="#231f20" stroke-width="1.0"/>
<text x="164.0" y="638.3679999999999" font-size="8.6" text-anchor="end">40</text>
<line x1="166.5" y1="600.4359999999999" x2="169.7" y2="600.4359999999999" stroke="#231f20" stroke-width="1.0"/>
<text x="164.0" y="603.4359999999999" font-size="8.6" text-anchor="end">80</text>
<line x1="166.5" y1="565.5039999999999" x2="169.7" y2="565.5039999999999" stroke="#231f20" stroke-width="1.0"/>
<text x="164.0" y="568.5039999999999" font-size="8.6" text-anchor="end">120</text>
<line x1="189.8" y1="670.3" x2="189.8" y2="673.5" stroke="#231f20" stroke-width="1.0"/>
<line x1="218.9" y1="670.3" x2="218.9" y2="673.5" stroke="#231f20" stroke-width="1.0"/>
<text x="189.8" y="684.6" font-size="8.6" text-anchor="middle" textLength="29.4" lengthAdjust="spacingAndGlyphs">Healthy</text>
<text x="218.9" y="684.6" font-size="8.6" text-anchor="middle" textLength="18.8" lengthAdjust="spacingAndGlyphs">MDS</text>
<text x="204.5" y="545.8" font-size="10.2" text-anchor="middle" font-style="italic">CXCL12</text>
<text x="144.5" y="615.7" font-size="10.0" text-anchor="middle" transform="rotate(-90 144.5 615.7)" textLength="46.5" lengthAdjust="spacingAndGlyphs">RPKM values</text>
<rect x="291.1" y="656.296" width="18.4" height="3.3039999999999736" fill="#a5acba"/>
<rect x="320.3" y="648.0360000000001" width="18.4" height="11.563999999999965" fill="#b89ac6"/>
<line x1="300.3" y1="653.11" x2="300.3" y2="659.01" stroke="#4d5567" stroke-width="1.0"/>
<line x1="295.8" y1="653.11" x2="304.8" y2="653.11" stroke="#4d5567" stroke-width="1.0"/>
<line x1="295.8" y1="659.01" x2="304.8" y2="659.01" stroke="#4d5567" stroke-width="1.0"/>
<line x1="329.5" y1="625.97" x2="329.5" y2="667.86" stroke="#5a1c6c" stroke-width="1.0"/>
<line x1="325.0" y1="625.97" x2="334.0" y2="625.97" stroke="#5a1c6c" stroke-width="1.0"/>
<line x1="325.0" y1="667.86" x2="334.0" y2="667.86" stroke="#5a1c6c" stroke-width="1.0"/>
<circle cx="295.60" cy="654.88" r="2.0" fill="#4d5567"/>
<circle cx="304.00" cy="652.05" r="2.0" fill="#4d5567"/>
<circle cx="303.50" cy="656.77" r="2.0" fill="#4d5567"/>
<circle cx="296.00" cy="659.01" r="2.0" fill="#4d5567"/>
<circle cx="300.30" cy="657.24" r="2.0" fill="#4d5567"/>
<circle cx="298.80" cy="654.29" r="2.0" fill="#4d5567"/>
<circle cx="329.50" cy="591.16" r="2.0" fill="#5a1c6c"/>
<circle cx="329.50" cy="604.14" r="2.0" fill="#5a1c6c"/>
<circle cx="329.50" cy="626.56" r="2.0" fill="#5a1c6c"/>
<circle cx="329.50" cy="632.46" r="2.0" fill="#5a1c6c"/>
<circle cx="327.90" cy="653.11" r="2.0" fill="#5a1c6c"/>
<circle cx="325.40" cy="655.47" r="2.0" fill="#5a1c6c"/>
<circle cx="330.60" cy="654.88" r="2.0" fill="#5a1c6c"/>
<circle cx="332.90" cy="657.83" r="2.0" fill="#5a1c6c"/>
<circle cx="335.80" cy="658.42" r="2.0" fill="#5a1c6c"/>
<circle cx="321.90" cy="659.01" r="2.0" fill="#5a1c6c"/>
<circle cx="327.90" cy="659.60" r="2.0" fill="#5a1c6c"/>
<circle cx="331.00" cy="658.42" r="2.0" fill="#5a1c6c"/>
<circle cx="324.50" cy="657.83" r="2.0" fill="#5a1c6c"/>
<circle cx="334.00" cy="659.60" r="2.0" fill="#5a1c6c"/>
<line x1="280.7" y1="562.3000000000001" x2="280.7" y2="670.9" stroke="#231f20" stroke-width="1.3"/>
<line x1="280.09999999999997" y1="670.3" x2="348.0" y2="670.3" stroke="#231f20" stroke-width="1.3"/>
<line x1="280.7" y1="659.6" x2="348.0" y2="659.6" stroke="#231f20" stroke-width="1.2"/>
<line x1="277.5" y1="659.6" x2="280.7" y2="659.6" stroke="#231f20" stroke-width="1.0"/>
<text x="275.0" y="662.6" font-size="8.6" text-anchor="end">0</text>
<line x1="277.5" y1="636.0" x2="280.7" y2="636.0" stroke="#231f20" stroke-width="1.0"/>
<text x="275.0" y="639.0" font-size="8.6" text-anchor="end">2</text>
<line x1="277.5" y1="612.4" x2="280.7" y2="612.4" stroke="#231f20" stroke-width="1.0"/>
<text x="275.0" y="615.4" font-size="8.6" text-anchor="end">4</text>
<line x1="277.5" y1="588.8" x2="280.7" y2="588.8" stroke="#231f20" stroke-width="1.0"/>
<text x="275.0" y="591.8" font-size="8.6" text-anchor="end">6</text>
<line x1="277.5" y1="565.2" x2="280.7" y2="565.2" stroke="#231f20" stroke-width="1.0"/>
<text x="275.0" y="568.2" font-size="8.6" text-anchor="end">8</text>
<line x1="300.3" y1="670.3" x2="300.3" y2="673.5" stroke="#231f20" stroke-width="1.0"/>
<line x1="329.5" y1="670.3" x2="329.5" y2="673.5" stroke="#231f20" stroke-width="1.0"/>
<text x="300.3" y="684.6" font-size="8.6" text-anchor="middle" textLength="29.4" lengthAdjust="spacingAndGlyphs">Healthy</text>
<text x="329.5" y="684.6" font-size="8.6" text-anchor="middle" textLength="18.8" lengthAdjust="spacingAndGlyphs">MDS</text>
<text x="315.5" y="545.8" font-size="10.2" text-anchor="middle" font-style="italic">CXCL13</text>
<text x="263.7" y="615.7" font-size="10.0" text-anchor="middle" transform="rotate(-90 263.7 615.7)" textLength="46.5" lengthAdjust="spacingAndGlyphs">RPKM values</text>
<circle cx="418.46" cy="602.31" r="2.15" fill="#4a1a5c"/>
<circle cx="412.31" cy="617.08" r="2.15" fill="#4a1a5c"/>
<circle cx="423.08" cy="619.23" r="2.15" fill="#4a1a5c"/>
<circle cx="424.62" cy="619.23" r="2.15" fill="#4a1a5c"/>
<circle cx="429.23" cy="619.85" r="2.15" fill="#4a1a5c"/>
<circle cx="428.31" cy="623.23" r="2.15" fill="#4a1a5c"/>
<circle cx="446.77" cy="615.54" r="2.15" fill="#4a1a5c"/>
<circle cx="449.23" cy="618.31" r="2.15" fill="#4a1a5c"/>
<circle cx="446.77" cy="623.23" r="2.15" fill="#4a1a5c"/>
<circle cx="465.54" cy="607.54" r="2.15" fill="#4a1a5c"/>
<circle cx="486.77" cy="593.08" r="2.15" fill="#4a1a5c"/>
<circle cx="417.85" cy="640.77" r="2.15" fill="#4a1a5c"/>
<circle cx="426.15" cy="640.15" r="2.15" fill="#4a1a5c"/>
<circle cx="416.92" cy="646.92" r="2.15" fill="#4a1a5c"/>
<circle cx="419.08" cy="648.46" r="2.15" fill="#4a1a5c"/>
<circle cx="421.54" cy="644.46" r="2.15" fill="#4a1a5c"/>
<circle cx="415.38" cy="650.00" r="2.15" fill="#4a1a5c"/>
<circle cx="420.92" cy="651.54" r="2.15" fill="#4a1a5c"/>
<circle cx="433.85" cy="650.00" r="2.15" fill="#4a1a5c"/>
<circle cx="438.46" cy="643.85" r="2.15" fill="#4a1a5c"/>
<circle cx="440.62" cy="643.23" r="2.15" fill="#4a1a5c"/>
<line x1="404.8" y1="562.4950000000001" x2="404.8" y2="670.8000000000001" stroke="#231f20" stroke-width="1.3"/>
<line x1="404.2" y1="670.2" x2="511.7" y2="670.2" stroke="#231f20" stroke-width="1.3"/>
<line x1="401.6" y1="670.2" x2="404.8" y2="670.2" stroke="#231f20" stroke-width="1.0"/>
<text x="398.5" y="673.2" font-size="8.6" text-anchor="end">0</text>
<line x1="401.6" y1="635.2650000000001" x2="404.8" y2="635.2650000000001" stroke="#231f20" stroke-width="1.0"/>
<text x="398.5" y="638.2650000000001" font-size="8.6" text-anchor="end">50</text>
<line x1="401.6" y1="600.33" x2="404.8" y2="600.33" stroke="#231f20" stroke-width="1.0"/>
<text x="398.5" y="603.33" font-size="8.6" text-anchor="end">100</text>
<line x1="401.6" y1="565.3950000000001" x2="404.8" y2="565.3950000000001" stroke="#231f20" stroke-width="1.0"/>
<text x="398.5" y="568.3950000000001" font-size="8.6" text-anchor="end">150</text>
<line x1="404.8" y1="670.2" x2="404.8" y2="673.4000000000001" stroke="#231f20" stroke-width="1.0"/>
<text x="404.8" y="683.5" font-size="8.6" text-anchor="middle">0</text>
<line x1="439.8" y1="670.2" x2="439.8" y2="673.4000000000001" stroke="#231f20" stroke-width="1.0"/>
<text x="439.8" y="683.5" font-size="8.6" text-anchor="middle">1</text>
<line x1="474.8" y1="670.2" x2="474.8" y2="673.4000000000001" stroke="#231f20" stroke-width="1.0"/>
<text x="474.8" y="683.5" font-size="8.6" text-anchor="middle">2</text>
<line x1="509.8" y1="670.2" x2="509.8" y2="673.4000000000001" stroke="#231f20" stroke-width="1.0"/>
<text x="509.8" y="683.5" font-size="8.6" text-anchor="middle">3</text>
<text x="378.6" y="615.5" font-size="10.8" text-anchor="middle" font-style="italic" transform="rotate(-90 378.6 615.5)" textLength="26.8" lengthAdjust="spacingAndGlyphs">CXCL12</text>
<text x="459.0" y="698.2" font-size="10.6" text-anchor="middle" font-style="italic" textLength="30.2" lengthAdjust="spacingAndGlyphs">CDKN2B</text>
<text x="481" y="569.7" font-size="8.6"><tspan font-style="italic">r</tspan> = 0.57</text>
<text x="480.6" y="582.3" font-size="8.6"><tspan font-style="italic">P</tspan> = .006</text>
<rect x="0" y="0" width="1.25" height="708" fill="#525252"/>
<rect x="0" y="0" width="520" height="1.1" fill="#525252"/>
<rect x="518.7" y="0" width="1.3" height="708" fill="#525252"/>
<rect x="0" y="706.4" width="520" height="1.6" fill="#4a4a4a"/>
</svg></body></html>
